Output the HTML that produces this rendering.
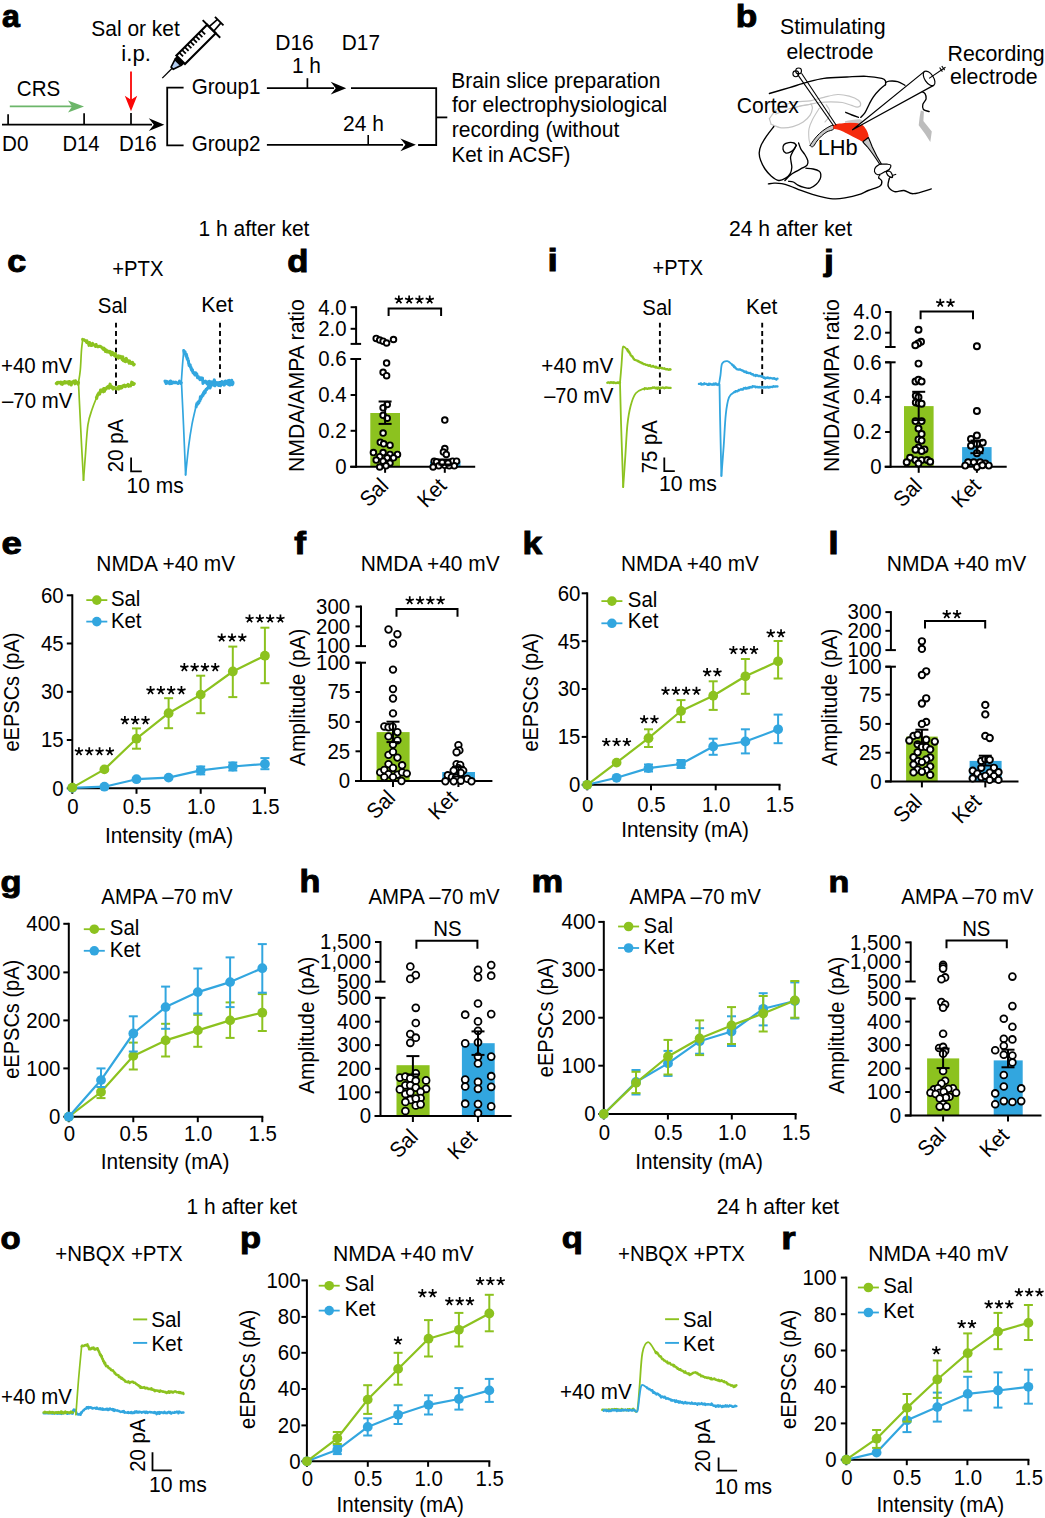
<!DOCTYPE html>
<html><head><meta charset="utf-8"><style>
html,body{margin:0;padding:0;background:#fff;}
svg{display:block;font-family:"Liberation Sans",sans-serif;font-size:21.8px;}
</style></head><body>
<svg width="1045" height="1518" viewBox="0 0 1045 1518">
<rect width="1045" height="1518" fill="#fff"/>
<text x="198.52" y="236.40" textLength="110.95" lengthAdjust="spacingAndGlyphs">1 h after ket</text>
<text x="728.94" y="236.40" textLength="123.21" lengthAdjust="spacingAndGlyphs">24 h after ket</text>
<text x="186.53" y="1213.80" textLength="110.65" lengthAdjust="spacingAndGlyphs">1 h after ket</text>
<text x="716.65" y="1213.80" textLength="122.50" lengthAdjust="spacingAndGlyphs">24 h after ket</text>
<text x="0" y="0" font-size="100" font-weight="bold" stroke="#000" stroke-width="3.130" transform="translate(2.09,27.03) scale(0.3211,0.3178)">a</text>
<text x="0" y="0" font-size="100" font-weight="bold" stroke="#000" stroke-width="3.018" transform="translate(735.66,27.14) scale(0.3525,0.3102)">b</text>
<text x="0" y="0" font-size="100" font-weight="bold" stroke="#000" stroke-width="3.076" transform="translate(7.23,271.54) scale(0.3415,0.3087)">c</text>
<text x="0" y="0" font-size="100" font-weight="bold" stroke="#000" stroke-width="3.033" transform="translate(287.36,271.64) scale(0.3465,0.3129)">d</text>
<text x="0" y="0" font-size="100" font-weight="bold" stroke="#000" stroke-width="2.954" transform="translate(547.55,271.25) scale(0.3709,0.3062)">i</text>
<text x="0" y="0" font-size="100" font-weight="bold" stroke="#000" stroke-width="3.057" transform="translate(824.08,270.74) scale(0.3551,0.2992)">j</text>
<text x="0" y="0" font-size="100" font-weight="bold" stroke="#000" stroke-width="2.913" transform="translate(1.58,553.93) scale(0.3668,0.3196)">e</text>
<text x="0" y="0" font-size="100" font-weight="bold" stroke="#000" stroke-width="3.010" transform="translate(294.33,553.75) scale(0.3528,0.3117)">f</text>
<text x="0" y="0" font-size="100" font-weight="bold" stroke="#000" stroke-width="3.022" transform="translate(522.48,553.75) scale(0.3528,0.3090)">k</text>
<text x="0" y="0" font-size="100" font-weight="bold" stroke="#000" stroke-width="2.916" transform="translate(828.20,553.75) scale(0.3782,0.3076)">l</text>
<text x="0" y="0" font-size="100" font-weight="bold" stroke="#000" stroke-width="3.108" transform="translate(0.53,892.17) scale(0.3436,0.3000)">g</text>
<text x="0" y="0" font-size="100" font-weight="bold" stroke="#000" stroke-width="3.074" transform="translate(299.46,892.25) scale(0.3417,0.3090)">h</text>
<text x="0" y="0" font-size="100" font-weight="bold" stroke="#000" stroke-width="3.022" transform="translate(531.53,892.25) scale(0.3567,0.3051)">m</text>
<text x="0" y="0" font-size="100" font-weight="bold" stroke="#000" stroke-width="3.117" transform="translate(828.44,892.25) scale(0.3402,0.3014)">n</text>
<text x="0" y="0" font-size="100" font-weight="bold" stroke="#000" stroke-width="3.139" transform="translate(0.39,1248.69) scale(0.3294,0.3078)">o</text>
<text x="0" y="0" font-size="100" font-weight="bold" stroke="#000" stroke-width="3.137" transform="translate(239.91,1247.97) scale(0.3446,0.2930)">p</text>
<text x="0" y="0" font-size="100" font-weight="bold" stroke="#000" stroke-width="3.132" transform="translate(561.87,1247.95) scale(0.3446,0.2940)">q</text>
<text x="0" y="0" font-size="100" font-weight="bold" stroke="#000" stroke-width="2.934" transform="translate(781.24,1248.85) scale(0.3710,0.3107)">r</text>
<text x="96.27" y="570.70" textLength="139.01" lengthAdjust="spacingAndGlyphs">NMDA +40 mV</text>
<line x1="72.3" y1="594.3" x2="72.3" y2="789.3" stroke="#000" stroke-width="2.0"/>
<line x1="71.3" y1="788.3" x2="265.9" y2="788.3" stroke="#000" stroke-width="2.0"/>
<line x1="66.8" y1="595.3" x2="72.3" y2="595.3" stroke="#000" stroke-width="2.0"/>
<text x="63.7" y="602.6" text-anchor="end" textLength="22.69" lengthAdjust="spacingAndGlyphs">60</text>
<line x1="66.8" y1="643.5" x2="72.3" y2="643.5" stroke="#000" stroke-width="2.0"/>
<text x="63.7" y="650.8" text-anchor="end" textLength="22.69" lengthAdjust="spacingAndGlyphs">45</text>
<line x1="66.8" y1="691.8" x2="72.3" y2="691.8" stroke="#000" stroke-width="2.0"/>
<text x="63.7" y="699.1" text-anchor="end" textLength="22.69" lengthAdjust="spacingAndGlyphs">30</text>
<line x1="66.8" y1="740.0" x2="72.3" y2="740.0" stroke="#000" stroke-width="2.0"/>
<text x="63.7" y="747.3" text-anchor="end" textLength="22.69" lengthAdjust="spacingAndGlyphs">15</text>
<line x1="66.8" y1="788.3" x2="72.3" y2="788.3" stroke="#000" stroke-width="2.0"/>
<text x="63.7" y="795.6" text-anchor="end" textLength="11.35" lengthAdjust="spacingAndGlyphs">0</text>
<line x1="72.3" y1="788.3" x2="72.3" y2="793.8" stroke="#000" stroke-width="2.0"/>
<text x="72.8" y="814.0" text-anchor="middle" textLength="11.35" lengthAdjust="spacingAndGlyphs">0</text>
<line x1="136.5" y1="788.3" x2="136.5" y2="793.8" stroke="#000" stroke-width="2.0"/>
<text x="137.0" y="814.0" text-anchor="middle" textLength="28.36" lengthAdjust="spacingAndGlyphs">0.5</text>
<line x1="200.7" y1="788.3" x2="200.7" y2="793.8" stroke="#000" stroke-width="2.0"/>
<text x="201.2" y="814.0" text-anchor="middle" textLength="28.36" lengthAdjust="spacingAndGlyphs">1.0</text>
<line x1="264.9" y1="788.3" x2="264.9" y2="793.8" stroke="#000" stroke-width="2.0"/>
<text x="265.4" y="814.0" text-anchor="middle" textLength="28.36" lengthAdjust="spacingAndGlyphs">1.5</text>
<text x="104.98" y="842.50" textLength="128.13" lengthAdjust="spacingAndGlyphs">Intensity (mA)</text>
<text x="18.50" y="750.70" textLength="119.03" lengthAdjust="spacingAndGlyphs" transform="rotate(-90 19.35 750.70)">eEPSCs (pA)</text>
<path d="M72.3,787.9 L104.4,786.7 L136.5,779.2 L168.6,777.6 L200.7,770.4 L232.8,766.5 L264.9,764.0" stroke="#32a6df" stroke-width="2.2" fill="none" stroke-linejoin="round"/>
<line x1="200.7" y1="766.5" x2="200.7" y2="774.4" stroke="#32a6df" stroke-width="2.0"/>
<line x1="196.2" y1="766.5" x2="205.2" y2="766.5" stroke="#32a6df" stroke-width="2.0"/>
<line x1="196.2" y1="774.4" x2="205.2" y2="774.4" stroke="#32a6df" stroke-width="2.0"/>
<line x1="232.8" y1="762.5" x2="232.8" y2="770.5" stroke="#32a6df" stroke-width="2.0"/>
<line x1="228.3" y1="762.5" x2="237.3" y2="762.5" stroke="#32a6df" stroke-width="2.0"/>
<line x1="228.3" y1="770.5" x2="237.3" y2="770.5" stroke="#32a6df" stroke-width="2.0"/>
<line x1="264.9" y1="758.1" x2="264.9" y2="769.2" stroke="#32a6df" stroke-width="2.0"/>
<line x1="260.4" y1="758.1" x2="269.4" y2="758.1" stroke="#32a6df" stroke-width="2.0"/>
<line x1="260.4" y1="769.2" x2="269.4" y2="769.2" stroke="#32a6df" stroke-width="2.0"/>
<circle cx="72.3" cy="787.9" r="4.9" fill="#32a6df"/>
<circle cx="104.4" cy="786.7" r="4.9" fill="#32a6df"/>
<circle cx="136.5" cy="779.2" r="4.9" fill="#32a6df"/>
<circle cx="168.6" cy="777.6" r="4.9" fill="#32a6df"/>
<circle cx="200.7" cy="770.4" r="4.9" fill="#32a6df"/>
<circle cx="232.8" cy="766.5" r="4.9" fill="#32a6df"/>
<circle cx="264.9" cy="764.0" r="4.9" fill="#32a6df"/>
<path d="M72.3,787.6 L104.4,769.4 L136.5,738.7 L168.6,713.2 L200.7,694.6 L232.8,671.5 L264.9,655.7" stroke="#8cc21f" stroke-width="2.2" fill="none" stroke-linejoin="round"/>
<line x1="136.5" y1="728.4" x2="136.5" y2="748.7" stroke="#8cc21f" stroke-width="2.0"/>
<line x1="132.0" y1="728.4" x2="141.0" y2="728.4" stroke="#8cc21f" stroke-width="2.0"/>
<line x1="132.0" y1="748.7" x2="141.0" y2="748.7" stroke="#8cc21f" stroke-width="2.0"/>
<line x1="168.6" y1="698.2" x2="168.6" y2="728.2" stroke="#8cc21f" stroke-width="2.0"/>
<line x1="164.1" y1="698.2" x2="173.1" y2="698.2" stroke="#8cc21f" stroke-width="2.0"/>
<line x1="164.1" y1="728.2" x2="173.1" y2="728.2" stroke="#8cc21f" stroke-width="2.0"/>
<line x1="200.7" y1="675.7" x2="200.7" y2="713.2" stroke="#8cc21f" stroke-width="2.0"/>
<line x1="196.2" y1="675.7" x2="205.2" y2="675.7" stroke="#8cc21f" stroke-width="2.0"/>
<line x1="196.2" y1="713.2" x2="205.2" y2="713.2" stroke="#8cc21f" stroke-width="2.0"/>
<line x1="232.8" y1="646.6" x2="232.8" y2="697.1" stroke="#8cc21f" stroke-width="2.0"/>
<line x1="228.3" y1="646.6" x2="237.3" y2="646.6" stroke="#8cc21f" stroke-width="2.0"/>
<line x1="228.3" y1="697.1" x2="237.3" y2="697.1" stroke="#8cc21f" stroke-width="2.0"/>
<line x1="264.9" y1="627.7" x2="264.9" y2="683.2" stroke="#8cc21f" stroke-width="2.0"/>
<line x1="260.4" y1="627.7" x2="269.4" y2="627.7" stroke="#8cc21f" stroke-width="2.0"/>
<line x1="260.4" y1="683.2" x2="269.4" y2="683.2" stroke="#8cc21f" stroke-width="2.0"/>
<circle cx="72.3" cy="787.6" r="4.9" fill="#8cc21f"/>
<circle cx="104.4" cy="769.4" r="4.9" fill="#8cc21f"/>
<circle cx="136.5" cy="738.7" r="4.9" fill="#8cc21f"/>
<circle cx="168.6" cy="713.2" r="4.9" fill="#8cc21f"/>
<circle cx="200.7" cy="694.6" r="4.9" fill="#8cc21f"/>
<circle cx="232.8" cy="671.5" r="4.9" fill="#8cc21f"/>
<circle cx="264.9" cy="655.7" r="4.9" fill="#8cc21f"/>
<line x1="86.3" y1="600.1" x2="107.3" y2="600.1" stroke="#8cc21f" stroke-width="1.8"/>
<circle cx="96.8" cy="600.1" r="4.8" fill="#8cc21f"/>
<text x="110.9" y="606.4" text-anchor="start" textLength="29.49" lengthAdjust="spacingAndGlyphs">Sal</text>
<line x1="86.3" y1="621.6" x2="107.3" y2="621.6" stroke="#32a6df" stroke-width="1.8"/>
<circle cx="96.8" cy="621.6" r="4.8" fill="#32a6df"/>
<text x="110.9" y="628.0" text-anchor="start" textLength="30.62" lengthAdjust="spacingAndGlyphs">Ket</text>
<path d="M78.95,751.50 L78.95,747.20 M78.95,751.50 L83.04,750.17 M78.95,751.50 L81.48,754.98 M78.95,751.50 L76.42,754.98 M78.95,751.50 L74.86,750.17 " stroke="#000" stroke-width="1.7" fill="none"/>
<path d="M89.25,751.50 L89.25,747.20 M89.25,751.50 L93.34,750.17 M89.25,751.50 L91.78,754.98 M89.25,751.50 L86.72,754.98 M89.25,751.50 L85.16,750.17 " stroke="#000" stroke-width="1.7" fill="none"/>
<path d="M99.55,751.50 L99.55,747.20 M99.55,751.50 L103.64,750.17 M99.55,751.50 L102.08,754.98 M99.55,751.50 L97.02,754.98 M99.55,751.50 L95.46,750.17 " stroke="#000" stroke-width="1.7" fill="none"/>
<path d="M109.85,751.50 L109.85,747.20 M109.85,751.50 L113.94,750.17 M109.85,751.50 L112.38,754.98 M109.85,751.50 L107.32,754.98 M109.85,751.50 L105.76,750.17 " stroke="#000" stroke-width="1.7" fill="none"/>
<path d="M124.90,720.40 L124.90,716.10 M124.90,720.40 L128.99,719.07 M124.90,720.40 L127.43,723.88 M124.90,720.40 L122.37,723.88 M124.90,720.40 L120.81,719.07 " stroke="#000" stroke-width="1.7" fill="none"/>
<path d="M135.20,720.40 L135.20,716.10 M135.20,720.40 L139.29,719.07 M135.20,720.40 L137.73,723.88 M135.20,720.40 L132.67,723.88 M135.20,720.40 L131.11,719.07 " stroke="#000" stroke-width="1.7" fill="none"/>
<path d="M145.50,720.40 L145.50,716.10 M145.50,720.40 L149.59,719.07 M145.50,720.40 L148.03,723.88 M145.50,720.40 L142.97,723.88 M145.50,720.40 L141.41,719.07 " stroke="#000" stroke-width="1.7" fill="none"/>
<path d="M150.55,690.40 L150.55,686.10 M150.55,690.40 L154.64,689.07 M150.55,690.40 L153.08,693.88 M150.55,690.40 L148.02,693.88 M150.55,690.40 L146.46,689.07 " stroke="#000" stroke-width="1.7" fill="none"/>
<path d="M160.85,690.40 L160.85,686.10 M160.85,690.40 L164.94,689.07 M160.85,690.40 L163.38,693.88 M160.85,690.40 L158.32,693.88 M160.85,690.40 L156.76,689.07 " stroke="#000" stroke-width="1.7" fill="none"/>
<path d="M171.15,690.40 L171.15,686.10 M171.15,690.40 L175.24,689.07 M171.15,690.40 L173.68,693.88 M171.15,690.40 L168.62,693.88 M171.15,690.40 L167.06,689.07 " stroke="#000" stroke-width="1.7" fill="none"/>
<path d="M181.45,690.40 L181.45,686.10 M181.45,690.40 L185.54,689.07 M181.45,690.40 L183.98,693.88 M181.45,690.40 L178.92,693.88 M181.45,690.40 L177.36,689.07 " stroke="#000" stroke-width="1.7" fill="none"/>
<path d="M184.35,667.40 L184.35,663.10 M184.35,667.40 L188.44,666.07 M184.35,667.40 L186.88,670.88 M184.35,667.40 L181.82,670.88 M184.35,667.40 L180.26,666.07 " stroke="#000" stroke-width="1.7" fill="none"/>
<path d="M194.65,667.40 L194.65,663.10 M194.65,667.40 L198.74,666.07 M194.65,667.40 L197.18,670.88 M194.65,667.40 L192.12,670.88 M194.65,667.40 L190.56,666.07 " stroke="#000" stroke-width="1.7" fill="none"/>
<path d="M204.95,667.40 L204.95,663.10 M204.95,667.40 L209.04,666.07 M204.95,667.40 L207.48,670.88 M204.95,667.40 L202.42,670.88 M204.95,667.40 L200.86,666.07 " stroke="#000" stroke-width="1.7" fill="none"/>
<path d="M215.25,667.40 L215.25,663.10 M215.25,667.40 L219.34,666.07 M215.25,667.40 L217.78,670.88 M215.25,667.40 L212.72,670.88 M215.25,667.40 L211.16,666.07 " stroke="#000" stroke-width="1.7" fill="none"/>
<path d="M221.70,637.70 L221.70,633.40 M221.70,637.70 L225.79,636.37 M221.70,637.70 L224.23,641.18 M221.70,637.70 L219.17,641.18 M221.70,637.70 L217.61,636.37 " stroke="#000" stroke-width="1.7" fill="none"/>
<path d="M232.00,637.70 L232.00,633.40 M232.00,637.70 L236.09,636.37 M232.00,637.70 L234.53,641.18 M232.00,637.70 L229.47,641.18 M232.00,637.70 L227.91,636.37 " stroke="#000" stroke-width="1.7" fill="none"/>
<path d="M242.30,637.70 L242.30,633.40 M242.30,637.70 L246.39,636.37 M242.30,637.70 L244.83,641.18 M242.30,637.70 L239.77,641.18 M242.30,637.70 L238.21,636.37 " stroke="#000" stroke-width="1.7" fill="none"/>
<path d="M249.55,618.80 L249.55,614.50 M249.55,618.80 L253.64,617.47 M249.55,618.80 L252.08,622.28 M249.55,618.80 L247.02,622.28 M249.55,618.80 L245.46,617.47 " stroke="#000" stroke-width="1.7" fill="none"/>
<path d="M259.85,618.80 L259.85,614.50 M259.85,618.80 L263.94,617.47 M259.85,618.80 L262.38,622.28 M259.85,618.80 L257.32,622.28 M259.85,618.80 L255.76,617.47 " stroke="#000" stroke-width="1.7" fill="none"/>
<path d="M270.15,618.80 L270.15,614.50 M270.15,618.80 L274.24,617.47 M270.15,618.80 L272.68,622.28 M270.15,618.80 L267.62,622.28 M270.15,618.80 L266.06,617.47 " stroke="#000" stroke-width="1.7" fill="none"/>
<path d="M280.45,618.80 L280.45,614.50 M280.45,618.80 L284.54,617.47 M280.45,618.80 L282.98,622.28 M280.45,618.80 L277.92,622.28 M280.45,618.80 L276.36,617.47 " stroke="#000" stroke-width="1.7" fill="none"/>
<text x="620.99" y="571.10" textLength="137.79" lengthAdjust="spacingAndGlyphs">NMDA +40 mV</text>
<line x1="587.2" y1="592.3" x2="587.2" y2="785.8" stroke="#000" stroke-width="2.0"/>
<line x1="586.2" y1="784.8" x2="780.5" y2="784.8" stroke="#000" stroke-width="2.0"/>
<line x1="581.7" y1="593.3" x2="587.2" y2="593.3" stroke="#000" stroke-width="2.0"/>
<text x="580.4" y="600.6" text-anchor="end" textLength="22.69" lengthAdjust="spacingAndGlyphs">60</text>
<line x1="581.7" y1="641.2" x2="587.2" y2="641.2" stroke="#000" stroke-width="2.0"/>
<text x="580.4" y="648.5" text-anchor="end" textLength="22.69" lengthAdjust="spacingAndGlyphs">45</text>
<line x1="581.7" y1="689.0" x2="587.2" y2="689.0" stroke="#000" stroke-width="2.0"/>
<text x="580.4" y="696.3" text-anchor="end" textLength="22.69" lengthAdjust="spacingAndGlyphs">30</text>
<line x1="581.7" y1="736.9" x2="587.2" y2="736.9" stroke="#000" stroke-width="2.0"/>
<text x="580.4" y="744.2" text-anchor="end" textLength="22.69" lengthAdjust="spacingAndGlyphs">15</text>
<line x1="581.7" y1="784.8" x2="587.2" y2="784.8" stroke="#000" stroke-width="2.0"/>
<text x="580.4" y="792.1" text-anchor="end" textLength="11.35" lengthAdjust="spacingAndGlyphs">0</text>
<line x1="587.2" y1="784.8" x2="587.2" y2="790.3" stroke="#000" stroke-width="2.0"/>
<text x="587.7" y="811.7" text-anchor="middle" textLength="11.35" lengthAdjust="spacingAndGlyphs">0</text>
<line x1="651.0" y1="784.8" x2="651.0" y2="790.3" stroke="#000" stroke-width="2.0"/>
<text x="651.5" y="811.7" text-anchor="middle" textLength="28.36" lengthAdjust="spacingAndGlyphs">0.5</text>
<line x1="715.7" y1="784.8" x2="715.7" y2="790.3" stroke="#000" stroke-width="2.0"/>
<text x="716.2" y="811.7" text-anchor="middle" textLength="28.36" lengthAdjust="spacingAndGlyphs">1.0</text>
<line x1="779.5" y1="784.8" x2="779.5" y2="790.3" stroke="#000" stroke-width="2.0"/>
<text x="780.0" y="811.7" text-anchor="middle" textLength="28.36" lengthAdjust="spacingAndGlyphs">1.5</text>
<text x="621.29" y="836.70" textLength="127.62" lengthAdjust="spacingAndGlyphs">Intensity (mA)</text>
<text x="537.15" y="750.70" textLength="118.52" lengthAdjust="spacingAndGlyphs" transform="rotate(-90 538.00 750.70)">eEPSCs (pA)</text>
<path d="M587.2,784.8 L616.6,777.8 L648.5,768.1 L681.0,764.0 L713.2,746.5 L745.4,741.5 L778.1,729.3" stroke="#32a6df" stroke-width="2.2" fill="none" stroke-linejoin="round"/>
<line x1="648.5" y1="764.5" x2="648.5" y2="771.5" stroke="#32a6df" stroke-width="2.0"/>
<line x1="644.0" y1="764.5" x2="653.0" y2="764.5" stroke="#32a6df" stroke-width="2.0"/>
<line x1="644.0" y1="771.5" x2="653.0" y2="771.5" stroke="#32a6df" stroke-width="2.0"/>
<line x1="681.0" y1="760.0" x2="681.0" y2="768.0" stroke="#32a6df" stroke-width="2.0"/>
<line x1="676.5" y1="760.0" x2="685.5" y2="760.0" stroke="#32a6df" stroke-width="2.0"/>
<line x1="676.5" y1="768.0" x2="685.5" y2="768.0" stroke="#32a6df" stroke-width="2.0"/>
<line x1="713.2" y1="738.7" x2="713.2" y2="754.8" stroke="#32a6df" stroke-width="2.0"/>
<line x1="708.7" y1="738.7" x2="717.7" y2="738.7" stroke="#32a6df" stroke-width="2.0"/>
<line x1="708.7" y1="754.8" x2="717.7" y2="754.8" stroke="#32a6df" stroke-width="2.0"/>
<line x1="745.4" y1="729.3" x2="745.4" y2="753.4" stroke="#32a6df" stroke-width="2.0"/>
<line x1="740.9" y1="729.3" x2="749.9" y2="729.3" stroke="#32a6df" stroke-width="2.0"/>
<line x1="740.9" y1="753.4" x2="749.9" y2="753.4" stroke="#32a6df" stroke-width="2.0"/>
<line x1="778.1" y1="714.6" x2="778.1" y2="743.2" stroke="#32a6df" stroke-width="2.0"/>
<line x1="773.6" y1="714.6" x2="782.6" y2="714.6" stroke="#32a6df" stroke-width="2.0"/>
<line x1="773.6" y1="743.2" x2="782.6" y2="743.2" stroke="#32a6df" stroke-width="2.0"/>
<circle cx="587.2" cy="784.8" r="4.9" fill="#32a6df"/>
<circle cx="616.6" cy="777.8" r="4.9" fill="#32a6df"/>
<circle cx="648.5" cy="768.1" r="4.9" fill="#32a6df"/>
<circle cx="681.0" cy="764.0" r="4.9" fill="#32a6df"/>
<circle cx="713.2" cy="746.5" r="4.9" fill="#32a6df"/>
<circle cx="745.4" cy="741.5" r="4.9" fill="#32a6df"/>
<circle cx="778.1" cy="729.3" r="4.9" fill="#32a6df"/>
<path d="M587.2,784.8 L616.6,762.6 L648.5,738.2 L681.0,711.0 L713.2,695.7 L745.4,676.3 L778.1,661.3" stroke="#8cc21f" stroke-width="2.2" fill="none" stroke-linejoin="round"/>
<line x1="648.5" y1="729.3" x2="648.5" y2="747.0" stroke="#8cc21f" stroke-width="2.0"/>
<line x1="644.0" y1="729.3" x2="653.0" y2="729.3" stroke="#8cc21f" stroke-width="2.0"/>
<line x1="644.0" y1="747.0" x2="653.0" y2="747.0" stroke="#8cc21f" stroke-width="2.0"/>
<line x1="681.0" y1="700.1" x2="681.0" y2="722.1" stroke="#8cc21f" stroke-width="2.0"/>
<line x1="676.5" y1="700.1" x2="685.5" y2="700.1" stroke="#8cc21f" stroke-width="2.0"/>
<line x1="676.5" y1="722.1" x2="685.5" y2="722.1" stroke="#8cc21f" stroke-width="2.0"/>
<line x1="713.2" y1="681.3" x2="713.2" y2="709.9" stroke="#8cc21f" stroke-width="2.0"/>
<line x1="708.7" y1="681.3" x2="717.7" y2="681.3" stroke="#8cc21f" stroke-width="2.0"/>
<line x1="708.7" y1="709.9" x2="717.7" y2="709.9" stroke="#8cc21f" stroke-width="2.0"/>
<line x1="745.4" y1="659.0" x2="745.4" y2="693.8" stroke="#8cc21f" stroke-width="2.0"/>
<line x1="740.9" y1="659.0" x2="749.9" y2="659.0" stroke="#8cc21f" stroke-width="2.0"/>
<line x1="740.9" y1="693.8" x2="749.9" y2="693.8" stroke="#8cc21f" stroke-width="2.0"/>
<line x1="778.1" y1="641.0" x2="778.1" y2="678.5" stroke="#8cc21f" stroke-width="2.0"/>
<line x1="773.6" y1="641.0" x2="782.6" y2="641.0" stroke="#8cc21f" stroke-width="2.0"/>
<line x1="773.6" y1="678.5" x2="782.6" y2="678.5" stroke="#8cc21f" stroke-width="2.0"/>
<circle cx="587.2" cy="784.8" r="4.9" fill="#8cc21f"/>
<circle cx="616.6" cy="762.6" r="4.9" fill="#8cc21f"/>
<circle cx="648.5" cy="738.2" r="4.9" fill="#8cc21f"/>
<circle cx="681.0" cy="711.0" r="4.9" fill="#8cc21f"/>
<circle cx="713.2" cy="695.7" r="4.9" fill="#8cc21f"/>
<circle cx="745.4" cy="676.3" r="4.9" fill="#8cc21f"/>
<circle cx="778.1" cy="661.3" r="4.9" fill="#8cc21f"/>
<line x1="601.4" y1="601.1" x2="622.4" y2="601.1" stroke="#8cc21f" stroke-width="1.8"/>
<circle cx="611.9" cy="601.1" r="4.8" fill="#8cc21f"/>
<text x="627.8" y="606.7" text-anchor="start" textLength="29.49" lengthAdjust="spacingAndGlyphs">Sal</text>
<line x1="601.4" y1="623.3" x2="622.4" y2="623.3" stroke="#32a6df" stroke-width="1.8"/>
<circle cx="611.9" cy="623.3" r="4.8" fill="#32a6df"/>
<text x="627.8" y="628.0" text-anchor="start" textLength="30.62" lengthAdjust="spacingAndGlyphs">Ket</text>
<path d="M606.30,742.30 L606.30,738.00 M606.30,742.30 L610.39,740.97 M606.30,742.30 L608.83,745.78 M606.30,742.30 L603.77,745.78 M606.30,742.30 L602.21,740.97 " stroke="#000" stroke-width="1.7" fill="none"/>
<path d="M616.60,742.30 L616.60,738.00 M616.60,742.30 L620.69,740.97 M616.60,742.30 L619.13,745.78 M616.60,742.30 L614.07,745.78 M616.60,742.30 L612.51,740.97 " stroke="#000" stroke-width="1.7" fill="none"/>
<path d="M626.90,742.30 L626.90,738.00 M626.90,742.30 L630.99,740.97 M626.90,742.30 L629.43,745.78 M626.90,742.30 L624.37,745.78 M626.90,742.30 L622.81,740.97 " stroke="#000" stroke-width="1.7" fill="none"/>
<path d="M644.15,719.60 L644.15,715.30 M644.15,719.60 L648.24,718.27 M644.15,719.60 L646.68,723.08 M644.15,719.60 L641.62,723.08 M644.15,719.60 L640.06,718.27 " stroke="#000" stroke-width="1.7" fill="none"/>
<path d="M654.45,719.60 L654.45,715.30 M654.45,719.60 L658.54,718.27 M654.45,719.60 L656.98,723.08 M654.45,719.60 L651.92,723.08 M654.45,719.60 L650.36,718.27 " stroke="#000" stroke-width="1.7" fill="none"/>
<path d="M665.55,691.00 L665.55,686.70 M665.55,691.00 L669.64,689.67 M665.55,691.00 L668.08,694.48 M665.55,691.00 L663.02,694.48 M665.55,691.00 L661.46,689.67 " stroke="#000" stroke-width="1.7" fill="none"/>
<path d="M675.85,691.00 L675.85,686.70 M675.85,691.00 L679.94,689.67 M675.85,691.00 L678.38,694.48 M675.85,691.00 L673.32,694.48 M675.85,691.00 L671.76,689.67 " stroke="#000" stroke-width="1.7" fill="none"/>
<path d="M686.15,691.00 L686.15,686.70 M686.15,691.00 L690.24,689.67 M686.15,691.00 L688.68,694.48 M686.15,691.00 L683.62,694.48 M686.15,691.00 L682.06,689.67 " stroke="#000" stroke-width="1.7" fill="none"/>
<path d="M696.45,691.00 L696.45,686.70 M696.45,691.00 L700.54,689.67 M696.45,691.00 L698.98,694.48 M696.45,691.00 L693.92,694.48 M696.45,691.00 L692.36,689.67 " stroke="#000" stroke-width="1.7" fill="none"/>
<path d="M707.15,672.40 L707.15,668.10 M707.15,672.40 L711.24,671.07 M707.15,672.40 L709.68,675.88 M707.15,672.40 L704.62,675.88 M707.15,672.40 L703.06,671.07 " stroke="#000" stroke-width="1.7" fill="none"/>
<path d="M717.45,672.40 L717.45,668.10 M717.45,672.40 L721.54,671.07 M717.45,672.40 L719.98,675.88 M717.45,672.40 L714.92,675.88 M717.45,672.40 L713.36,671.07 " stroke="#000" stroke-width="1.7" fill="none"/>
<path d="M733.40,650.20 L733.40,645.90 M733.40,650.20 L737.49,648.87 M733.40,650.20 L735.93,653.68 M733.40,650.20 L730.87,653.68 M733.40,650.20 L729.31,648.87 " stroke="#000" stroke-width="1.7" fill="none"/>
<path d="M743.70,650.20 L743.70,645.90 M743.70,650.20 L747.79,648.87 M743.70,650.20 L746.23,653.68 M743.70,650.20 L741.17,653.68 M743.70,650.20 L739.61,648.87 " stroke="#000" stroke-width="1.7" fill="none"/>
<path d="M754.00,650.20 L754.00,645.90 M754.00,650.20 L758.09,648.87 M754.00,650.20 L756.53,653.68 M754.00,650.20 L751.47,653.68 M754.00,650.20 L749.91,648.87 " stroke="#000" stroke-width="1.7" fill="none"/>
<path d="M770.75,633.50 L770.75,629.20 M770.75,633.50 L774.84,632.17 M770.75,633.50 L773.28,636.98 M770.75,633.50 L768.22,636.98 M770.75,633.50 L766.66,632.17 " stroke="#000" stroke-width="1.7" fill="none"/>
<path d="M781.05,633.50 L781.05,629.20 M781.05,633.50 L785.14,632.17 M781.05,633.50 L783.58,636.98 M781.05,633.50 L778.52,636.98 M781.05,633.50 L776.96,632.17 " stroke="#000" stroke-width="1.7" fill="none"/>
<text x="101.25" y="903.90" textLength="131.43" lengthAdjust="spacingAndGlyphs">AMPA –70 mV</text>
<line x1="68.8" y1="922.8" x2="68.8" y2="1117.7" stroke="#000" stroke-width="2.0"/>
<line x1="67.8" y1="1116.7" x2="263.3" y2="1116.7" stroke="#000" stroke-width="2.0"/>
<line x1="63.3" y1="923.8" x2="68.8" y2="923.8" stroke="#000" stroke-width="2.0"/>
<text x="60.4" y="931.1" text-anchor="end" textLength="34.04" lengthAdjust="spacingAndGlyphs">400</text>
<line x1="63.3" y1="972.4" x2="68.8" y2="972.4" stroke="#000" stroke-width="2.0"/>
<text x="60.4" y="979.7" text-anchor="end" textLength="34.04" lengthAdjust="spacingAndGlyphs">300</text>
<line x1="63.3" y1="1020.4" x2="68.8" y2="1020.4" stroke="#000" stroke-width="2.0"/>
<text x="60.4" y="1027.7" text-anchor="end" textLength="34.04" lengthAdjust="spacingAndGlyphs">200</text>
<line x1="63.3" y1="1068.4" x2="68.8" y2="1068.4" stroke="#000" stroke-width="2.0"/>
<text x="60.4" y="1075.7" text-anchor="end" textLength="34.04" lengthAdjust="spacingAndGlyphs">100</text>
<line x1="63.3" y1="1116.7" x2="68.8" y2="1116.7" stroke="#000" stroke-width="2.0"/>
<text x="60.4" y="1124.0" text-anchor="end" textLength="11.35" lengthAdjust="spacingAndGlyphs">0</text>
<line x1="68.8" y1="1116.7" x2="68.8" y2="1122.2" stroke="#000" stroke-width="2.0"/>
<text x="69.3" y="1141.2" text-anchor="middle" textLength="11.35" lengthAdjust="spacingAndGlyphs">0</text>
<line x1="133.3" y1="1116.7" x2="133.3" y2="1122.2" stroke="#000" stroke-width="2.0"/>
<text x="133.8" y="1141.2" text-anchor="middle" textLength="28.36" lengthAdjust="spacingAndGlyphs">0.5</text>
<line x1="197.8" y1="1116.7" x2="197.8" y2="1122.2" stroke="#000" stroke-width="2.0"/>
<text x="198.3" y="1141.2" text-anchor="middle" textLength="28.36" lengthAdjust="spacingAndGlyphs">1.0</text>
<line x1="262.3" y1="1116.7" x2="262.3" y2="1122.2" stroke="#000" stroke-width="2.0"/>
<text x="262.8" y="1141.2" text-anchor="middle" textLength="28.36" lengthAdjust="spacingAndGlyphs">1.5</text>
<text x="100.77" y="1168.90" textLength="128.65" lengthAdjust="spacingAndGlyphs">Intensity (mA)</text>
<text x="18.35" y="1077.90" textLength="118.93" lengthAdjust="spacingAndGlyphs" transform="rotate(-90 19.20 1077.90)">eEPSCs (pA)</text>
<path d="M68.8,1116.7 L101.0,1092.0 L133.3,1055.9 L165.6,1040.4 L197.8,1030.4 L230.1,1020.4 L262.3,1012.7" stroke="#8cc21f" stroke-width="2.2" fill="none" stroke-linejoin="round"/>
<line x1="101.0" y1="1087.0" x2="101.0" y2="1098.1" stroke="#8cc21f" stroke-width="2.0"/>
<line x1="96.5" y1="1087.0" x2="105.5" y2="1087.0" stroke="#8cc21f" stroke-width="2.0"/>
<line x1="96.5" y1="1098.1" x2="105.5" y2="1098.1" stroke="#8cc21f" stroke-width="2.0"/>
<line x1="133.3" y1="1042.6" x2="133.3" y2="1069.5" stroke="#8cc21f" stroke-width="2.0"/>
<line x1="128.8" y1="1042.6" x2="137.8" y2="1042.6" stroke="#8cc21f" stroke-width="2.0"/>
<line x1="128.8" y1="1069.5" x2="137.8" y2="1069.5" stroke="#8cc21f" stroke-width="2.0"/>
<line x1="165.6" y1="1023.8" x2="165.6" y2="1056.5" stroke="#8cc21f" stroke-width="2.0"/>
<line x1="161.1" y1="1023.8" x2="170.1" y2="1023.8" stroke="#8cc21f" stroke-width="2.0"/>
<line x1="161.1" y1="1056.5" x2="170.1" y2="1056.5" stroke="#8cc21f" stroke-width="2.0"/>
<line x1="197.8" y1="1014.9" x2="197.8" y2="1046.8" stroke="#8cc21f" stroke-width="2.0"/>
<line x1="193.3" y1="1014.9" x2="202.3" y2="1014.9" stroke="#8cc21f" stroke-width="2.0"/>
<line x1="193.3" y1="1046.8" x2="202.3" y2="1046.8" stroke="#8cc21f" stroke-width="2.0"/>
<line x1="230.1" y1="1002.4" x2="230.1" y2="1037.9" stroke="#8cc21f" stroke-width="2.0"/>
<line x1="225.6" y1="1002.4" x2="234.6" y2="1002.4" stroke="#8cc21f" stroke-width="2.0"/>
<line x1="225.6" y1="1037.9" x2="234.6" y2="1037.9" stroke="#8cc21f" stroke-width="2.0"/>
<line x1="262.3" y1="994.1" x2="262.3" y2="1031.0" stroke="#8cc21f" stroke-width="2.0"/>
<line x1="257.8" y1="994.1" x2="266.8" y2="994.1" stroke="#8cc21f" stroke-width="2.0"/>
<line x1="257.8" y1="1031.0" x2="266.8" y2="1031.0" stroke="#8cc21f" stroke-width="2.0"/>
<circle cx="68.8" cy="1116.7" r="4.9" fill="#8cc21f"/>
<circle cx="101.0" cy="1092.0" r="4.9" fill="#8cc21f"/>
<circle cx="133.3" cy="1055.9" r="4.9" fill="#8cc21f"/>
<circle cx="165.6" cy="1040.4" r="4.9" fill="#8cc21f"/>
<circle cx="197.8" cy="1030.4" r="4.9" fill="#8cc21f"/>
<circle cx="230.1" cy="1020.4" r="4.9" fill="#8cc21f"/>
<circle cx="262.3" cy="1012.7" r="4.9" fill="#8cc21f"/>
<path d="M68.8,1116.7 L101.0,1080.1 L133.3,1033.5 L165.6,1007.1 L197.8,992.1 L230.1,982.1 L262.3,968.2" stroke="#32a6df" stroke-width="2.2" fill="none" stroke-linejoin="round"/>
<line x1="101.0" y1="1068.4" x2="101.0" y2="1087.0" stroke="#32a6df" stroke-width="2.0"/>
<line x1="96.5" y1="1068.4" x2="105.5" y2="1068.4" stroke="#32a6df" stroke-width="2.0"/>
<line x1="96.5" y1="1087.0" x2="105.5" y2="1087.0" stroke="#32a6df" stroke-width="2.0"/>
<line x1="133.3" y1="1016.3" x2="133.3" y2="1051.5" stroke="#32a6df" stroke-width="2.0"/>
<line x1="128.8" y1="1016.3" x2="137.8" y2="1016.3" stroke="#32a6df" stroke-width="2.0"/>
<line x1="128.8" y1="1051.5" x2="137.8" y2="1051.5" stroke="#32a6df" stroke-width="2.0"/>
<line x1="165.6" y1="986.6" x2="165.6" y2="1028.8" stroke="#32a6df" stroke-width="2.0"/>
<line x1="161.1" y1="986.6" x2="170.1" y2="986.6" stroke="#32a6df" stroke-width="2.0"/>
<line x1="161.1" y1="1028.8" x2="170.1" y2="1028.8" stroke="#32a6df" stroke-width="2.0"/>
<line x1="197.8" y1="968.5" x2="197.8" y2="1013.5" stroke="#32a6df" stroke-width="2.0"/>
<line x1="193.3" y1="968.5" x2="202.3" y2="968.5" stroke="#32a6df" stroke-width="2.0"/>
<line x1="193.3" y1="1013.5" x2="202.3" y2="1013.5" stroke="#32a6df" stroke-width="2.0"/>
<line x1="230.1" y1="957.4" x2="230.1" y2="1007.1" stroke="#32a6df" stroke-width="2.0"/>
<line x1="225.6" y1="957.4" x2="234.6" y2="957.4" stroke="#32a6df" stroke-width="2.0"/>
<line x1="225.6" y1="1007.1" x2="234.6" y2="1007.1" stroke="#32a6df" stroke-width="2.0"/>
<line x1="262.3" y1="944.1" x2="262.3" y2="992.7" stroke="#32a6df" stroke-width="2.0"/>
<line x1="257.8" y1="944.1" x2="266.8" y2="944.1" stroke="#32a6df" stroke-width="2.0"/>
<line x1="257.8" y1="992.7" x2="266.8" y2="992.7" stroke="#32a6df" stroke-width="2.0"/>
<circle cx="68.8" cy="1116.7" r="4.9" fill="#32a6df"/>
<circle cx="101.0" cy="1080.1" r="4.9" fill="#32a6df"/>
<circle cx="133.3" cy="1033.5" r="4.9" fill="#32a6df"/>
<circle cx="165.6" cy="1007.1" r="4.9" fill="#32a6df"/>
<circle cx="197.8" cy="992.1" r="4.9" fill="#32a6df"/>
<circle cx="230.1" cy="982.1" r="4.9" fill="#32a6df"/>
<circle cx="262.3" cy="968.2" r="4.9" fill="#32a6df"/>
<line x1="83.8" y1="929.2" x2="104.8" y2="929.2" stroke="#8cc21f" stroke-width="1.8"/>
<circle cx="94.3" cy="929.2" r="4.8" fill="#8cc21f"/>
<text x="109.8" y="934.9" text-anchor="start" textLength="29.49" lengthAdjust="spacingAndGlyphs">Sal</text>
<line x1="83.8" y1="950.8" x2="104.8" y2="950.8" stroke="#32a6df" stroke-width="1.8"/>
<circle cx="94.3" cy="950.8" r="4.8" fill="#32a6df"/>
<text x="109.8" y="956.7" text-anchor="start" textLength="30.62" lengthAdjust="spacingAndGlyphs">Ket</text>
<text x="629.55" y="903.90" textLength="131.43" lengthAdjust="spacingAndGlyphs">AMPA –70 mV</text>
<line x1="603.8" y1="920.9" x2="603.8" y2="1115.0" stroke="#000" stroke-width="2.0"/>
<line x1="602.8" y1="1114.0" x2="796.6" y2="1114.0" stroke="#000" stroke-width="2.0"/>
<line x1="598.3" y1="921.9" x2="603.8" y2="921.9" stroke="#000" stroke-width="2.0"/>
<text x="595.6" y="929.2" text-anchor="end" textLength="34.04" lengthAdjust="spacingAndGlyphs">400</text>
<line x1="598.3" y1="969.9" x2="603.8" y2="969.9" stroke="#000" stroke-width="2.0"/>
<text x="595.6" y="977.2" text-anchor="end" textLength="34.04" lengthAdjust="spacingAndGlyphs">300</text>
<line x1="598.3" y1="1017.7" x2="603.8" y2="1017.7" stroke="#000" stroke-width="2.0"/>
<text x="595.6" y="1025.0" text-anchor="end" textLength="34.04" lengthAdjust="spacingAndGlyphs">200</text>
<line x1="598.3" y1="1065.7" x2="603.8" y2="1065.7" stroke="#000" stroke-width="2.0"/>
<text x="595.6" y="1073.0" text-anchor="end" textLength="34.04" lengthAdjust="spacingAndGlyphs">100</text>
<line x1="598.3" y1="1114.0" x2="603.8" y2="1114.0" stroke="#000" stroke-width="2.0"/>
<text x="595.6" y="1121.3" text-anchor="end" textLength="11.35" lengthAdjust="spacingAndGlyphs">0</text>
<line x1="603.8" y1="1114.0" x2="603.8" y2="1119.5" stroke="#000" stroke-width="2.0"/>
<text x="604.3" y="1139.8" text-anchor="middle" textLength="11.35" lengthAdjust="spacingAndGlyphs">0</text>
<line x1="667.9" y1="1114.0" x2="667.9" y2="1119.5" stroke="#000" stroke-width="2.0"/>
<text x="668.4" y="1139.8" text-anchor="middle" textLength="28.36" lengthAdjust="spacingAndGlyphs">0.5</text>
<line x1="731.8" y1="1114.0" x2="731.8" y2="1119.5" stroke="#000" stroke-width="2.0"/>
<text x="732.3" y="1139.8" text-anchor="middle" textLength="28.36" lengthAdjust="spacingAndGlyphs">1.0</text>
<line x1="795.6" y1="1114.0" x2="795.6" y2="1119.5" stroke="#000" stroke-width="2.0"/>
<text x="796.1" y="1139.8" text-anchor="middle" textLength="28.36" lengthAdjust="spacingAndGlyphs">1.5</text>
<text x="635.19" y="1168.90" textLength="127.62" lengthAdjust="spacingAndGlyphs">Intensity (mA)</text>
<text x="552.65" y="1076.30" textLength="119.23" lengthAdjust="spacingAndGlyphs" transform="rotate(-90 553.50 1076.30)">eEPSCs (pA)</text>
<path d="M603.8,1114.0 L636.0,1082.0 L668.0,1063.4 L699.6,1041.2 L731.5,1031.5 L763.2,1008.8 L794.8,1001.0" stroke="#32a6df" stroke-width="2.2" fill="none" stroke-linejoin="round"/>
<line x1="636.0" y1="1070.0" x2="636.0" y2="1094.5" stroke="#32a6df" stroke-width="2.0"/>
<line x1="631.5" y1="1070.0" x2="640.5" y2="1070.0" stroke="#32a6df" stroke-width="2.0"/>
<line x1="631.5" y1="1094.5" x2="640.5" y2="1094.5" stroke="#32a6df" stroke-width="2.0"/>
<line x1="668.0" y1="1050.9" x2="668.0" y2="1075.9" stroke="#32a6df" stroke-width="2.0"/>
<line x1="663.5" y1="1050.9" x2="672.5" y2="1050.9" stroke="#32a6df" stroke-width="2.0"/>
<line x1="663.5" y1="1075.9" x2="672.5" y2="1075.9" stroke="#32a6df" stroke-width="2.0"/>
<line x1="699.6" y1="1028.2" x2="699.6" y2="1053.7" stroke="#32a6df" stroke-width="2.0"/>
<line x1="695.1" y1="1028.2" x2="704.1" y2="1028.2" stroke="#32a6df" stroke-width="2.0"/>
<line x1="695.1" y1="1053.7" x2="704.1" y2="1053.7" stroke="#32a6df" stroke-width="2.0"/>
<line x1="731.5" y1="1016.3" x2="731.5" y2="1046.0" stroke="#32a6df" stroke-width="2.0"/>
<line x1="727.0" y1="1016.3" x2="736.0" y2="1016.3" stroke="#32a6df" stroke-width="2.0"/>
<line x1="727.0" y1="1046.0" x2="736.0" y2="1046.0" stroke="#32a6df" stroke-width="2.0"/>
<line x1="763.2" y1="993.2" x2="763.2" y2="1025.4" stroke="#32a6df" stroke-width="2.0"/>
<line x1="758.7" y1="993.2" x2="767.7" y2="993.2" stroke="#32a6df" stroke-width="2.0"/>
<line x1="758.7" y1="1025.4" x2="767.7" y2="1025.4" stroke="#32a6df" stroke-width="2.0"/>
<line x1="794.8" y1="982.4" x2="794.8" y2="1018.5" stroke="#32a6df" stroke-width="2.0"/>
<line x1="790.3" y1="982.4" x2="799.3" y2="982.4" stroke="#32a6df" stroke-width="2.0"/>
<line x1="790.3" y1="1018.5" x2="799.3" y2="1018.5" stroke="#32a6df" stroke-width="2.0"/>
<circle cx="603.8" cy="1114.0" r="4.9" fill="#32a6df"/>
<circle cx="636.0" cy="1082.0" r="4.9" fill="#32a6df"/>
<circle cx="668.0" cy="1063.4" r="4.9" fill="#32a6df"/>
<circle cx="699.6" cy="1041.2" r="4.9" fill="#32a6df"/>
<circle cx="731.5" cy="1031.5" r="4.9" fill="#32a6df"/>
<circle cx="763.2" cy="1008.8" r="4.9" fill="#32a6df"/>
<circle cx="794.8" cy="1001.0" r="4.9" fill="#32a6df"/>
<path d="M603.8,1114.0 L636.0,1082.9 L668.0,1056.5 L699.6,1038.5 L731.5,1025.4 L763.2,1013.5 L794.8,1000.4" stroke="#8cc21f" stroke-width="2.2" fill="none" stroke-linejoin="round"/>
<line x1="636.0" y1="1071.8" x2="636.0" y2="1093.1" stroke="#8cc21f" stroke-width="2.0"/>
<line x1="631.5" y1="1071.8" x2="640.5" y2="1071.8" stroke="#8cc21f" stroke-width="2.0"/>
<line x1="631.5" y1="1093.1" x2="640.5" y2="1093.1" stroke="#8cc21f" stroke-width="2.0"/>
<line x1="668.0" y1="1039.9" x2="668.0" y2="1074.5" stroke="#8cc21f" stroke-width="2.0"/>
<line x1="663.5" y1="1039.9" x2="672.5" y2="1039.9" stroke="#8cc21f" stroke-width="2.0"/>
<line x1="663.5" y1="1074.5" x2="672.5" y2="1074.5" stroke="#8cc21f" stroke-width="2.0"/>
<line x1="699.6" y1="1020.4" x2="699.6" y2="1055.1" stroke="#8cc21f" stroke-width="2.0"/>
<line x1="695.1" y1="1020.4" x2="704.1" y2="1020.4" stroke="#8cc21f" stroke-width="2.0"/>
<line x1="695.1" y1="1055.1" x2="704.1" y2="1055.1" stroke="#8cc21f" stroke-width="2.0"/>
<line x1="731.5" y1="1007.1" x2="731.5" y2="1044.0" stroke="#8cc21f" stroke-width="2.0"/>
<line x1="727.0" y1="1007.1" x2="736.0" y2="1007.1" stroke="#8cc21f" stroke-width="2.0"/>
<line x1="727.0" y1="1044.0" x2="736.0" y2="1044.0" stroke="#8cc21f" stroke-width="2.0"/>
<line x1="763.2" y1="996.0" x2="763.2" y2="1031.5" stroke="#8cc21f" stroke-width="2.0"/>
<line x1="758.7" y1="996.0" x2="767.7" y2="996.0" stroke="#8cc21f" stroke-width="2.0"/>
<line x1="758.7" y1="1031.5" x2="767.7" y2="1031.5" stroke="#8cc21f" stroke-width="2.0"/>
<line x1="794.8" y1="981.0" x2="794.8" y2="1017.7" stroke="#8cc21f" stroke-width="2.0"/>
<line x1="790.3" y1="981.0" x2="799.3" y2="981.0" stroke="#8cc21f" stroke-width="2.0"/>
<line x1="790.3" y1="1017.7" x2="799.3" y2="1017.7" stroke="#8cc21f" stroke-width="2.0"/>
<circle cx="603.8" cy="1114.0" r="4.9" fill="#8cc21f"/>
<circle cx="636.0" cy="1082.9" r="4.9" fill="#8cc21f"/>
<circle cx="668.0" cy="1056.5" r="4.9" fill="#8cc21f"/>
<circle cx="699.6" cy="1038.5" r="4.9" fill="#8cc21f"/>
<circle cx="731.5" cy="1025.4" r="4.9" fill="#8cc21f"/>
<circle cx="763.2" cy="1013.5" r="4.9" fill="#8cc21f"/>
<circle cx="794.8" cy="1000.4" r="4.9" fill="#8cc21f"/>
<line x1="618.1" y1="926.5" x2="639.1" y2="926.5" stroke="#8cc21f" stroke-width="1.8"/>
<circle cx="628.6" cy="926.5" r="4.8" fill="#8cc21f"/>
<text x="643.6" y="932.7" text-anchor="start" textLength="29.49" lengthAdjust="spacingAndGlyphs">Sal</text>
<line x1="618.1" y1="948.0" x2="639.1" y2="948.0" stroke="#32a6df" stroke-width="1.8"/>
<circle cx="628.6" cy="948.0" r="4.8" fill="#32a6df"/>
<text x="643.6" y="954.1" text-anchor="start" textLength="30.62" lengthAdjust="spacingAndGlyphs">Ket</text>
<text x="333.05" y="1261.20" textLength="140.52" lengthAdjust="spacingAndGlyphs">NMDA +40 mV</text>
<line x1="306.9" y1="1279.4" x2="306.9" y2="1462.3" stroke="#000" stroke-width="2.0"/>
<line x1="305.9" y1="1461.3" x2="490.3" y2="1461.3" stroke="#000" stroke-width="2.0"/>
<line x1="301.4" y1="1280.4" x2="306.9" y2="1280.4" stroke="#000" stroke-width="2.0"/>
<text x="300.5" y="1287.7" text-anchor="end" textLength="34.04" lengthAdjust="spacingAndGlyphs">100</text>
<line x1="301.4" y1="1316.9" x2="306.9" y2="1316.9" stroke="#000" stroke-width="2.0"/>
<text x="300.5" y="1324.2" text-anchor="end" textLength="22.69" lengthAdjust="spacingAndGlyphs">80</text>
<line x1="301.4" y1="1352.8" x2="306.9" y2="1352.8" stroke="#000" stroke-width="2.0"/>
<text x="300.5" y="1360.1" text-anchor="end" textLength="22.69" lengthAdjust="spacingAndGlyphs">60</text>
<line x1="301.4" y1="1389.0" x2="306.9" y2="1389.0" stroke="#000" stroke-width="2.0"/>
<text x="300.5" y="1396.3" text-anchor="end" textLength="22.69" lengthAdjust="spacingAndGlyphs">40</text>
<line x1="301.4" y1="1425.4" x2="306.9" y2="1425.4" stroke="#000" stroke-width="2.0"/>
<text x="300.5" y="1432.7" text-anchor="end" textLength="22.69" lengthAdjust="spacingAndGlyphs">20</text>
<line x1="301.4" y1="1461.3" x2="306.9" y2="1461.3" stroke="#000" stroke-width="2.0"/>
<text x="300.5" y="1468.6" text-anchor="end" textLength="11.35" lengthAdjust="spacingAndGlyphs">0</text>
<line x1="306.9" y1="1461.3" x2="306.9" y2="1466.8" stroke="#000" stroke-width="2.0"/>
<text x="307.4" y="1485.7" text-anchor="middle" textLength="11.35" lengthAdjust="spacingAndGlyphs">0</text>
<line x1="367.8" y1="1461.3" x2="367.8" y2="1466.8" stroke="#000" stroke-width="2.0"/>
<text x="368.3" y="1485.7" text-anchor="middle" textLength="28.36" lengthAdjust="spacingAndGlyphs">0.5</text>
<line x1="428.1" y1="1461.3" x2="428.1" y2="1466.8" stroke="#000" stroke-width="2.0"/>
<text x="428.6" y="1485.7" text-anchor="middle" textLength="28.36" lengthAdjust="spacingAndGlyphs">1.0</text>
<line x1="489.3" y1="1461.3" x2="489.3" y2="1466.8" stroke="#000" stroke-width="2.0"/>
<text x="489.8" y="1485.7" text-anchor="middle" textLength="28.36" lengthAdjust="spacingAndGlyphs">1.5</text>
<text x="336.59" y="1512.10" textLength="127.31" lengthAdjust="spacingAndGlyphs">Intensity (mA)</text>
<text x="254.65" y="1428.10" textLength="119.03" lengthAdjust="spacingAndGlyphs" transform="rotate(-90 255.50 1428.10)">eEPSCs (pA)</text>
<path d="M306.9,1461.3 L337.3,1449.8 L367.7,1426.9 L398.1,1414.8 L428.5,1404.8 L458.9,1399.0 L489.3,1390.4" stroke="#32a6df" stroke-width="2.2" fill="none" stroke-linejoin="round"/>
<line x1="337.3" y1="1445.5" x2="337.3" y2="1454.1" stroke="#32a6df" stroke-width="2.0"/>
<line x1="332.8" y1="1445.5" x2="341.8" y2="1445.5" stroke="#32a6df" stroke-width="2.0"/>
<line x1="332.8" y1="1454.1" x2="341.8" y2="1454.1" stroke="#32a6df" stroke-width="2.0"/>
<line x1="367.7" y1="1418.3" x2="367.7" y2="1435.5" stroke="#32a6df" stroke-width="2.0"/>
<line x1="363.2" y1="1418.3" x2="372.2" y2="1418.3" stroke="#32a6df" stroke-width="2.0"/>
<line x1="363.2" y1="1435.5" x2="372.2" y2="1435.5" stroke="#32a6df" stroke-width="2.0"/>
<line x1="398.1" y1="1405.3" x2="398.1" y2="1424.0" stroke="#32a6df" stroke-width="2.0"/>
<line x1="393.6" y1="1405.3" x2="402.6" y2="1405.3" stroke="#32a6df" stroke-width="2.0"/>
<line x1="393.6" y1="1424.0" x2="402.6" y2="1424.0" stroke="#32a6df" stroke-width="2.0"/>
<line x1="428.5" y1="1395.3" x2="428.5" y2="1414.5" stroke="#32a6df" stroke-width="2.0"/>
<line x1="424.0" y1="1395.3" x2="433.0" y2="1395.3" stroke="#32a6df" stroke-width="2.0"/>
<line x1="424.0" y1="1414.5" x2="433.0" y2="1414.5" stroke="#32a6df" stroke-width="2.0"/>
<line x1="458.9" y1="1388.1" x2="458.9" y2="1409.6" stroke="#32a6df" stroke-width="2.0"/>
<line x1="454.4" y1="1388.1" x2="463.4" y2="1388.1" stroke="#32a6df" stroke-width="2.0"/>
<line x1="454.4" y1="1409.6" x2="463.4" y2="1409.6" stroke="#32a6df" stroke-width="2.0"/>
<line x1="489.3" y1="1378.9" x2="489.3" y2="1401.9" stroke="#32a6df" stroke-width="2.0"/>
<line x1="484.8" y1="1378.9" x2="493.8" y2="1378.9" stroke="#32a6df" stroke-width="2.0"/>
<line x1="484.8" y1="1401.9" x2="493.8" y2="1401.9" stroke="#32a6df" stroke-width="2.0"/>
<circle cx="306.9" cy="1461.3" r="4.9" fill="#32a6df"/>
<circle cx="337.3" cy="1449.8" r="4.9" fill="#32a6df"/>
<circle cx="367.7" cy="1426.9" r="4.9" fill="#32a6df"/>
<circle cx="398.1" cy="1414.8" r="4.9" fill="#32a6df"/>
<circle cx="428.5" cy="1404.8" r="4.9" fill="#32a6df"/>
<circle cx="458.9" cy="1399.0" r="4.9" fill="#32a6df"/>
<circle cx="489.3" cy="1390.4" r="4.9" fill="#32a6df"/>
<path d="M306.9,1461.3 L337.3,1438.3 L367.7,1399.6 L398.1,1368.9 L428.5,1338.7 L458.9,1329.8 L489.3,1313.5" stroke="#8cc21f" stroke-width="2.2" fill="none" stroke-linejoin="round"/>
<line x1="337.3" y1="1432.0" x2="337.3" y2="1444.0" stroke="#8cc21f" stroke-width="2.0"/>
<line x1="332.8" y1="1432.0" x2="341.8" y2="1432.0" stroke="#8cc21f" stroke-width="2.0"/>
<line x1="332.8" y1="1444.0" x2="341.8" y2="1444.0" stroke="#8cc21f" stroke-width="2.0"/>
<line x1="367.7" y1="1385.2" x2="367.7" y2="1413.9" stroke="#8cc21f" stroke-width="2.0"/>
<line x1="363.2" y1="1385.2" x2="372.2" y2="1385.2" stroke="#8cc21f" stroke-width="2.0"/>
<line x1="363.2" y1="1413.9" x2="372.2" y2="1413.9" stroke="#8cc21f" stroke-width="2.0"/>
<line x1="398.1" y1="1352.8" x2="398.1" y2="1384.7" stroke="#8cc21f" stroke-width="2.0"/>
<line x1="393.6" y1="1352.8" x2="402.6" y2="1352.8" stroke="#8cc21f" stroke-width="2.0"/>
<line x1="393.6" y1="1384.7" x2="402.6" y2="1384.7" stroke="#8cc21f" stroke-width="2.0"/>
<line x1="428.5" y1="1320.1" x2="428.5" y2="1356.5" stroke="#8cc21f" stroke-width="2.0"/>
<line x1="424.0" y1="1320.1" x2="433.0" y2="1320.1" stroke="#8cc21f" stroke-width="2.0"/>
<line x1="424.0" y1="1356.5" x2="433.0" y2="1356.5" stroke="#8cc21f" stroke-width="2.0"/>
<line x1="458.9" y1="1312.9" x2="458.9" y2="1346.5" stroke="#8cc21f" stroke-width="2.0"/>
<line x1="454.4" y1="1312.9" x2="463.4" y2="1312.9" stroke="#8cc21f" stroke-width="2.0"/>
<line x1="454.4" y1="1346.5" x2="463.4" y2="1346.5" stroke="#8cc21f" stroke-width="2.0"/>
<line x1="489.3" y1="1294.8" x2="489.3" y2="1331.3" stroke="#8cc21f" stroke-width="2.0"/>
<line x1="484.8" y1="1294.8" x2="493.8" y2="1294.8" stroke="#8cc21f" stroke-width="2.0"/>
<line x1="484.8" y1="1331.3" x2="493.8" y2="1331.3" stroke="#8cc21f" stroke-width="2.0"/>
<circle cx="306.9" cy="1461.3" r="4.9" fill="#8cc21f"/>
<circle cx="337.3" cy="1438.3" r="4.9" fill="#8cc21f"/>
<circle cx="367.7" cy="1399.6" r="4.9" fill="#8cc21f"/>
<circle cx="398.1" cy="1368.9" r="4.9" fill="#8cc21f"/>
<circle cx="428.5" cy="1338.7" r="4.9" fill="#8cc21f"/>
<circle cx="458.9" cy="1329.8" r="4.9" fill="#8cc21f"/>
<circle cx="489.3" cy="1313.5" r="4.9" fill="#8cc21f"/>
<line x1="318.7" y1="1285.7" x2="339.7" y2="1285.7" stroke="#8cc21f" stroke-width="1.8"/>
<circle cx="329.2" cy="1285.7" r="4.8" fill="#8cc21f"/>
<text x="344.8" y="1290.7" text-anchor="start" textLength="29.49" lengthAdjust="spacingAndGlyphs">Sal</text>
<line x1="318.7" y1="1310.6" x2="339.7" y2="1310.6" stroke="#32a6df" stroke-width="1.8"/>
<circle cx="329.2" cy="1310.6" r="4.8" fill="#32a6df"/>
<text x="344.8" y="1315.8" text-anchor="start" textLength="30.62" lengthAdjust="spacingAndGlyphs">Ket</text>
<path d="M398.00,1340.70 L398.00,1336.40 M398.00,1340.70 L402.09,1339.37 M398.00,1340.70 L400.53,1344.18 M398.00,1340.70 L395.47,1344.18 M398.00,1340.70 L393.91,1339.37 " stroke="#000" stroke-width="1.7" fill="none"/>
<path d="M422.35,1293.40 L422.35,1289.10 M422.35,1293.40 L426.44,1292.07 M422.35,1293.40 L424.88,1296.88 M422.35,1293.40 L419.82,1296.88 M422.35,1293.40 L418.26,1292.07 " stroke="#000" stroke-width="1.7" fill="none"/>
<path d="M432.65,1293.40 L432.65,1289.10 M432.65,1293.40 L436.74,1292.07 M432.65,1293.40 L435.18,1296.88 M432.65,1293.40 L430.12,1296.88 M432.65,1293.40 L428.56,1292.07 " stroke="#000" stroke-width="1.7" fill="none"/>
<path d="M449.40,1301.40 L449.40,1297.10 M449.40,1301.40 L453.49,1300.07 M449.40,1301.40 L451.93,1304.88 M449.40,1301.40 L446.87,1304.88 M449.40,1301.40 L445.31,1300.07 " stroke="#000" stroke-width="1.7" fill="none"/>
<path d="M459.70,1301.40 L459.70,1297.10 M459.70,1301.40 L463.79,1300.07 M459.70,1301.40 L462.23,1304.88 M459.70,1301.40 L457.17,1304.88 M459.70,1301.40 L455.61,1300.07 " stroke="#000" stroke-width="1.7" fill="none"/>
<path d="M470.00,1301.40 L470.00,1297.10 M470.00,1301.40 L474.09,1300.07 M470.00,1301.40 L472.53,1304.88 M470.00,1301.40 L467.47,1304.88 M470.00,1301.40 L465.91,1300.07 " stroke="#000" stroke-width="1.7" fill="none"/>
<path d="M480.10,1281.30 L480.10,1277.00 M480.10,1281.30 L484.19,1279.97 M480.10,1281.30 L482.63,1284.78 M480.10,1281.30 L477.57,1284.78 M480.10,1281.30 L476.01,1279.97 " stroke="#000" stroke-width="1.7" fill="none"/>
<path d="M490.40,1281.30 L490.40,1277.00 M490.40,1281.30 L494.49,1279.97 M490.40,1281.30 L492.93,1284.78 M490.40,1281.30 L487.87,1284.78 M490.40,1281.30 L486.31,1279.97 " stroke="#000" stroke-width="1.7" fill="none"/>
<path d="M500.70,1281.30 L500.70,1277.00 M500.70,1281.30 L504.79,1279.97 M500.70,1281.30 L503.23,1284.78 M500.70,1281.30 L498.17,1284.78 M500.70,1281.30 L496.61,1279.97 " stroke="#000" stroke-width="1.7" fill="none"/>
<text x="868.26" y="1261.00" textLength="140.02" lengthAdjust="spacingAndGlyphs">NMDA +40 mV</text>
<line x1="846.3" y1="1276.6" x2="846.3" y2="1460.7" stroke="#000" stroke-width="2.0"/>
<line x1="845.3" y1="1459.7" x2="1029.4" y2="1459.7" stroke="#000" stroke-width="2.0"/>
<line x1="840.8" y1="1277.6" x2="846.3" y2="1277.6" stroke="#000" stroke-width="2.0"/>
<text x="836.5" y="1284.9" text-anchor="end" textLength="34.04" lengthAdjust="spacingAndGlyphs">100</text>
<line x1="840.8" y1="1314.2" x2="846.3" y2="1314.2" stroke="#000" stroke-width="2.0"/>
<text x="836.5" y="1321.5" text-anchor="end" textLength="22.69" lengthAdjust="spacingAndGlyphs">80</text>
<line x1="840.8" y1="1350.5" x2="846.3" y2="1350.5" stroke="#000" stroke-width="2.0"/>
<text x="836.5" y="1357.8" text-anchor="end" textLength="22.69" lengthAdjust="spacingAndGlyphs">60</text>
<line x1="840.8" y1="1386.8" x2="846.3" y2="1386.8" stroke="#000" stroke-width="2.0"/>
<text x="836.5" y="1394.1" text-anchor="end" textLength="22.69" lengthAdjust="spacingAndGlyphs">40</text>
<line x1="840.8" y1="1423.4" x2="846.3" y2="1423.4" stroke="#000" stroke-width="2.0"/>
<text x="836.5" y="1430.7" text-anchor="end" textLength="22.69" lengthAdjust="spacingAndGlyphs">20</text>
<line x1="840.8" y1="1459.7" x2="846.3" y2="1459.7" stroke="#000" stroke-width="2.0"/>
<text x="836.5" y="1467.0" text-anchor="end" textLength="11.35" lengthAdjust="spacingAndGlyphs">0</text>
<line x1="846.3" y1="1459.7" x2="846.3" y2="1465.2" stroke="#000" stroke-width="2.0"/>
<text x="846.8" y="1484.7" text-anchor="middle" textLength="11.35" lengthAdjust="spacingAndGlyphs">0</text>
<line x1="906.8" y1="1459.7" x2="906.8" y2="1465.2" stroke="#000" stroke-width="2.0"/>
<text x="907.3" y="1484.7" text-anchor="middle" textLength="28.36" lengthAdjust="spacingAndGlyphs">0.5</text>
<line x1="967.4" y1="1459.7" x2="967.4" y2="1465.2" stroke="#000" stroke-width="2.0"/>
<text x="967.9" y="1484.7" text-anchor="middle" textLength="28.36" lengthAdjust="spacingAndGlyphs">1.0</text>
<line x1="1028.4" y1="1459.7" x2="1028.4" y2="1465.2" stroke="#000" stroke-width="2.0"/>
<text x="1028.9" y="1484.7" text-anchor="middle" textLength="28.36" lengthAdjust="spacingAndGlyphs">1.5</text>
<text x="876.48" y="1512.40" textLength="127.72" lengthAdjust="spacingAndGlyphs">Intensity (mA)</text>
<text x="794.85" y="1428.10" textLength="119.13" lengthAdjust="spacingAndGlyphs" transform="rotate(-90 795.70 1428.10)">eEPSCs (pA)</text>
<path d="M846.3,1459.7 L876.6,1452.6 L907.0,1420.3 L937.3,1407.1 L967.7,1393.9 L998.0,1390.5 L1028.4,1386.8" stroke="#32a6df" stroke-width="2.2" fill="none" stroke-linejoin="round"/>
<line x1="907.0" y1="1408.4" x2="907.0" y2="1432.1" stroke="#32a6df" stroke-width="2.0"/>
<line x1="902.5" y1="1408.4" x2="911.5" y2="1408.4" stroke="#32a6df" stroke-width="2.0"/>
<line x1="902.5" y1="1432.1" x2="911.5" y2="1432.1" stroke="#32a6df" stroke-width="2.0"/>
<line x1="937.3" y1="1392.6" x2="937.3" y2="1421.6" stroke="#32a6df" stroke-width="2.0"/>
<line x1="932.8" y1="1392.6" x2="941.8" y2="1392.6" stroke="#32a6df" stroke-width="2.0"/>
<line x1="932.8" y1="1421.6" x2="941.8" y2="1421.6" stroke="#32a6df" stroke-width="2.0"/>
<line x1="967.7" y1="1376.8" x2="967.7" y2="1410.5" stroke="#32a6df" stroke-width="2.0"/>
<line x1="963.2" y1="1376.8" x2="972.2" y2="1376.8" stroke="#32a6df" stroke-width="2.0"/>
<line x1="963.2" y1="1410.5" x2="972.2" y2="1410.5" stroke="#32a6df" stroke-width="2.0"/>
<line x1="998.0" y1="1372.4" x2="998.0" y2="1407.6" stroke="#32a6df" stroke-width="2.0"/>
<line x1="993.5" y1="1372.4" x2="1002.5" y2="1372.4" stroke="#32a6df" stroke-width="2.0"/>
<line x1="993.5" y1="1407.6" x2="1002.5" y2="1407.6" stroke="#32a6df" stroke-width="2.0"/>
<line x1="1028.4" y1="1369.7" x2="1028.4" y2="1403.7" stroke="#32a6df" stroke-width="2.0"/>
<line x1="1023.9" y1="1369.7" x2="1032.9" y2="1369.7" stroke="#32a6df" stroke-width="2.0"/>
<line x1="1023.9" y1="1403.7" x2="1032.9" y2="1403.7" stroke="#32a6df" stroke-width="2.0"/>
<circle cx="846.3" cy="1459.7" r="4.9" fill="#32a6df"/>
<circle cx="876.6" cy="1452.6" r="4.9" fill="#32a6df"/>
<circle cx="907.0" cy="1420.3" r="4.9" fill="#32a6df"/>
<circle cx="937.3" cy="1407.1" r="4.9" fill="#32a6df"/>
<circle cx="967.7" cy="1393.9" r="4.9" fill="#32a6df"/>
<circle cx="998.0" cy="1390.5" r="4.9" fill="#32a6df"/>
<circle cx="1028.4" cy="1386.8" r="4.9" fill="#32a6df"/>
<path d="M846.3,1459.7 L876.6,1438.7 L907.0,1407.9 L937.3,1379.5 L967.7,1353.2 L998.0,1331.6 L1028.4,1322.9" stroke="#8cc21f" stroke-width="2.2" fill="none" stroke-linejoin="round"/>
<line x1="876.6" y1="1430.0" x2="876.6" y2="1447.9" stroke="#8cc21f" stroke-width="2.0"/>
<line x1="872.1" y1="1430.0" x2="881.1" y2="1430.0" stroke="#8cc21f" stroke-width="2.0"/>
<line x1="872.1" y1="1447.9" x2="881.1" y2="1447.9" stroke="#8cc21f" stroke-width="2.0"/>
<line x1="907.0" y1="1394.0" x2="907.0" y2="1421.6" stroke="#8cc21f" stroke-width="2.0"/>
<line x1="902.5" y1="1394.0" x2="911.5" y2="1394.0" stroke="#8cc21f" stroke-width="2.0"/>
<line x1="902.5" y1="1421.6" x2="911.5" y2="1421.6" stroke="#8cc21f" stroke-width="2.0"/>
<line x1="937.3" y1="1360.5" x2="937.3" y2="1397.9" stroke="#8cc21f" stroke-width="2.0"/>
<line x1="932.8" y1="1360.5" x2="941.8" y2="1360.5" stroke="#8cc21f" stroke-width="2.0"/>
<line x1="932.8" y1="1397.9" x2="941.8" y2="1397.9" stroke="#8cc21f" stroke-width="2.0"/>
<line x1="967.7" y1="1333.4" x2="967.7" y2="1371.6" stroke="#8cc21f" stroke-width="2.0"/>
<line x1="963.2" y1="1333.4" x2="972.2" y2="1333.4" stroke="#8cc21f" stroke-width="2.0"/>
<line x1="963.2" y1="1371.6" x2="972.2" y2="1371.6" stroke="#8cc21f" stroke-width="2.0"/>
<line x1="998.0" y1="1312.9" x2="998.0" y2="1349.2" stroke="#8cc21f" stroke-width="2.0"/>
<line x1="993.5" y1="1312.9" x2="1002.5" y2="1312.9" stroke="#8cc21f" stroke-width="2.0"/>
<line x1="993.5" y1="1349.2" x2="1002.5" y2="1349.2" stroke="#8cc21f" stroke-width="2.0"/>
<line x1="1028.4" y1="1305.0" x2="1028.4" y2="1340.0" stroke="#8cc21f" stroke-width="2.0"/>
<line x1="1023.9" y1="1305.0" x2="1032.9" y2="1305.0" stroke="#8cc21f" stroke-width="2.0"/>
<line x1="1023.9" y1="1340.0" x2="1032.9" y2="1340.0" stroke="#8cc21f" stroke-width="2.0"/>
<circle cx="846.3" cy="1459.7" r="4.9" fill="#8cc21f"/>
<circle cx="876.6" cy="1438.7" r="4.9" fill="#8cc21f"/>
<circle cx="907.0" cy="1407.9" r="4.9" fill="#8cc21f"/>
<circle cx="937.3" cy="1379.5" r="4.9" fill="#8cc21f"/>
<circle cx="967.7" cy="1353.2" r="4.9" fill="#8cc21f"/>
<circle cx="998.0" cy="1331.6" r="4.9" fill="#8cc21f"/>
<circle cx="1028.4" cy="1322.9" r="4.9" fill="#8cc21f"/>
<line x1="857.9" y1="1287.5" x2="878.9" y2="1287.5" stroke="#8cc21f" stroke-width="1.8"/>
<circle cx="868.4" cy="1287.5" r="4.8" fill="#8cc21f"/>
<text x="883.2" y="1292.8" text-anchor="start" textLength="29.49" lengthAdjust="spacingAndGlyphs">Sal</text>
<line x1="857.9" y1="1312.5" x2="878.9" y2="1312.5" stroke="#32a6df" stroke-width="1.8"/>
<circle cx="868.4" cy="1312.5" r="4.8" fill="#32a6df"/>
<text x="883.2" y="1317.9" text-anchor="start" textLength="30.62" lengthAdjust="spacingAndGlyphs">Ket</text>
<path d="M936.30,1350.50 L936.30,1346.20 M936.30,1350.50 L940.39,1349.17 M936.30,1350.50 L938.83,1353.98 M936.30,1350.50 L933.77,1353.98 M936.30,1350.50 L932.21,1349.17 " stroke="#000" stroke-width="1.7" fill="none"/>
<path d="M961.65,1324.20 L961.65,1319.90 M961.65,1324.20 L965.74,1322.87 M961.65,1324.20 L964.18,1327.68 M961.65,1324.20 L959.12,1327.68 M961.65,1324.20 L957.56,1322.87 " stroke="#000" stroke-width="1.7" fill="none"/>
<path d="M971.95,1324.20 L971.95,1319.90 M971.95,1324.20 L976.04,1322.87 M971.95,1324.20 L974.48,1327.68 M971.95,1324.20 L969.42,1327.68 M971.95,1324.20 L967.86,1322.87 " stroke="#000" stroke-width="1.7" fill="none"/>
<path d="M988.70,1304.50 L988.70,1300.20 M988.70,1304.50 L992.79,1303.17 M988.70,1304.50 L991.23,1307.98 M988.70,1304.50 L986.17,1307.98 M988.70,1304.50 L984.61,1303.17 " stroke="#000" stroke-width="1.7" fill="none"/>
<path d="M999.00,1304.50 L999.00,1300.20 M999.00,1304.50 L1003.09,1303.17 M999.00,1304.50 L1001.53,1307.98 M999.00,1304.50 L996.47,1307.98 M999.00,1304.50 L994.91,1303.17 " stroke="#000" stroke-width="1.7" fill="none"/>
<path d="M1009.30,1304.50 L1009.30,1300.20 M1009.30,1304.50 L1013.39,1303.17 M1009.30,1304.50 L1011.83,1307.98 M1009.30,1304.50 L1006.77,1307.98 M1009.30,1304.50 L1005.21,1303.17 " stroke="#000" stroke-width="1.7" fill="none"/>
<path d="M1018.90,1292.60 L1018.90,1288.30 M1018.90,1292.60 L1022.99,1291.27 M1018.90,1292.60 L1021.43,1296.08 M1018.90,1292.60 L1016.37,1296.08 M1018.90,1292.60 L1014.81,1291.27 " stroke="#000" stroke-width="1.7" fill="none"/>
<path d="M1029.20,1292.60 L1029.20,1288.30 M1029.20,1292.60 L1033.29,1291.27 M1029.20,1292.60 L1031.73,1296.08 M1029.20,1292.60 L1026.67,1296.08 M1029.20,1292.60 L1025.11,1291.27 " stroke="#000" stroke-width="1.7" fill="none"/>
<path d="M1039.50,1292.60 L1039.50,1288.30 M1039.50,1292.60 L1043.59,1291.27 M1039.50,1292.60 L1042.03,1296.08 M1039.50,1292.60 L1036.97,1296.08 M1039.50,1292.60 L1035.41,1291.27 " stroke="#000" stroke-width="1.7" fill="none"/>
<line x1="356.1" y1="306.2" x2="356.1" y2="343.9" stroke="#000" stroke-width="2.0"/>
<line x1="350.6" y1="307.2" x2="356.1" y2="307.2" stroke="#000" stroke-width="2.0"/>
<text x="346.5" y="314.5" text-anchor="end" textLength="28.36" lengthAdjust="spacingAndGlyphs">4.0</text>
<line x1="350.6" y1="328.8" x2="356.1" y2="328.8" stroke="#000" stroke-width="2.0"/>
<text x="346.5" y="336.1" text-anchor="end" textLength="28.36" lengthAdjust="spacingAndGlyphs">2.0</text>
<line x1="350.6" y1="343.9" x2="361.1" y2="343.9" stroke="#000" stroke-width="2.0"/>
<line x1="356.1" y1="359.0" x2="356.1" y2="467.8" stroke="#000" stroke-width="2.0"/>
<line x1="350.6" y1="359.0" x2="361.1" y2="359.0" stroke="#000" stroke-width="2.0"/>
<line x1="350.6" y1="359.0" x2="356.1" y2="359.0" stroke="#000" stroke-width="2.0"/>
<text x="346.5" y="366.3" text-anchor="end" textLength="28.36" lengthAdjust="spacingAndGlyphs">0.6</text>
<line x1="350.6" y1="395.0" x2="356.1" y2="395.0" stroke="#000" stroke-width="2.0"/>
<text x="346.5" y="402.3" text-anchor="end" textLength="28.36" lengthAdjust="spacingAndGlyphs">0.4</text>
<line x1="350.6" y1="430.8" x2="356.1" y2="430.8" stroke="#000" stroke-width="2.0"/>
<text x="346.5" y="438.1" text-anchor="end" textLength="28.36" lengthAdjust="spacingAndGlyphs">0.2</text>
<line x1="350.6" y1="466.8" x2="356.1" y2="466.8" stroke="#000" stroke-width="2.0"/>
<text x="346.5" y="474.1" text-anchor="end" textLength="11.35" lengthAdjust="spacingAndGlyphs">0</text>
<text x="302.05" y="470.20" textLength="172.80" lengthAdjust="spacingAndGlyphs" transform="rotate(-90 303.80 470.20)">NMDA/AMPA ratio</text>
<rect x="370.3" y="413.0" width="29.7" height="53.8" fill="#8cc21f"/>
<rect x="430.0" y="461.5" width="30.5" height="5.3" fill="#32a6df"/>
<line x1="350.1" y1="466.8" x2="475.2" y2="466.8" stroke="#000" stroke-width="2.0"/>
<line x1="385.1" y1="466.8" x2="385.1" y2="472.8" stroke="#000" stroke-width="2.0"/>
<line x1="444.8" y1="466.8" x2="444.8" y2="472.8" stroke="#000" stroke-width="2.0"/>
<circle cx="376.2" cy="338.4" r="2.8" fill="#fff" stroke="#000" stroke-width="1.9"/>
<circle cx="379.7" cy="340.1" r="2.8" fill="#fff" stroke="#000" stroke-width="1.9"/>
<circle cx="383.1" cy="341.2" r="2.8" fill="#fff" stroke="#000" stroke-width="1.9"/>
<circle cx="386.6" cy="343.0" r="2.8" fill="#fff" stroke="#000" stroke-width="1.9"/>
<circle cx="393.5" cy="339.5" r="2.8" fill="#fff" stroke="#000" stroke-width="1.9"/>
<circle cx="386.6" cy="363.1" r="2.8" fill="#fff" stroke="#000" stroke-width="1.9"/>
<circle cx="383.1" cy="372.3" r="2.8" fill="#fff" stroke="#000" stroke-width="1.9"/>
<circle cx="386.6" cy="375.7" r="2.8" fill="#fff" stroke="#000" stroke-width="1.9"/>
<circle cx="387.2" cy="404.4" r="2.8" fill="#fff" stroke="#000" stroke-width="1.9"/>
<circle cx="383.1" cy="407.8" r="2.8" fill="#fff" stroke="#000" stroke-width="1.9"/>
<circle cx="383.1" cy="415.3" r="2.8" fill="#fff" stroke="#000" stroke-width="1.9"/>
<circle cx="387.2" cy="418.2" r="2.8" fill="#fff" stroke="#000" stroke-width="1.9"/>
<circle cx="383.1" cy="433.1" r="2.8" fill="#fff" stroke="#000" stroke-width="1.9"/>
<circle cx="380.3" cy="442.3" r="2.8" fill="#fff" stroke="#000" stroke-width="1.9"/>
<circle cx="383.7" cy="443.8" r="2.8" fill="#fff" stroke="#000" stroke-width="1.9"/>
<circle cx="390.0" cy="445.2" r="2.8" fill="#fff" stroke="#000" stroke-width="1.9"/>
<circle cx="373.4" cy="452.6" r="2.8" fill="#fff" stroke="#000" stroke-width="1.9"/>
<circle cx="383.1" cy="452.6" r="2.8" fill="#fff" stroke="#000" stroke-width="1.9"/>
<circle cx="390.0" cy="454.4" r="2.8" fill="#fff" stroke="#000" stroke-width="1.9"/>
<circle cx="397.5" cy="454.4" r="2.8" fill="#fff" stroke="#000" stroke-width="1.9"/>
<circle cx="379.7" cy="456.7" r="2.8" fill="#fff" stroke="#000" stroke-width="1.9"/>
<circle cx="387.2" cy="457.8" r="2.8" fill="#fff" stroke="#000" stroke-width="1.9"/>
<circle cx="393.5" cy="457.8" r="2.8" fill="#fff" stroke="#000" stroke-width="1.9"/>
<circle cx="376.2" cy="460.1" r="2.8" fill="#fff" stroke="#000" stroke-width="1.9"/>
<circle cx="383.1" cy="461.2" r="2.8" fill="#fff" stroke="#000" stroke-width="1.9"/>
<circle cx="390.0" cy="463.0" r="2.8" fill="#fff" stroke="#000" stroke-width="1.9"/>
<circle cx="379.7" cy="467.0" r="2.8" fill="#fff" stroke="#000" stroke-width="1.9"/>
<circle cx="386.0" cy="465.8" r="2.8" fill="#fff" stroke="#000" stroke-width="1.9"/>
<circle cx="444.8" cy="420.1" r="2.8" fill="#fff" stroke="#000" stroke-width="1.9"/>
<circle cx="444.8" cy="448.6" r="2.8" fill="#fff" stroke="#000" stroke-width="1.9"/>
<circle cx="443.4" cy="452.1" r="2.8" fill="#fff" stroke="#000" stroke-width="1.9"/>
<circle cx="446.3" cy="454.4" r="2.8" fill="#fff" stroke="#000" stroke-width="1.9"/>
<circle cx="434.2" cy="461.2" r="2.8" fill="#fff" stroke="#000" stroke-width="1.9"/>
<circle cx="436.5" cy="461.8" r="2.8" fill="#fff" stroke="#000" stroke-width="1.9"/>
<circle cx="452.6" cy="461.2" r="2.8" fill="#fff" stroke="#000" stroke-width="1.9"/>
<circle cx="456.6" cy="461.2" r="2.8" fill="#fff" stroke="#000" stroke-width="1.9"/>
<circle cx="433.1" cy="467.0" r="2.8" fill="#fff" stroke="#000" stroke-width="1.9"/>
<circle cx="438.8" cy="465.8" r="2.8" fill="#fff" stroke="#000" stroke-width="1.9"/>
<circle cx="444.8" cy="465.3" r="2.8" fill="#fff" stroke="#000" stroke-width="1.9"/>
<circle cx="449.2" cy="465.8" r="2.8" fill="#fff" stroke="#000" stroke-width="1.9"/>
<circle cx="454.3" cy="465.8" r="2.8" fill="#fff" stroke="#000" stroke-width="1.9"/>
<circle cx="442.3" cy="462.4" r="2.8" fill="#fff" stroke="#000" stroke-width="1.9"/>
<circle cx="448.0" cy="463.0" r="2.8" fill="#fff" stroke="#000" stroke-width="1.9"/>
<line x1="385.1" y1="401.5" x2="385.1" y2="423.9" stroke="#000" stroke-width="2.0"/>
<line x1="378.6" y1="401.5" x2="391.6" y2="401.5" stroke="#000" stroke-width="2.0"/>
<line x1="378.6" y1="423.9" x2="391.6" y2="423.9" stroke="#000" stroke-width="2.0"/>
<line x1="444.8" y1="459.5" x2="444.8" y2="464.5" stroke="#000" stroke-width="2.0"/>
<line x1="438.3" y1="459.5" x2="451.3" y2="459.5" stroke="#000" stroke-width="2.0"/>
<line x1="438.3" y1="464.5" x2="451.3" y2="464.5" stroke="#000" stroke-width="2.0"/>
<path d="M388.6,315.9 L388.6,308.4 L441.1,308.4 L441.1,315.9" stroke="#000" stroke-width="2.0" fill="none"/>
<text x="414.3" y="307.2" text-anchor="middle" textLength="0.00" lengthAdjust="spacingAndGlyphs"></text>
<text x="389.6" y="487.2" text-anchor="end" transform="rotate(-45 389.6 487.2)" textLength="29.49" lengthAdjust="spacingAndGlyphs">Sal</text>
<text x="447.8" y="487.2" text-anchor="end" transform="rotate(-45 447.8 487.2)" textLength="30.62" lengthAdjust="spacingAndGlyphs">Ket</text>
<path d="M398.85,299.70 L398.85,295.40 M398.85,299.70 L402.94,298.37 M398.85,299.70 L401.38,303.18 M398.85,299.70 L396.32,303.18 M398.85,299.70 L394.76,298.37 " stroke="#000" stroke-width="1.7" fill="none"/>
<path d="M409.15,299.70 L409.15,295.40 M409.15,299.70 L413.24,298.37 M409.15,299.70 L411.68,303.18 M409.15,299.70 L406.62,303.18 M409.15,299.70 L405.06,298.37 " stroke="#000" stroke-width="1.7" fill="none"/>
<path d="M419.45,299.70 L419.45,295.40 M419.45,299.70 L423.54,298.37 M419.45,299.70 L421.98,303.18 M419.45,299.70 L416.92,303.18 M419.45,299.70 L415.36,298.37 " stroke="#000" stroke-width="1.7" fill="none"/>
<path d="M429.75,299.70 L429.75,295.40 M429.75,299.70 L433.84,298.37 M429.75,299.70 L432.28,303.18 M429.75,299.70 L427.22,303.18 M429.75,299.70 L425.66,298.37 " stroke="#000" stroke-width="1.7" fill="none"/>
<line x1="890.6" y1="311.0" x2="890.6" y2="347.0" stroke="#000" stroke-width="2.0"/>
<line x1="885.1" y1="312.0" x2="890.6" y2="312.0" stroke="#000" stroke-width="2.0"/>
<text x="881.5" y="319.3" text-anchor="end" textLength="28.36" lengthAdjust="spacingAndGlyphs">4.0</text>
<line x1="885.1" y1="332.7" x2="890.6" y2="332.7" stroke="#000" stroke-width="2.0"/>
<text x="881.5" y="340.0" text-anchor="end" textLength="28.36" lengthAdjust="spacingAndGlyphs">2.0</text>
<line x1="885.1" y1="347.0" x2="895.6" y2="347.0" stroke="#000" stroke-width="2.0"/>
<line x1="890.6" y1="362.3" x2="890.6" y2="467.8" stroke="#000" stroke-width="2.0"/>
<line x1="885.1" y1="362.3" x2="895.6" y2="362.3" stroke="#000" stroke-width="2.0"/>
<line x1="885.1" y1="362.3" x2="890.6" y2="362.3" stroke="#000" stroke-width="2.0"/>
<text x="881.5" y="369.6" text-anchor="end" textLength="28.36" lengthAdjust="spacingAndGlyphs">0.6</text>
<line x1="885.1" y1="396.9" x2="890.6" y2="396.9" stroke="#000" stroke-width="2.0"/>
<text x="881.5" y="404.2" text-anchor="end" textLength="28.36" lengthAdjust="spacingAndGlyphs">0.4</text>
<line x1="885.1" y1="432.0" x2="890.6" y2="432.0" stroke="#000" stroke-width="2.0"/>
<text x="881.5" y="439.3" text-anchor="end" textLength="28.36" lengthAdjust="spacingAndGlyphs">0.2</text>
<line x1="885.1" y1="466.8" x2="890.6" y2="466.8" stroke="#000" stroke-width="2.0"/>
<text x="881.5" y="474.1" text-anchor="end" textLength="11.35" lengthAdjust="spacingAndGlyphs">0</text>
<text x="837.05" y="470.20" textLength="172.80" lengthAdjust="spacingAndGlyphs" transform="rotate(-90 838.80 470.20)">NMDA/AMPA ratio</text>
<rect x="904.0" y="406.1" width="29.6" height="60.7" fill="#8cc21f"/>
<rect x="962.1" y="447.1" width="29.5" height="19.7" fill="#32a6df"/>
<line x1="884.6" y1="466.8" x2="1006.7" y2="466.8" stroke="#000" stroke-width="2.0"/>
<line x1="918.7" y1="466.8" x2="918.7" y2="472.8" stroke="#000" stroke-width="2.0"/>
<line x1="976.9" y1="466.8" x2="976.9" y2="472.8" stroke="#000" stroke-width="2.0"/>
<circle cx="918.5" cy="329.8" r="3.0" fill="#fff" stroke="#000" stroke-width="1.95"/>
<circle cx="921.0" cy="341.8" r="3.0" fill="#fff" stroke="#000" stroke-width="1.95"/>
<circle cx="918.1" cy="343.5" r="3.0" fill="#fff" stroke="#000" stroke-width="1.95"/>
<circle cx="915.3" cy="345.3" r="3.0" fill="#fff" stroke="#000" stroke-width="1.95"/>
<circle cx="918.5" cy="363.6" r="3.0" fill="#fff" stroke="#000" stroke-width="1.95"/>
<circle cx="915.5" cy="381.4" r="3.0" fill="#fff" stroke="#000" stroke-width="1.95"/>
<circle cx="918.5" cy="379.7" r="3.0" fill="#fff" stroke="#000" stroke-width="1.95"/>
<circle cx="921.6" cy="381.4" r="3.0" fill="#fff" stroke="#000" stroke-width="1.95"/>
<circle cx="915.8" cy="395.8" r="3.0" fill="#fff" stroke="#000" stroke-width="1.95"/>
<circle cx="918.5" cy="397.2" r="3.0" fill="#fff" stroke="#000" stroke-width="1.95"/>
<circle cx="915.8" cy="402.5" r="3.0" fill="#fff" stroke="#000" stroke-width="1.95"/>
<circle cx="918.7" cy="403.3" r="3.0" fill="#fff" stroke="#000" stroke-width="1.95"/>
<circle cx="921.6" cy="403.8" r="3.0" fill="#fff" stroke="#000" stroke-width="1.95"/>
<circle cx="915.5" cy="421.1" r="3.0" fill="#fff" stroke="#000" stroke-width="1.95"/>
<circle cx="921.6" cy="421.1" r="3.0" fill="#fff" stroke="#000" stroke-width="1.95"/>
<circle cx="918.5" cy="428.5" r="3.0" fill="#fff" stroke="#000" stroke-width="1.95"/>
<circle cx="921.6" cy="433.9" r="3.0" fill="#fff" stroke="#000" stroke-width="1.95"/>
<circle cx="918.5" cy="439.4" r="3.0" fill="#fff" stroke="#000" stroke-width="1.95"/>
<circle cx="921.6" cy="440.6" r="3.0" fill="#fff" stroke="#000" stroke-width="1.95"/>
<circle cx="918.5" cy="447.5" r="3.0" fill="#fff" stroke="#000" stroke-width="1.95"/>
<circle cx="915.5" cy="449.8" r="3.0" fill="#fff" stroke="#000" stroke-width="1.95"/>
<circle cx="924.5" cy="449.5" r="3.0" fill="#fff" stroke="#000" stroke-width="1.95"/>
<circle cx="921.6" cy="450.9" r="3.0" fill="#fff" stroke="#000" stroke-width="1.95"/>
<circle cx="910.1" cy="457.8" r="3.0" fill="#fff" stroke="#000" stroke-width="1.95"/>
<circle cx="915.5" cy="460.1" r="3.0" fill="#fff" stroke="#000" stroke-width="1.95"/>
<circle cx="921.6" cy="460.1" r="3.0" fill="#fff" stroke="#000" stroke-width="1.95"/>
<circle cx="927.3" cy="459.9" r="3.0" fill="#fff" stroke="#000" stroke-width="1.95"/>
<circle cx="906.7" cy="462.2" r="3.0" fill="#fff" stroke="#000" stroke-width="1.95"/>
<circle cx="930.2" cy="461.8" r="3.0" fill="#fff" stroke="#000" stroke-width="1.95"/>
<circle cx="918.5" cy="463.5" r="3.0" fill="#fff" stroke="#000" stroke-width="1.95"/>
<circle cx="976.9" cy="346.2" r="3.0" fill="#fff" stroke="#000" stroke-width="1.95"/>
<circle cx="976.9" cy="411.0" r="3.0" fill="#fff" stroke="#000" stroke-width="1.95"/>
<circle cx="976.9" cy="435.4" r="3.0" fill="#fff" stroke="#000" stroke-width="1.95"/>
<circle cx="971.0" cy="438.9" r="3.0" fill="#fff" stroke="#000" stroke-width="1.95"/>
<circle cx="982.8" cy="442.6" r="3.0" fill="#fff" stroke="#000" stroke-width="1.95"/>
<circle cx="971.0" cy="445.7" r="3.0" fill="#fff" stroke="#000" stroke-width="1.95"/>
<circle cx="976.9" cy="444.0" r="3.0" fill="#fff" stroke="#000" stroke-width="1.95"/>
<circle cx="980.1" cy="449.5" r="3.0" fill="#fff" stroke="#000" stroke-width="1.95"/>
<circle cx="976.9" cy="453.2" r="3.0" fill="#fff" stroke="#000" stroke-width="1.95"/>
<circle cx="968.1" cy="462.2" r="3.0" fill="#fff" stroke="#000" stroke-width="1.95"/>
<circle cx="973.8" cy="462.2" r="3.0" fill="#fff" stroke="#000" stroke-width="1.95"/>
<circle cx="980.1" cy="462.2" r="3.0" fill="#fff" stroke="#000" stroke-width="1.95"/>
<circle cx="965.2" cy="465.6" r="3.0" fill="#fff" stroke="#000" stroke-width="1.95"/>
<circle cx="976.9" cy="467.0" r="3.0" fill="#fff" stroke="#000" stroke-width="1.95"/>
<circle cx="985.3" cy="463.5" r="3.0" fill="#fff" stroke="#000" stroke-width="1.95"/>
<circle cx="988.8" cy="465.6" r="3.0" fill="#fff" stroke="#000" stroke-width="1.95"/>
<circle cx="982.4" cy="465.3" r="3.0" fill="#fff" stroke="#000" stroke-width="1.95"/>
<line x1="918.7" y1="391.8" x2="918.7" y2="420.1" stroke="#000" stroke-width="2.0"/>
<line x1="912.2" y1="391.8" x2="925.2" y2="391.8" stroke="#000" stroke-width="2.0"/>
<line x1="912.2" y1="420.1" x2="925.2" y2="420.1" stroke="#000" stroke-width="2.0"/>
<line x1="976.9" y1="440.6" x2="976.9" y2="453.2" stroke="#000" stroke-width="2.0"/>
<line x1="970.4" y1="440.6" x2="983.4" y2="440.6" stroke="#000" stroke-width="2.0"/>
<line x1="970.4" y1="453.2" x2="983.4" y2="453.2" stroke="#000" stroke-width="2.0"/>
<path d="M920.6,319.3 L920.6,311.5 L973.0,311.5 L973.0,319.3" stroke="#000" stroke-width="2.0" fill="none"/>
<text x="945.4" y="303.0" text-anchor="middle" textLength="0.00" lengthAdjust="spacingAndGlyphs"></text>
<text x="923.2" y="487.3" text-anchor="end" transform="rotate(-45 923.2 487.3)" textLength="29.49" lengthAdjust="spacingAndGlyphs">Sal</text>
<text x="982.1" y="487.3" text-anchor="end" transform="rotate(-45 982.1 487.3)" textLength="30.62" lengthAdjust="spacingAndGlyphs">Ket</text>
<path d="M940.25,303.00 L940.25,298.70 M940.25,303.00 L944.34,301.67 M940.25,303.00 L942.78,306.48 M940.25,303.00 L937.72,306.48 M940.25,303.00 L936.16,301.67 " stroke="#000" stroke-width="1.7" fill="none"/>
<path d="M950.55,303.00 L950.55,298.70 M950.55,303.00 L954.64,301.67 M950.55,303.00 L953.08,306.48 M950.55,303.00 L948.02,306.48 M950.55,303.00 L946.46,301.67 " stroke="#000" stroke-width="1.7" fill="none"/>
<line x1="361.0" y1="605.6" x2="361.0" y2="646.1" stroke="#000" stroke-width="2.0"/>
<line x1="355.5" y1="606.6" x2="361.0" y2="606.6" stroke="#000" stroke-width="2.0"/>
<text x="350.1" y="613.9" text-anchor="end" textLength="34.04" lengthAdjust="spacingAndGlyphs">300</text>
<line x1="355.5" y1="626.4" x2="361.0" y2="626.4" stroke="#000" stroke-width="2.0"/>
<text x="350.1" y="633.7" text-anchor="end" textLength="34.04" lengthAdjust="spacingAndGlyphs">200</text>
<line x1="355.5" y1="646.1" x2="366.0" y2="646.1" stroke="#000" stroke-width="2.0"/>
<line x1="361.0" y1="662.7" x2="361.0" y2="782.0" stroke="#000" stroke-width="2.0"/>
<line x1="355.5" y1="662.7" x2="366.0" y2="662.7" stroke="#000" stroke-width="2.0"/>
<line x1="355.5" y1="662.7" x2="361.0" y2="662.7" stroke="#000" stroke-width="2.0"/>
<text x="350.1" y="670.0" text-anchor="end" textLength="34.04" lengthAdjust="spacingAndGlyphs">100</text>
<line x1="355.5" y1="692.0" x2="361.0" y2="692.0" stroke="#000" stroke-width="2.0"/>
<text x="350.1" y="699.3" text-anchor="end" textLength="22.69" lengthAdjust="spacingAndGlyphs">75</text>
<line x1="355.5" y1="721.9" x2="361.0" y2="721.9" stroke="#000" stroke-width="2.0"/>
<text x="350.1" y="729.2" text-anchor="end" textLength="22.69" lengthAdjust="spacingAndGlyphs">50</text>
<line x1="355.5" y1="751.3" x2="361.0" y2="751.3" stroke="#000" stroke-width="2.0"/>
<text x="350.1" y="758.6" text-anchor="end" textLength="22.69" lengthAdjust="spacingAndGlyphs">25</text>
<line x1="355.5" y1="781.0" x2="361.0" y2="781.0" stroke="#000" stroke-width="2.0"/>
<text x="350.1" y="788.3" text-anchor="end" textLength="11.35" lengthAdjust="spacingAndGlyphs">0</text>
<text x="305.45" y="765.90" textLength="137.28" lengthAdjust="spacingAndGlyphs" transform="rotate(-90 305.50 765.90)">Amplitude (pA)</text>
<rect x="376.6" y="732.1" width="33.0" height="48.9" fill="#8cc21f"/>
<rect x="442.2" y="772.0" width="32.8" height="9.0" fill="#32a6df"/>
<line x1="355.0" y1="781.0" x2="492.4" y2="781.0" stroke="#000" stroke-width="2.0"/>
<line x1="393.0" y1="781.0" x2="393.0" y2="787.0" stroke="#000" stroke-width="2.0"/>
<line x1="458.4" y1="781.0" x2="458.4" y2="787.0" stroke="#000" stroke-width="2.0"/>
<circle cx="388.5" cy="629.5" r="3.3" fill="#fff" stroke="#000" stroke-width="1.8"/>
<circle cx="397.4" cy="634.2" r="3.3" fill="#fff" stroke="#000" stroke-width="1.8"/>
<circle cx="393.0" cy="643.5" r="3.3" fill="#fff" stroke="#000" stroke-width="1.8"/>
<circle cx="393.0" cy="669.6" r="3.3" fill="#fff" stroke="#000" stroke-width="1.8"/>
<circle cx="393.0" cy="689.0" r="3.3" fill="#fff" stroke="#000" stroke-width="1.8"/>
<circle cx="393.0" cy="698.5" r="3.3" fill="#fff" stroke="#000" stroke-width="1.8"/>
<circle cx="393.0" cy="713.4" r="3.3" fill="#fff" stroke="#000" stroke-width="1.8"/>
<circle cx="384.3" cy="726.5" r="3.3" fill="#fff" stroke="#000" stroke-width="1.8"/>
<circle cx="388.5" cy="727.3" r="3.3" fill="#fff" stroke="#000" stroke-width="1.8"/>
<circle cx="392.6" cy="726.7" r="3.3" fill="#fff" stroke="#000" stroke-width="1.8"/>
<circle cx="397.4" cy="732.1" r="3.3" fill="#fff" stroke="#000" stroke-width="1.8"/>
<circle cx="388.5" cy="736.4" r="3.3" fill="#fff" stroke="#000" stroke-width="1.8"/>
<circle cx="397.4" cy="740.4" r="3.3" fill="#fff" stroke="#000" stroke-width="1.8"/>
<circle cx="393.0" cy="744.5" r="3.3" fill="#fff" stroke="#000" stroke-width="1.8"/>
<circle cx="388.5" cy="754.9" r="3.3" fill="#fff" stroke="#000" stroke-width="1.8"/>
<circle cx="393.0" cy="751.9" r="3.3" fill="#fff" stroke="#000" stroke-width="1.8"/>
<circle cx="397.4" cy="757.6" r="3.3" fill="#fff" stroke="#000" stroke-width="1.8"/>
<circle cx="388.5" cy="764.1" r="3.3" fill="#fff" stroke="#000" stroke-width="1.8"/>
<circle cx="402.1" cy="765.3" r="3.3" fill="#fff" stroke="#000" stroke-width="1.8"/>
<circle cx="393.0" cy="768.0" r="3.3" fill="#fff" stroke="#000" stroke-width="1.8"/>
<circle cx="380.2" cy="772.4" r="3.3" fill="#fff" stroke="#000" stroke-width="1.8"/>
<circle cx="384.3" cy="770.0" r="3.3" fill="#fff" stroke="#000" stroke-width="1.8"/>
<circle cx="388.5" cy="774.2" r="3.3" fill="#fff" stroke="#000" stroke-width="1.8"/>
<circle cx="397.4" cy="774.7" r="3.3" fill="#fff" stroke="#000" stroke-width="1.8"/>
<circle cx="402.1" cy="772.4" r="3.3" fill="#fff" stroke="#000" stroke-width="1.8"/>
<circle cx="406.8" cy="773.6" r="3.3" fill="#fff" stroke="#000" stroke-width="1.8"/>
<circle cx="384.3" cy="777.1" r="3.3" fill="#fff" stroke="#000" stroke-width="1.8"/>
<circle cx="393.0" cy="777.1" r="3.3" fill="#fff" stroke="#000" stroke-width="1.8"/>
<circle cx="401.5" cy="781.0" r="3.3" fill="#fff" stroke="#000" stroke-width="1.8"/>
<circle cx="458.4" cy="745.1" r="3.3" fill="#fff" stroke="#000" stroke-width="1.8"/>
<circle cx="459.4" cy="750.4" r="3.3" fill="#fff" stroke="#000" stroke-width="1.8"/>
<circle cx="456.6" cy="752.2" r="3.3" fill="#fff" stroke="#000" stroke-width="1.8"/>
<circle cx="456.6" cy="764.1" r="3.3" fill="#fff" stroke="#000" stroke-width="1.8"/>
<circle cx="460.2" cy="764.9" r="3.3" fill="#fff" stroke="#000" stroke-width="1.8"/>
<circle cx="458.4" cy="768.2" r="3.3" fill="#fff" stroke="#000" stroke-width="1.8"/>
<circle cx="453.7" cy="770.6" r="3.3" fill="#fff" stroke="#000" stroke-width="1.8"/>
<circle cx="463.2" cy="770.6" r="3.3" fill="#fff" stroke="#000" stroke-width="1.8"/>
<circle cx="460.8" cy="773.0" r="3.3" fill="#fff" stroke="#000" stroke-width="1.8"/>
<circle cx="447.8" cy="775.3" r="3.3" fill="#fff" stroke="#000" stroke-width="1.8"/>
<circle cx="451.9" cy="777.1" r="3.3" fill="#fff" stroke="#000" stroke-width="1.8"/>
<circle cx="456.1" cy="777.7" r="3.3" fill="#fff" stroke="#000" stroke-width="1.8"/>
<circle cx="460.8" cy="780.7" r="3.3" fill="#fff" stroke="#000" stroke-width="1.8"/>
<circle cx="445.4" cy="781.3" r="3.3" fill="#fff" stroke="#000" stroke-width="1.8"/>
<circle cx="453.7" cy="781.3" r="3.3" fill="#fff" stroke="#000" stroke-width="1.8"/>
<circle cx="467.3" cy="778.9" r="3.3" fill="#fff" stroke="#000" stroke-width="1.8"/>
<circle cx="471.5" cy="781.3" r="3.3" fill="#fff" stroke="#000" stroke-width="1.8"/>
<line x1="393.0" y1="721.7" x2="393.0" y2="742.1" stroke="#000" stroke-width="2.0"/>
<line x1="386.5" y1="721.7" x2="399.5" y2="721.7" stroke="#000" stroke-width="2.0"/>
<line x1="386.5" y1="742.1" x2="399.5" y2="742.1" stroke="#000" stroke-width="2.0"/>
<line x1="458.4" y1="767.0" x2="458.4" y2="776.5" stroke="#000" stroke-width="2.0"/>
<line x1="451.9" y1="767.0" x2="464.9" y2="767.0" stroke="#000" stroke-width="2.0"/>
<line x1="451.9" y1="776.5" x2="464.9" y2="776.5" stroke="#000" stroke-width="2.0"/>
<path d="M396.5,616.8 L396.5,609.0 L457.5,609.0 L457.5,616.8" stroke="#000" stroke-width="2.0" fill="none"/>
<text x="425.2" y="600.6" text-anchor="middle" textLength="0.00" lengthAdjust="spacingAndGlyphs"></text>
<text x="396.4" y="799.4" text-anchor="end" transform="rotate(-45 396.4 799.4)" textLength="29.49" lengthAdjust="spacingAndGlyphs">Sal</text>
<text x="458.9" y="799.4" text-anchor="end" transform="rotate(-45 458.9 799.4)" textLength="30.62" lengthAdjust="spacingAndGlyphs">Ket</text>
<text x="350.1" y="653.4" text-anchor="end" textLength="34.04" lengthAdjust="spacingAndGlyphs">100</text>
<path d="M409.75,600.60 L409.75,596.30 M409.75,600.60 L413.84,599.27 M409.75,600.60 L412.28,604.08 M409.75,600.60 L407.22,604.08 M409.75,600.60 L405.66,599.27 " stroke="#000" stroke-width="1.7" fill="none"/>
<path d="M420.05,600.60 L420.05,596.30 M420.05,600.60 L424.14,599.27 M420.05,600.60 L422.58,604.08 M420.05,600.60 L417.52,604.08 M420.05,600.60 L415.96,599.27 " stroke="#000" stroke-width="1.7" fill="none"/>
<path d="M430.35,600.60 L430.35,596.30 M430.35,600.60 L434.44,599.27 M430.35,600.60 L432.88,604.08 M430.35,600.60 L427.82,604.08 M430.35,600.60 L426.26,599.27 " stroke="#000" stroke-width="1.7" fill="none"/>
<path d="M440.65,600.60 L440.65,596.30 M440.65,600.60 L444.74,599.27 M440.65,600.60 L443.18,604.08 M440.65,600.60 L438.12,604.08 M440.65,600.60 L436.56,599.27 " stroke="#000" stroke-width="1.7" fill="none"/>
<line x1="890.9" y1="611.1" x2="890.9" y2="650.1" stroke="#000" stroke-width="2.0"/>
<line x1="885.4" y1="612.1" x2="890.9" y2="612.1" stroke="#000" stroke-width="2.0"/>
<text x="881.6" y="619.4" text-anchor="end" textLength="34.04" lengthAdjust="spacingAndGlyphs">300</text>
<line x1="885.4" y1="630.8" x2="890.9" y2="630.8" stroke="#000" stroke-width="2.0"/>
<text x="881.6" y="638.1" text-anchor="end" textLength="34.04" lengthAdjust="spacingAndGlyphs">200</text>
<line x1="885.4" y1="650.1" x2="895.9" y2="650.1" stroke="#000" stroke-width="2.0"/>
<line x1="890.9" y1="666.7" x2="890.9" y2="782.4" stroke="#000" stroke-width="2.0"/>
<line x1="885.4" y1="666.7" x2="895.9" y2="666.7" stroke="#000" stroke-width="2.0"/>
<line x1="885.4" y1="666.7" x2="890.9" y2="666.7" stroke="#000" stroke-width="2.0"/>
<text x="881.6" y="674.0" text-anchor="end" textLength="34.04" lengthAdjust="spacingAndGlyphs">100</text>
<line x1="885.4" y1="694.6" x2="890.9" y2="694.6" stroke="#000" stroke-width="2.0"/>
<text x="881.6" y="701.9" text-anchor="end" textLength="22.69" lengthAdjust="spacingAndGlyphs">75</text>
<line x1="885.4" y1="723.9" x2="890.9" y2="723.9" stroke="#000" stroke-width="2.0"/>
<text x="881.6" y="731.2" text-anchor="end" textLength="22.69" lengthAdjust="spacingAndGlyphs">50</text>
<line x1="885.4" y1="752.7" x2="890.9" y2="752.7" stroke="#000" stroke-width="2.0"/>
<text x="881.6" y="760.0" text-anchor="end" textLength="22.69" lengthAdjust="spacingAndGlyphs">25</text>
<line x1="885.4" y1="781.4" x2="890.9" y2="781.4" stroke="#000" stroke-width="2.0"/>
<text x="881.6" y="788.7" text-anchor="end" textLength="11.35" lengthAdjust="spacingAndGlyphs">0</text>
<text x="836.55" y="765.90" textLength="137.28" lengthAdjust="spacingAndGlyphs" transform="rotate(-90 836.60 765.90)">Amplitude (pA)</text>
<rect x="906.1" y="736.6" width="31.6" height="44.8" fill="#8cc21f"/>
<rect x="969.6" y="760.9" width="32.0" height="20.5" fill="#32a6df"/>
<line x1="884.9" y1="781.4" x2="1018.5" y2="781.4" stroke="#000" stroke-width="2.0"/>
<line x1="921.9" y1="781.4" x2="921.9" y2="787.4" stroke="#000" stroke-width="2.0"/>
<line x1="985.3" y1="781.4" x2="985.3" y2="787.4" stroke="#000" stroke-width="2.0"/>
<circle cx="921.9" cy="641.3" r="3.2" fill="#fff" stroke="#000" stroke-width="1.95"/>
<circle cx="921.9" cy="648.9" r="3.2" fill="#fff" stroke="#000" stroke-width="1.95"/>
<circle cx="926.2" cy="671.3" r="3.2" fill="#fff" stroke="#000" stroke-width="1.95"/>
<circle cx="921.9" cy="675.0" r="3.2" fill="#fff" stroke="#000" stroke-width="1.95"/>
<circle cx="926.2" cy="698.3" r="3.2" fill="#fff" stroke="#000" stroke-width="1.95"/>
<circle cx="921.9" cy="703.5" r="3.2" fill="#fff" stroke="#000" stroke-width="1.95"/>
<circle cx="926.2" cy="721.9" r="3.2" fill="#fff" stroke="#000" stroke-width="1.95"/>
<circle cx="921.9" cy="723.9" r="3.2" fill="#fff" stroke="#000" stroke-width="1.95"/>
<circle cx="913.5" cy="735.9" r="3.2" fill="#fff" stroke="#000" stroke-width="1.95"/>
<circle cx="917.6" cy="734.7" r="3.2" fill="#fff" stroke="#000" stroke-width="1.95"/>
<circle cx="909.3" cy="740.5" r="3.2" fill="#fff" stroke="#000" stroke-width="1.95"/>
<circle cx="926.2" cy="739.7" r="3.2" fill="#fff" stroke="#000" stroke-width="1.95"/>
<circle cx="934.8" cy="741.6" r="3.2" fill="#fff" stroke="#000" stroke-width="1.95"/>
<circle cx="917.6" cy="744.3" r="3.2" fill="#fff" stroke="#000" stroke-width="1.95"/>
<circle cx="921.9" cy="746.9" r="3.2" fill="#fff" stroke="#000" stroke-width="1.95"/>
<circle cx="926.2" cy="746.9" r="3.2" fill="#fff" stroke="#000" stroke-width="1.95"/>
<circle cx="930.2" cy="749.4" r="3.2" fill="#fff" stroke="#000" stroke-width="1.95"/>
<circle cx="917.6" cy="752.3" r="3.2" fill="#fff" stroke="#000" stroke-width="1.95"/>
<circle cx="913.5" cy="757.2" r="3.2" fill="#fff" stroke="#000" stroke-width="1.95"/>
<circle cx="930.2" cy="757.5" r="3.2" fill="#fff" stroke="#000" stroke-width="1.95"/>
<circle cx="918.1" cy="760.9" r="3.2" fill="#fff" stroke="#000" stroke-width="1.95"/>
<circle cx="926.2" cy="759.5" r="3.2" fill="#fff" stroke="#000" stroke-width="1.95"/>
<circle cx="921.9" cy="762.1" r="3.2" fill="#fff" stroke="#000" stroke-width="1.95"/>
<circle cx="913.5" cy="764.4" r="3.2" fill="#fff" stroke="#000" stroke-width="1.95"/>
<circle cx="930.2" cy="766.4" r="3.2" fill="#fff" stroke="#000" stroke-width="1.95"/>
<circle cx="917.6" cy="769.5" r="3.2" fill="#fff" stroke="#000" stroke-width="1.95"/>
<circle cx="926.2" cy="770.1" r="3.2" fill="#fff" stroke="#000" stroke-width="1.95"/>
<circle cx="913.5" cy="772.4" r="3.2" fill="#fff" stroke="#000" stroke-width="1.95"/>
<circle cx="921.9" cy="771.8" r="3.2" fill="#fff" stroke="#000" stroke-width="1.95"/>
<circle cx="930.2" cy="774.9" r="3.2" fill="#fff" stroke="#000" stroke-width="1.95"/>
<circle cx="985.3" cy="704.9" r="3.2" fill="#fff" stroke="#000" stroke-width="1.95"/>
<circle cx="985.3" cy="714.4" r="3.2" fill="#fff" stroke="#000" stroke-width="1.95"/>
<circle cx="985.3" cy="735.9" r="3.2" fill="#fff" stroke="#000" stroke-width="1.95"/>
<circle cx="989.7" cy="738.0" r="3.2" fill="#fff" stroke="#000" stroke-width="1.95"/>
<circle cx="981.3" cy="760.9" r="3.2" fill="#fff" stroke="#000" stroke-width="1.95"/>
<circle cx="985.3" cy="759.2" r="3.2" fill="#fff" stroke="#000" stroke-width="1.95"/>
<circle cx="989.7" cy="759.8" r="3.2" fill="#fff" stroke="#000" stroke-width="1.95"/>
<circle cx="981.3" cy="767.8" r="3.2" fill="#fff" stroke="#000" stroke-width="1.95"/>
<circle cx="972.7" cy="770.7" r="3.2" fill="#fff" stroke="#000" stroke-width="1.95"/>
<circle cx="993.9" cy="767.8" r="3.2" fill="#fff" stroke="#000" stroke-width="1.95"/>
<circle cx="989.7" cy="772.6" r="3.2" fill="#fff" stroke="#000" stroke-width="1.95"/>
<circle cx="998.5" cy="772.2" r="3.2" fill="#fff" stroke="#000" stroke-width="1.95"/>
<circle cx="977.3" cy="773.6" r="3.2" fill="#fff" stroke="#000" stroke-width="1.95"/>
<circle cx="972.7" cy="778.4" r="3.2" fill="#fff" stroke="#000" stroke-width="1.95"/>
<circle cx="981.3" cy="777.2" r="3.2" fill="#fff" stroke="#000" stroke-width="1.95"/>
<circle cx="985.3" cy="775.8" r="3.2" fill="#fff" stroke="#000" stroke-width="1.95"/>
<circle cx="993.9" cy="776.1" r="3.2" fill="#fff" stroke="#000" stroke-width="1.95"/>
<circle cx="989.7" cy="779.9" r="3.2" fill="#fff" stroke="#000" stroke-width="1.95"/>
<circle cx="998.5" cy="779.9" r="3.2" fill="#fff" stroke="#000" stroke-width="1.95"/>
<line x1="921.9" y1="729.7" x2="921.9" y2="743.1" stroke="#000" stroke-width="2.0"/>
<line x1="915.4" y1="729.7" x2="928.4" y2="729.7" stroke="#000" stroke-width="2.0"/>
<line x1="915.4" y1="743.1" x2="928.4" y2="743.1" stroke="#000" stroke-width="2.0"/>
<line x1="985.3" y1="755.7" x2="985.3" y2="765.5" stroke="#000" stroke-width="2.0"/>
<line x1="978.8" y1="755.7" x2="991.8" y2="755.7" stroke="#000" stroke-width="2.0"/>
<line x1="978.8" y1="765.5" x2="991.8" y2="765.5" stroke="#000" stroke-width="2.0"/>
<path d="M925.0,628.5 L925.0,621.0 L985.2,621.0 L985.2,628.5" stroke="#000" stroke-width="2.0" fill="none"/>
<text x="951.9" y="614.4" text-anchor="middle" textLength="0.00" lengthAdjust="spacingAndGlyphs"></text>
<text x="923.2" y="803.2" text-anchor="end" transform="rotate(-45 923.2 803.2)" textLength="29.49" lengthAdjust="spacingAndGlyphs">Sal</text>
<text x="982.6" y="803.0" text-anchor="end" transform="rotate(-45 982.6 803.0)" textLength="30.62" lengthAdjust="spacingAndGlyphs">Ket</text>
<text x="881.6" y="657.4" text-anchor="end" textLength="34.04" lengthAdjust="spacingAndGlyphs">100</text>
<path d="M946.75,614.40 L946.75,610.10 M946.75,614.40 L950.84,613.07 M946.75,614.40 L949.28,617.88 M946.75,614.40 L944.22,617.88 M946.75,614.40 L942.66,613.07 " stroke="#000" stroke-width="1.7" fill="none"/>
<path d="M957.05,614.40 L957.05,610.10 M957.05,614.40 L961.14,613.07 M957.05,614.40 L959.58,617.88 M957.05,614.40 L954.52,617.88 M957.05,614.40 L952.96,613.07 " stroke="#000" stroke-width="1.7" fill="none"/>
<line x1="380.5" y1="941.0" x2="380.5" y2="981.7" stroke="#000" stroke-width="2.0"/>
<line x1="375.0" y1="942.0" x2="380.5" y2="942.0" stroke="#000" stroke-width="2.0"/>
<text x="371.1" y="949.3" text-anchor="end" textLength="51.05" lengthAdjust="spacingAndGlyphs">1,500</text>
<line x1="375.0" y1="961.9" x2="380.5" y2="961.9" stroke="#000" stroke-width="2.0"/>
<text x="371.1" y="969.2" text-anchor="end" textLength="51.05" lengthAdjust="spacingAndGlyphs">1,000</text>
<line x1="375.0" y1="981.7" x2="385.5" y2="981.7" stroke="#000" stroke-width="2.0"/>
<line x1="380.5" y1="997.8" x2="380.5" y2="1117.0" stroke="#000" stroke-width="2.0"/>
<line x1="375.0" y1="997.8" x2="385.5" y2="997.8" stroke="#000" stroke-width="2.0"/>
<line x1="375.0" y1="997.8" x2="380.5" y2="997.8" stroke="#000" stroke-width="2.0"/>
<text x="371.1" y="1005.1" text-anchor="end" textLength="34.04" lengthAdjust="spacingAndGlyphs">500</text>
<line x1="375.0" y1="1021.7" x2="380.5" y2="1021.7" stroke="#000" stroke-width="2.0"/>
<text x="371.1" y="1029.0" text-anchor="end" textLength="34.04" lengthAdjust="spacingAndGlyphs">400</text>
<line x1="375.0" y1="1045.1" x2="380.5" y2="1045.1" stroke="#000" stroke-width="2.0"/>
<text x="371.1" y="1052.4" text-anchor="end" textLength="34.04" lengthAdjust="spacingAndGlyphs">300</text>
<line x1="375.0" y1="1068.8" x2="380.5" y2="1068.8" stroke="#000" stroke-width="2.0"/>
<text x="371.1" y="1076.1" text-anchor="end" textLength="34.04" lengthAdjust="spacingAndGlyphs">200</text>
<line x1="375.0" y1="1092.3" x2="380.5" y2="1092.3" stroke="#000" stroke-width="2.0"/>
<text x="371.1" y="1099.6" text-anchor="end" textLength="34.04" lengthAdjust="spacingAndGlyphs">100</text>
<line x1="375.0" y1="1116.0" x2="380.5" y2="1116.0" stroke="#000" stroke-width="2.0"/>
<text x="371.1" y="1123.3" text-anchor="end" textLength="11.35" lengthAdjust="spacingAndGlyphs">0</text>
<text x="314.45" y="1093.80" textLength="137.28" lengthAdjust="spacingAndGlyphs" transform="rotate(-90 314.50 1093.80)">Amplitude (pA)</text>
<rect x="396.5" y="1065.2" width="33.1" height="50.8" fill="#8cc21f"/>
<rect x="461.9" y="1043.2" width="32.8" height="72.8" fill="#32a6df"/>
<line x1="374.5" y1="1116.0" x2="511.6" y2="1116.0" stroke="#000" stroke-width="2.0"/>
<line x1="412.9" y1="1116.0" x2="412.9" y2="1122.0" stroke="#000" stroke-width="2.0"/>
<line x1="478.0" y1="1116.0" x2="478.0" y2="1122.0" stroke="#000" stroke-width="2.0"/>
<circle cx="410.3" cy="966.5" r="3.45" fill="#fff" stroke="#000" stroke-width="1.8"/>
<circle cx="415.8" cy="975.1" r="3.45" fill="#fff" stroke="#000" stroke-width="1.8"/>
<circle cx="410.3" cy="978.9" r="3.45" fill="#fff" stroke="#000" stroke-width="1.8"/>
<circle cx="415.8" cy="1007.8" r="3.45" fill="#fff" stroke="#000" stroke-width="1.8"/>
<circle cx="415.8" cy="1023.0" r="3.45" fill="#fff" stroke="#000" stroke-width="1.8"/>
<circle cx="410.3" cy="1034.0" r="3.45" fill="#fff" stroke="#000" stroke-width="1.8"/>
<circle cx="415.8" cy="1037.7" r="3.45" fill="#fff" stroke="#000" stroke-width="1.8"/>
<circle cx="410.3" cy="1042.8" r="3.45" fill="#fff" stroke="#000" stroke-width="1.8"/>
<circle cx="415.8" cy="1073.3" r="3.45" fill="#fff" stroke="#000" stroke-width="1.8"/>
<circle cx="399.9" cy="1077.6" r="3.45" fill="#fff" stroke="#000" stroke-width="1.8"/>
<circle cx="405.4" cy="1076.5" r="3.45" fill="#fff" stroke="#000" stroke-width="1.8"/>
<circle cx="410.3" cy="1078.4" r="3.45" fill="#fff" stroke="#000" stroke-width="1.8"/>
<circle cx="415.8" cy="1080.7" r="3.45" fill="#fff" stroke="#000" stroke-width="1.8"/>
<circle cx="426.1" cy="1080.4" r="3.45" fill="#fff" stroke="#000" stroke-width="1.8"/>
<circle cx="405.4" cy="1085.3" r="3.45" fill="#fff" stroke="#000" stroke-width="1.8"/>
<circle cx="410.3" cy="1085.3" r="3.45" fill="#fff" stroke="#000" stroke-width="1.8"/>
<circle cx="415.8" cy="1087.6" r="3.45" fill="#fff" stroke="#000" stroke-width="1.8"/>
<circle cx="399.9" cy="1089.4" r="3.45" fill="#fff" stroke="#000" stroke-width="1.8"/>
<circle cx="426.1" cy="1088.8" r="3.45" fill="#fff" stroke="#000" stroke-width="1.8"/>
<circle cx="405.4" cy="1094.0" r="3.45" fill="#fff" stroke="#000" stroke-width="1.8"/>
<circle cx="410.3" cy="1092.2" r="3.45" fill="#fff" stroke="#000" stroke-width="1.8"/>
<circle cx="420.6" cy="1091.7" r="3.45" fill="#fff" stroke="#000" stroke-width="1.8"/>
<circle cx="420.6" cy="1098.0" r="3.45" fill="#fff" stroke="#000" stroke-width="1.8"/>
<circle cx="410.3" cy="1099.9" r="3.45" fill="#fff" stroke="#000" stroke-width="1.8"/>
<circle cx="415.8" cy="1098.5" r="3.45" fill="#fff" stroke="#000" stroke-width="1.8"/>
<circle cx="405.4" cy="1102.0" r="3.45" fill="#fff" stroke="#000" stroke-width="1.8"/>
<circle cx="415.8" cy="1105.4" r="3.45" fill="#fff" stroke="#000" stroke-width="1.8"/>
<circle cx="420.6" cy="1104.3" r="3.45" fill="#fff" stroke="#000" stroke-width="1.8"/>
<circle cx="405.4" cy="1111.0" r="3.45" fill="#fff" stroke="#000" stroke-width="1.8"/>
<circle cx="478.0" cy="969.9" r="3.45" fill="#fff" stroke="#000" stroke-width="1.8"/>
<circle cx="491.2" cy="965.1" r="3.45" fill="#fff" stroke="#000" stroke-width="1.8"/>
<circle cx="478.0" cy="977.4" r="3.45" fill="#fff" stroke="#000" stroke-width="1.8"/>
<circle cx="491.2" cy="975.7" r="3.45" fill="#fff" stroke="#000" stroke-width="1.8"/>
<circle cx="478.0" cy="1003.5" r="3.45" fill="#fff" stroke="#000" stroke-width="1.8"/>
<circle cx="465.2" cy="1014.7" r="3.45" fill="#fff" stroke="#000" stroke-width="1.8"/>
<circle cx="491.2" cy="1014.1" r="3.45" fill="#fff" stroke="#000" stroke-width="1.8"/>
<circle cx="478.0" cy="1021.4" r="3.45" fill="#fff" stroke="#000" stroke-width="1.8"/>
<circle cx="478.0" cy="1030.8" r="3.45" fill="#fff" stroke="#000" stroke-width="1.8"/>
<circle cx="465.2" cy="1043.4" r="3.45" fill="#fff" stroke="#000" stroke-width="1.8"/>
<circle cx="478.0" cy="1042.3" r="3.45" fill="#fff" stroke="#000" stroke-width="1.8"/>
<circle cx="478.0" cy="1056.6" r="3.45" fill="#fff" stroke="#000" stroke-width="1.8"/>
<circle cx="491.2" cy="1056.6" r="3.45" fill="#fff" stroke="#000" stroke-width="1.8"/>
<circle cx="478.0" cy="1063.5" r="3.45" fill="#fff" stroke="#000" stroke-width="1.8"/>
<circle cx="465.2" cy="1079.6" r="3.45" fill="#fff" stroke="#000" stroke-width="1.8"/>
<circle cx="491.2" cy="1076.2" r="3.45" fill="#fff" stroke="#000" stroke-width="1.8"/>
<circle cx="478.0" cy="1081.9" r="3.45" fill="#fff" stroke="#000" stroke-width="1.8"/>
<circle cx="465.2" cy="1086.5" r="3.45" fill="#fff" stroke="#000" stroke-width="1.8"/>
<circle cx="478.0" cy="1088.8" r="3.45" fill="#fff" stroke="#000" stroke-width="1.8"/>
<circle cx="491.2" cy="1086.8" r="3.45" fill="#fff" stroke="#000" stroke-width="1.8"/>
<circle cx="465.2" cy="1103.7" r="3.45" fill="#fff" stroke="#000" stroke-width="1.8"/>
<circle cx="478.0" cy="1104.1" r="3.45" fill="#fff" stroke="#000" stroke-width="1.8"/>
<circle cx="491.2" cy="1106.4" r="3.45" fill="#fff" stroke="#000" stroke-width="1.8"/>
<circle cx="478.0" cy="1113.2" r="3.45" fill="#fff" stroke="#000" stroke-width="1.8"/>
<line x1="412.9" y1="1056.1" x2="412.9" y2="1074.4" stroke="#000" stroke-width="2.0"/>
<line x1="406.4" y1="1056.1" x2="419.4" y2="1056.1" stroke="#000" stroke-width="2.0"/>
<line x1="406.4" y1="1074.4" x2="419.4" y2="1074.4" stroke="#000" stroke-width="2.0"/>
<line x1="478.0" y1="1031.4" x2="478.0" y2="1054.9" stroke="#000" stroke-width="2.0"/>
<line x1="471.5" y1="1031.4" x2="484.5" y2="1031.4" stroke="#000" stroke-width="2.0"/>
<line x1="471.5" y1="1054.9" x2="484.5" y2="1054.9" stroke="#000" stroke-width="2.0"/>
<path d="M416.4,948.7 L416.4,940.8 L477.4,940.8 L477.4,948.7" stroke="#000" stroke-width="2.0" fill="none"/>
<text x="447.5" y="935.6" text-anchor="middle" textLength="28.34" lengthAdjust="spacingAndGlyphs">NS</text>
<text x="419.3" y="1138.4" text-anchor="end" transform="rotate(-45 419.3 1138.4)" textLength="29.49" lengthAdjust="spacingAndGlyphs">Sal</text>
<text x="478.2" y="1139.0" text-anchor="end" transform="rotate(-45 478.2 1139.0)" textLength="30.62" lengthAdjust="spacingAndGlyphs">Ket</text>
<text x="371.1" y="989.0" text-anchor="end" textLength="34.04" lengthAdjust="spacingAndGlyphs">500</text>
<line x1="910.7" y1="941.4" x2="910.7" y2="981.5" stroke="#000" stroke-width="2.0"/>
<line x1="905.2" y1="942.4" x2="910.7" y2="942.4" stroke="#000" stroke-width="2.0"/>
<text x="901.1" y="949.7" text-anchor="end" textLength="51.05" lengthAdjust="spacingAndGlyphs">1,500</text>
<line x1="905.2" y1="961.8" x2="910.7" y2="961.8" stroke="#000" stroke-width="2.0"/>
<text x="901.1" y="969.1" text-anchor="end" textLength="51.05" lengthAdjust="spacingAndGlyphs">1,000</text>
<line x1="905.2" y1="981.5" x2="915.7" y2="981.5" stroke="#000" stroke-width="2.0"/>
<line x1="910.7" y1="998.6" x2="910.7" y2="1116.5" stroke="#000" stroke-width="2.0"/>
<line x1="905.2" y1="998.6" x2="915.7" y2="998.6" stroke="#000" stroke-width="2.0"/>
<line x1="905.2" y1="998.6" x2="910.7" y2="998.6" stroke="#000" stroke-width="2.0"/>
<text x="901.1" y="1005.9" text-anchor="end" textLength="34.04" lengthAdjust="spacingAndGlyphs">500</text>
<line x1="905.2" y1="1021.6" x2="910.7" y2="1021.6" stroke="#000" stroke-width="2.0"/>
<text x="901.1" y="1028.9" text-anchor="end" textLength="34.04" lengthAdjust="spacingAndGlyphs">400</text>
<line x1="905.2" y1="1045.1" x2="910.7" y2="1045.1" stroke="#000" stroke-width="2.0"/>
<text x="901.1" y="1052.4" text-anchor="end" textLength="34.04" lengthAdjust="spacingAndGlyphs">300</text>
<line x1="905.2" y1="1068.5" x2="910.7" y2="1068.5" stroke="#000" stroke-width="2.0"/>
<text x="901.1" y="1075.8" text-anchor="end" textLength="34.04" lengthAdjust="spacingAndGlyphs">200</text>
<line x1="905.2" y1="1092.0" x2="910.7" y2="1092.0" stroke="#000" stroke-width="2.0"/>
<text x="901.1" y="1099.3" text-anchor="end" textLength="34.04" lengthAdjust="spacingAndGlyphs">100</text>
<line x1="905.2" y1="1115.5" x2="910.7" y2="1115.5" stroke="#000" stroke-width="2.0"/>
<text x="901.1" y="1122.8" text-anchor="end" textLength="11.35" lengthAdjust="spacingAndGlyphs">0</text>
<text x="844.45" y="1093.80" textLength="137.28" lengthAdjust="spacingAndGlyphs" transform="rotate(-90 844.50 1093.80)">Amplitude (pA)</text>
<rect x="927.1" y="1058.4" width="32.1" height="57.1" fill="#8cc21f"/>
<rect x="993.7" y="1060.4" width="29.0" height="55.1" fill="#32a6df"/>
<line x1="904.7" y1="1115.5" x2="1041.5" y2="1115.5" stroke="#000" stroke-width="2.0"/>
<line x1="943.1" y1="1115.5" x2="943.1" y2="1121.5" stroke="#000" stroke-width="2.0"/>
<line x1="1008.0" y1="1115.5" x2="1008.0" y2="1121.5" stroke="#000" stroke-width="2.0"/>
<circle cx="943.1" cy="964.8" r="3.4" fill="#fff" stroke="#000" stroke-width="1.8"/>
<circle cx="943.1" cy="966.5" r="3.4" fill="#fff" stroke="#000" stroke-width="1.8"/>
<circle cx="943.1" cy="968.6" r="3.4" fill="#fff" stroke="#000" stroke-width="1.8"/>
<circle cx="945.1" cy="977.4" r="3.4" fill="#fff" stroke="#000" stroke-width="1.8"/>
<circle cx="941.4" cy="979.3" r="3.4" fill="#fff" stroke="#000" stroke-width="1.8"/>
<circle cx="941.4" cy="1002.1" r="3.4" fill="#fff" stroke="#000" stroke-width="1.8"/>
<circle cx="945.1" cy="1004.6" r="3.4" fill="#fff" stroke="#000" stroke-width="1.8"/>
<circle cx="943.1" cy="1007.8" r="3.4" fill="#fff" stroke="#000" stroke-width="1.8"/>
<circle cx="943.1" cy="1033.7" r="3.4" fill="#fff" stroke="#000" stroke-width="1.8"/>
<circle cx="939.1" cy="1048.0" r="3.4" fill="#fff" stroke="#000" stroke-width="1.8"/>
<circle cx="943.1" cy="1046.9" r="3.4" fill="#fff" stroke="#000" stroke-width="1.8"/>
<circle cx="945.1" cy="1050.9" r="3.4" fill="#fff" stroke="#000" stroke-width="1.8"/>
<circle cx="943.1" cy="1053.8" r="3.4" fill="#fff" stroke="#000" stroke-width="1.8"/>
<circle cx="943.1" cy="1071.0" r="3.4" fill="#fff" stroke="#000" stroke-width="1.8"/>
<circle cx="945.1" cy="1080.7" r="3.4" fill="#fff" stroke="#000" stroke-width="1.8"/>
<circle cx="941.4" cy="1083.6" r="3.4" fill="#fff" stroke="#000" stroke-width="1.8"/>
<circle cx="933.9" cy="1089.4" r="3.4" fill="#fff" stroke="#000" stroke-width="1.8"/>
<circle cx="938.0" cy="1088.2" r="3.4" fill="#fff" stroke="#000" stroke-width="1.8"/>
<circle cx="952.9" cy="1088.2" r="3.4" fill="#fff" stroke="#000" stroke-width="1.8"/>
<circle cx="948.3" cy="1088.8" r="3.4" fill="#fff" stroke="#000" stroke-width="1.8"/>
<circle cx="930.5" cy="1092.8" r="3.4" fill="#fff" stroke="#000" stroke-width="1.8"/>
<circle cx="939.7" cy="1092.8" r="3.4" fill="#fff" stroke="#000" stroke-width="1.8"/>
<circle cx="943.7" cy="1091.7" r="3.4" fill="#fff" stroke="#000" stroke-width="1.8"/>
<circle cx="956.1" cy="1092.8" r="3.4" fill="#fff" stroke="#000" stroke-width="1.8"/>
<circle cx="935.7" cy="1094.0" r="3.4" fill="#fff" stroke="#000" stroke-width="1.8"/>
<circle cx="949.5" cy="1096.8" r="3.4" fill="#fff" stroke="#000" stroke-width="1.8"/>
<circle cx="946.0" cy="1097.4" r="3.4" fill="#fff" stroke="#000" stroke-width="1.8"/>
<circle cx="939.7" cy="1098.5" r="3.4" fill="#fff" stroke="#000" stroke-width="1.8"/>
<circle cx="943.1" cy="1104.3" r="3.4" fill="#fff" stroke="#000" stroke-width="1.8"/>
<circle cx="939.7" cy="1106.6" r="3.4" fill="#fff" stroke="#000" stroke-width="1.8"/>
<circle cx="946.6" cy="1106.6" r="3.4" fill="#fff" stroke="#000" stroke-width="1.8"/>
<circle cx="1012.4" cy="976.6" r="3.4" fill="#fff" stroke="#000" stroke-width="1.8"/>
<circle cx="1012.4" cy="1006.1" r="3.4" fill="#fff" stroke="#000" stroke-width="1.8"/>
<circle cx="1003.8" cy="1018.7" r="3.4" fill="#fff" stroke="#000" stroke-width="1.8"/>
<circle cx="1012.4" cy="1026.8" r="3.4" fill="#fff" stroke="#000" stroke-width="1.8"/>
<circle cx="1003.8" cy="1038.8" r="3.4" fill="#fff" stroke="#000" stroke-width="1.8"/>
<circle cx="1012.4" cy="1039.4" r="3.4" fill="#fff" stroke="#000" stroke-width="1.8"/>
<circle cx="1003.8" cy="1045.7" r="3.4" fill="#fff" stroke="#000" stroke-width="1.8"/>
<circle cx="995.2" cy="1050.3" r="3.4" fill="#fff" stroke="#000" stroke-width="1.8"/>
<circle cx="1003.8" cy="1054.7" r="3.4" fill="#fff" stroke="#000" stroke-width="1.8"/>
<circle cx="1012.4" cy="1055.5" r="3.4" fill="#fff" stroke="#000" stroke-width="1.8"/>
<circle cx="1012.4" cy="1062.4" r="3.4" fill="#fff" stroke="#000" stroke-width="1.8"/>
<circle cx="1003.8" cy="1075.0" r="3.4" fill="#fff" stroke="#000" stroke-width="1.8"/>
<circle cx="1003.8" cy="1086.5" r="3.4" fill="#fff" stroke="#000" stroke-width="1.8"/>
<circle cx="995.2" cy="1093.4" r="3.4" fill="#fff" stroke="#000" stroke-width="1.8"/>
<circle cx="1021.2" cy="1088.4" r="3.4" fill="#fff" stroke="#000" stroke-width="1.8"/>
<circle cx="1003.8" cy="1101.1" r="3.4" fill="#fff" stroke="#000" stroke-width="1.8"/>
<circle cx="1012.4" cy="1102.0" r="3.4" fill="#fff" stroke="#000" stroke-width="1.8"/>
<circle cx="1021.2" cy="1101.1" r="3.4" fill="#fff" stroke="#000" stroke-width="1.8"/>
<circle cx="995.2" cy="1104.3" r="3.4" fill="#fff" stroke="#000" stroke-width="1.8"/>
<line x1="943.1" y1="1048.6" x2="943.1" y2="1068.1" stroke="#000" stroke-width="2.0"/>
<line x1="936.6" y1="1048.6" x2="949.6" y2="1048.6" stroke="#000" stroke-width="2.0"/>
<line x1="936.6" y1="1068.1" x2="949.6" y2="1068.1" stroke="#000" stroke-width="2.0"/>
<line x1="1008.0" y1="1049.7" x2="1008.0" y2="1067.3" stroke="#000" stroke-width="2.0"/>
<line x1="1001.5" y1="1049.7" x2="1014.5" y2="1049.7" stroke="#000" stroke-width="2.0"/>
<line x1="1001.5" y1="1067.3" x2="1014.5" y2="1067.3" stroke="#000" stroke-width="2.0"/>
<path d="M946.5,948.2 L946.5,940.5 L1006.8,940.5 L1006.8,948.2" stroke="#000" stroke-width="2.0" fill="none"/>
<text x="976.3" y="935.8" text-anchor="middle" textLength="28.34" lengthAdjust="spacingAndGlyphs">NS</text>
<text x="947.4" y="1136.9" text-anchor="end" transform="rotate(-45 947.4 1136.9)" textLength="29.49" lengthAdjust="spacingAndGlyphs">Sal</text>
<text x="1010.2" y="1136.9" text-anchor="end" transform="rotate(-45 1010.2 1136.9)" textLength="30.62" lengthAdjust="spacingAndGlyphs">Ket</text>
<text x="901.1" y="988.8" text-anchor="end" textLength="34.04" lengthAdjust="spacingAndGlyphs">500</text>
<text x="112.19" y="276.00" textLength="51.25" lengthAdjust="spacingAndGlyphs">+PTX</text>
<text x="97.78" y="312.70" textLength="29.61" lengthAdjust="spacingAndGlyphs">Sal</text>
<text x="201.24" y="311.50" textLength="31.94" lengthAdjust="spacingAndGlyphs">Ket</text>
<text x="0.97" y="373.40" textLength="71.31" lengthAdjust="spacingAndGlyphs">+40 mV</text>
<text x="2.00" y="407.80" textLength="70.28" lengthAdjust="spacingAndGlyphs">–70 mV</text>
<text x="123.2" y="445.5" text-anchor="middle" transform="rotate(-90 123.2 445.5)" textLength="53.31" lengthAdjust="spacingAndGlyphs">20 pA</text>
<path d="M131.1,457.5 L131.1,471.3 L141.8,471.3" stroke="#000" stroke-width="1.8" fill="none"/>
<text x="126.53" y="493.20" textLength="57.12" lengthAdjust="spacingAndGlyphs">10 ms</text>
<line x1="116.0" y1="322.8" x2="116.0" y2="394.0" stroke="#000" stroke-width="1.9" stroke-dasharray="4.8 3.5"/>
<line x1="220.0" y1="322.8" x2="220.0" y2="394.0" stroke="#000" stroke-width="1.9" stroke-dasharray="4.8 3.5"/>
<path d="M56.25,383.46 L56.77,383.76 L57.51,382.48 L58.10,382.92 L58.56,382.37 L59.18,382.81 L59.88,382.88 L60.42,382.25 L61.14,383.77 L61.67,382.27 L62.44,384.35 L62.84,383.15 L63.39,383.21 L64.19,383.15 L64.60,381.50 L65.26,381.99 L65.91,382.90 L66.41,382.73 L67.15,381.90 L67.73,382.94 L68.29,382.10 L68.96,384.11 L69.42,381.60 L70.21,382.08 L70.77,381.98 L71.19,385.01 L71.88,382.58 L72.50,382.04 L72.96,381.80 L73.72,381.21 L74.41,382.00 L74.93,383.81 L75.52,380.87 L76.23,382.99 L76.69,382.35 L77.36,382.24 L77.94,384.18 L78.50,382.50" stroke="#8cc21f" stroke-width="3.1" fill="none" stroke-linejoin="round" stroke-linecap="round"/>
<path d="M78.50,382.50 C78.80,380.42 79.80,375.42 80.30,370.00 C80.80,364.58 81.10,355.08 81.50,350.00 C81.90,344.92 82.50,341.25 82.70,339.50" stroke="#8cc21f" stroke-width="1.7" fill="none" stroke-linejoin="round" stroke-linecap="round"/>
<path d="M82.64,339.43 L83.37,339.66 L84.09,339.83 L84.70,340.48 L85.58,340.71 L85.89,340.98 L86.61,342.33 L86.87,340.82 L87.62,342.72 L88.10,343.31 L88.47,342.75 L89.04,345.32 L89.56,342.46 L90.15,344.37 L90.83,345.29 L91.44,344.96 L91.98,345.38 L92.63,343.43 L93.39,344.73 L94.00,344.80 L94.53,345.06 L95.45,346.48 L96.09,344.50 L96.63,345.94 L97.37,346.52 L97.87,346.81 L98.57,346.49 L99.29,346.24 L99.90,346.21 L100.48,346.39 L101.31,346.99 L101.83,347.57 L102.35,348.03 L102.96,349.05 L103.65,349.41 L103.99,348.19 L104.38,349.00 L104.95,349.19 L105.40,351.41 L105.86,351.17 L106.39,350.17 L107.10,351.94 L107.81,351.39 L108.36,351.32 L108.79,351.24 L109.32,352.40 L110.08,351.50 L110.53,353.21 L111.31,354.89 L111.86,354.17 L112.41,352.37 L112.83,353.43 L113.36,354.51 L113.94,354.77 L114.72,355.89 L115.39,353.50 L115.98,356.49 L116.55,355.68 L116.92,356.88 L117.50,357.02 L118.30,358.13 L118.86,355.89 L119.44,357.62 L119.81,356.66 L120.61,356.30 L121.19,357.68 L121.79,358.58 L122.22,359.53 L122.81,356.76 L123.39,360.68 L123.89,359.12 L124.45,361.00 L125.23,361.72 L125.60,361.58 L126.33,358.45 L126.81,360.50 L127.28,361.08 L128.14,360.85 L128.70,360.87 L129.13,363.17 L129.63,361.05 L130.22,362.34 L130.89,363.42 L131.36,362.61 L132.13,363.51 L132.54,362.39 L133.28,364.10 L133.70,364.97 L134.30,364.30" stroke="#8cc21f" stroke-width="3.1" fill="none" stroke-linejoin="round" stroke-linecap="round"/>
<path d="M78.50,383.00 C78.67,386.47 78.98,393.32 79.50,403.80 C80.02,414.28 80.93,433.17 81.60,445.90 C82.27,458.63 83.18,474.48 83.50,480.20" stroke="#8cc21f" stroke-width="1.7" fill="none" stroke-linejoin="round" stroke-linecap="round"/>
<path d="M83.50,480.20 C83.80,476.25 84.57,465.73 85.30,456.50 C86.03,447.27 86.75,432.72 87.90,424.80 C89.05,416.88 90.78,413.47 92.20,409.00 C93.62,404.53 95.70,399.83 96.40,398.00" stroke="#8cc21f" stroke-width="1.7" fill="none" stroke-linejoin="round" stroke-linecap="round"/>
<path d="M96.41,397.48 L96.70,398.41 L96.88,397.00 L97.12,396.50 L97.55,395.25 L97.91,394.47 L98.14,394.39 L98.44,394.20 L98.73,393.14 L98.92,392.74 L99.53,394.18 L100.08,392.44 L100.57,389.99 L101.15,390.55 L101.70,391.25 L102.16,389.94 L102.83,390.39 L103.33,391.85 L103.77,388.53 L104.43,391.36 L104.87,388.86 L105.43,388.85 L106.04,389.02 L106.56,387.84 L107.37,386.94 L107.72,387.76 L108.29,386.46 L109.08,388.09 L109.67,387.06 L110.07,384.18 L110.83,387.28 L111.26,386.24 L111.94,387.83 L112.53,386.94 L113.11,389.01 L113.90,387.70 L114.46,388.08 L115.18,387.85 L115.92,388.31 L116.49,388.92 L116.90,388.23 L117.40,388.23 L118.00,387.20 L118.65,389.11 L119.17,386.62 L119.71,388.32 L120.44,386.53 L120.83,388.19 L121.50,387.19 L121.96,387.68 L122.75,385.82 L123.11,386.31 L123.91,385.64 L124.40,385.16 L125.16,386.61 L125.58,386.27 L126.19,386.18 L126.77,385.41 L127.42,385.37 L128.07,384.48 L128.68,386.29 L129.36,385.10 L129.83,385.35 L130.52,385.93 L131.23,384.49 L131.74,382.14 L132.33,384.42 L133.16,383.00 L133.78,384.26 L134.30,383.70" stroke="#8cc21f" stroke-width="3.1" fill="none" stroke-linejoin="round" stroke-linecap="round"/>
<path d="M164.97,381.18 L165.75,382.64 L166.16,383.47 L166.85,381.34 L167.39,382.51 L167.91,382.97 L168.49,382.66 L169.12,381.93 L169.70,383.80 L170.48,381.00 L170.97,382.74 L171.63,383.53 L172.14,381.96 L172.99,382.96 L173.59,381.98 L174.20,382.48 L174.60,382.67 L175.23,382.74 L175.86,382.03 L176.47,382.69 L176.93,382.66 L177.65,383.13 L178.14,383.54 L178.81,382.82 L179.51,381.06 L180.14,382.40 L180.76,383.42 L181.30,382.70" stroke="#32a6df" stroke-width="3.0" fill="none" stroke-linejoin="round" stroke-linecap="round"/>
<path d="M181.30,382.70 C181.50,379.75 182.10,370.27 182.50,365.00 C182.90,359.73 183.50,353.42 183.70,351.10" stroke="#32a6df" stroke-width="1.7" fill="none" stroke-linejoin="round" stroke-linecap="round"/>
<path d="M183.65,350.42 L184.17,352.63 L184.39,353.55 L184.53,353.91 L185.03,351.60 L185.38,354.20 L185.64,354.06 L185.96,356.06 L186.38,354.17 L186.63,357.48 L186.86,355.95 L186.92,358.01 L187.16,358.19 L187.28,359.33 L187.64,358.17 L187.84,359.37 L187.85,359.41 L188.29,361.04 L188.41,360.46 L188.65,363.73 L188.73,363.49 L188.87,363.27 L189.11,365.63 L189.47,365.77 L189.56,365.03 L189.79,365.11 L190.16,364.77 L190.49,367.36 L190.70,367.66 L191.17,367.49 L191.28,369.68 L191.62,368.81 L192.13,371.00 L192.45,369.74 L192.71,371.75 L193.04,372.67 L193.28,373.08 L193.84,372.35 L194.01,372.63 L194.45,374.31 L194.61,373.55 L194.91,374.95 L195.45,374.49 L195.75,372.70 L196.18,375.19 L196.82,373.90 L197.21,376.29 L197.50,377.74 L197.87,376.55 L198.29,376.57 L198.81,378.14 L199.19,378.01 L199.93,379.61 L200.20,379.28 L200.76,377.75 L201.53,379.55 L201.86,378.34 L202.41,377.96 L203.00,383.50 L203.46,380.88 L204.01,382.04 L204.68,382.20 L205.58,381.16 L206.02,381.84 L206.66,383.24 L207.36,384.14 L208.14,381.67 L208.74,384.35 L209.36,381.18 L210.07,384.05 L210.61,383.01 L211.33,382.02 L211.74,381.89 L212.63,383.34 L213.08,383.37 L213.69,382.39 L214.30,379.86 L215.05,382.20 L215.59,383.82 L216.15,382.98 L217.00,383.22 L217.50,383.06 L218.27,384.80 L218.73,383.09 L219.25,383.19 L219.95,383.32 L220.55,383.08 L221.26,383.92 L221.83,381.55 L222.45,381.64 L223.05,382.43 L223.58,382.11 L224.22,385.11 L224.95,381.14 L225.49,381.04 L226.12,382.47 L226.79,383.45 L227.56,383.59 L227.90,380.74 L228.53,381.83 L229.28,380.29 L229.93,383.32 L230.65,382.30 L231.24,383.92 L231.69,380.14 L232.26,382.91 L233.00,382.20" stroke="#32a6df" stroke-width="3.0" fill="none" stroke-linejoin="round" stroke-linecap="round"/>
<path d="M181.50,383.00 C181.83,389.97 182.82,409.48 183.50,424.80 C184.18,440.12 185.25,466.55 185.60,474.90" stroke="#32a6df" stroke-width="1.7" fill="none" stroke-linejoin="round" stroke-linecap="round"/>
<path d="M185.60,474.90 C186.12,470.07 187.65,454.25 188.70,445.90 C189.75,437.55 190.67,431.47 191.90,424.80 C193.13,418.13 195.40,409.05 196.10,405.90" stroke="#32a6df" stroke-width="1.7" fill="none" stroke-linejoin="round" stroke-linecap="round"/>
<path d="M196.15,406.80 L196.56,405.14 L196.84,403.56 L197.08,404.06 L197.51,403.69 L197.68,404.38 L198.03,402.09 L198.31,402.17 L198.81,402.93 L198.96,402.11 L199.44,401.06 L199.71,400.26 L199.93,400.73 L200.35,396.79 L200.78,399.02 L201.18,397.28 L201.32,397.50 L201.86,396.66 L201.91,395.61 L202.37,395.40 L202.63,394.46 L203.08,395.35 L203.21,393.96 L203.63,392.53 L203.91,393.85 L204.41,392.60 L204.56,391.09 L205.12,390.99 L205.22,392.64 L205.54,390.62 L206.09,389.30 L206.27,389.77 L206.58,389.59 L207.13,389.04 L207.53,387.97 L207.96,388.18 L208.39,387.17 L208.88,385.31 L209.61,387.58 L210.04,388.03 L210.40,385.48 L210.84,386.44 L211.28,384.05 L211.95,383.57 L212.47,384.79 L213.05,384.90 L213.72,384.17 L214.53,385.79 L214.93,385.75 L215.60,384.83 L216.24,382.59 L216.75,383.22 L217.63,384.21 L218.04,382.78 L218.61,385.48 L219.35,384.60 L219.86,382.58 L220.48,385.84 L221.17,384.73 L221.93,384.59 L222.41,383.42 L223.23,383.36 L223.78,383.39 L224.28,383.82 L225.03,383.89 L225.70,382.35 L226.05,382.15 L226.73,381.51 L227.56,384.06 L228.01,383.68 L228.66,384.62 L229.41,384.31 L229.98,385.10 L230.62,383.77 L231.09,382.35 L231.71,382.53 L232.25,384.72 L233.00,383.50" stroke="#32a6df" stroke-width="3.0" fill="none" stroke-linejoin="round" stroke-linecap="round"/>
<text x="652.50" y="275.40" textLength="50.53" lengthAdjust="spacingAndGlyphs">+PTX</text>
<text x="642.28" y="315.00" textLength="29.50" lengthAdjust="spacingAndGlyphs">Sal</text>
<text x="745.97" y="313.80" textLength="31.40" lengthAdjust="spacingAndGlyphs">Ket</text>
<text x="541.36" y="373.30" textLength="71.92" lengthAdjust="spacingAndGlyphs">+40 mV</text>
<text x="544.20" y="402.50" textLength="69.08" lengthAdjust="spacingAndGlyphs">–70 mV</text>
<text x="656.8" y="446.7" text-anchor="middle" transform="rotate(-90 656.8 446.7)" textLength="53.31" lengthAdjust="spacingAndGlyphs">75 pA</text>
<path d="M664.3,457.5 L664.3,471.2 L674.8,471.2" stroke="#000" stroke-width="1.8" fill="none"/>
<text x="658.91" y="491.10" textLength="57.85" lengthAdjust="spacingAndGlyphs">10 ms</text>
<line x1="659.9" y1="322.8" x2="659.9" y2="394.0" stroke="#000" stroke-width="1.9" stroke-dasharray="4.8 3.5"/>
<line x1="762.2" y1="322.8" x2="762.2" y2="394.0" stroke="#000" stroke-width="1.9" stroke-dasharray="4.8 3.5"/>
<path d="M607.31,382.70 L607.87,382.44 L608.46,382.41 L609.34,382.60 L609.92,382.97 L610.28,382.68 L610.88,382.15 L611.58,382.71 L612.12,382.28 L612.85,382.94 L613.47,383.00 L613.89,382.28 L614.70,382.58 L615.16,383.14 L615.87,382.78 L616.32,382.95 L616.90,383.04 L617.55,382.39 L618.17,383.12 L618.72,382.68 L619.49,382.09 L620.00,382.70" stroke="#8cc21f" stroke-width="2.3" fill="none" stroke-linejoin="round" stroke-linecap="round"/>
<path d="M620.00,382.70 C620.25,379.75 621.05,370.72 621.50,365.00 C621.95,359.28 622.25,351.42 622.70,348.40 C623.15,345.38 623.42,346.63 624.20,346.90 C624.98,347.17 626.87,349.48 627.40,350.00" stroke="#8cc21f" stroke-width="1.8" fill="none" stroke-linejoin="round" stroke-linecap="round"/>
<path d="M627.28,349.12 L627.75,350.82 L628.24,350.46 L628.33,351.55 L628.73,352.30 L629.32,351.97 L629.50,352.80 L630.00,353.48 L630.33,354.35 L630.73,355.17 L631.06,355.56 L631.36,355.61 L631.77,356.35 L632.21,356.27 L632.61,356.85 L632.97,357.37 L633.45,358.56 L633.90,358.74 L634.39,359.63 L634.67,359.78 L635.39,360.00 L636.00,360.25 L636.59,360.48 L637.08,360.59 L637.82,361.24 L638.21,360.93 L638.82,361.39 L639.53,362.14 L639.91,362.09 L640.61,362.39 L641.20,362.69 L641.59,363.08 L642.26,362.88 L642.68,363.51 L643.24,363.80 L643.80,364.15 L644.34,364.22 L644.89,364.25 L645.49,364.59 L646.20,364.90 L646.82,364.82 L647.54,365.28 L647.97,365.15 L648.84,365.75 L649.21,365.44 L650.10,365.07 L650.64,366.29 L651.30,366.28 L651.72,366.62 L652.37,366.62 L652.90,365.86 L653.52,366.21 L654.17,366.95 L654.69,366.86 L655.52,367.56 L655.86,366.61 L656.46,367.08 L657.30,367.80 L657.82,367.92 L658.44,367.62 L659.02,368.24 L659.59,367.78 L660.20,367.75 L660.69,367.85 L661.36,367.96 L662.13,368.39 L662.57,368.02 L663.27,368.63 L663.86,368.69 L664.37,368.27 L664.97,368.89 L665.76,369.32 L666.41,369.19 L666.94,369.39 L667.51,369.22 L668.29,369.62 L668.92,369.77 L669.45,369.42 L670.13,369.20 L670.60,369.50" stroke="#8cc21f" stroke-width="2.3" fill="none" stroke-linejoin="round" stroke-linecap="round"/>
<path d="M620.00,383.00 C620.18,389.97 620.57,407.47 621.10,424.80 C621.63,442.13 622.85,476.63 623.20,487.00" stroke="#8cc21f" stroke-width="1.8" fill="none" stroke-linejoin="round" stroke-linecap="round"/>
<path d="M623.20,487.00 C623.55,481.92 624.60,466.87 625.30,456.50 C626.00,446.13 626.52,433.23 627.40,424.80 C628.28,416.37 629.20,411.17 630.60,405.90 C632.00,400.63 633.52,396.10 635.80,393.20 C638.08,390.30 642.88,389.28 644.30,388.50" stroke="#8cc21f" stroke-width="1.8" fill="none" stroke-linejoin="round" stroke-linecap="round"/>
<path d="M644.30,389.25 L644.82,388.25 L645.62,388.53 L646.11,388.32 L646.85,388.74 L647.32,388.92 L648.10,388.51 L648.75,388.54 L649.15,388.14 L649.80,388.54 L650.34,388.17 L651.23,388.24 L651.77,388.17 L652.41,387.83 L652.83,387.43 L653.52,387.79 L654.29,387.41 L654.91,387.64 L655.29,388.29 L655.98,387.78 L656.71,387.70 L657.25,388.86 L657.80,387.83 L658.35,387.42 L659.13,388.42 L659.59,387.99 L660.31,388.26 L660.93,387.75 L661.43,387.89 L661.99,387.80 L662.73,387.42 L663.43,387.97 L663.80,387.87 L664.38,388.30 L664.98,387.70 L665.70,387.93 L666.26,387.40 L666.87,387.57 L667.60,387.61 L668.30,387.83 L668.70,387.89 L669.43,387.93 L670.10,387.87 L670.60,387.80" stroke="#8cc21f" stroke-width="2.3" fill="none" stroke-linejoin="round" stroke-linecap="round"/>
<path d="M698.93,383.85 L699.46,383.95 L700.17,383.84 L700.86,383.31 L701.49,384.67 L701.95,384.41 L702.65,384.22 L703.21,384.31 L703.93,384.46 L704.31,383.28 L704.95,383.96 L705.58,383.88 L706.32,383.96 L706.97,384.48 L707.42,384.64 L707.96,384.90 L708.76,383.80 L709.15,384.72 L709.90,383.68 L710.59,383.99 L711.00,384.39 L711.65,384.69 L712.41,384.40 L713.00,384.70 L713.48,383.71 L714.17,383.57 L714.76,384.61 L715.29,383.57 L715.88,383.39 L716.69,384.65 L717.10,384.33 L717.86,385.00 L718.34,384.05 L719.00,384.30" stroke="#32a6df" stroke-width="2.3" fill="none" stroke-linejoin="round" stroke-linecap="round"/>
<path d="M719.00,384.30 C719.25,382.75 719.98,378.43 720.50,375.00 C721.02,371.57 720.95,366.02 722.10,363.70 C723.25,361.38 725.72,360.92 727.40,361.10 C729.08,361.28 731.40,364.18 732.20,364.80" stroke="#32a6df" stroke-width="1.8" fill="none" stroke-linejoin="round" stroke-linecap="round"/>
<path d="M732.31,364.66 L732.79,365.53 L733.17,365.53 L733.74,365.65 L734.06,367.00 L734.64,366.61 L734.98,367.52 L735.41,367.55 L735.85,368.42 L736.52,368.89 L736.92,369.35 L737.79,369.35 L738.24,369.54 L738.78,369.72 L739.61,369.39 L740.25,369.50 L740.68,369.80 L741.54,370.08 L742.17,370.55 L742.81,370.51 L743.40,371.02 L743.76,371.01 L744.30,372.07 L745.08,371.71 L745.60,372.04 L746.07,371.51 L746.59,372.80 L747.19,372.88 L747.80,372.65 L748.35,373.00 L748.93,373.12 L749.52,373.02 L750.28,372.80 L750.75,373.75 L751.15,373.60 L751.95,374.38 L752.39,374.21 L752.92,374.06 L753.69,375.35 L754.06,375.32 L754.58,375.31 L755.44,375.95 L755.79,374.95 L756.67,375.55 L757.13,375.26 L757.96,375.75 L758.43,376.16 L759.05,375.85 L759.84,375.88 L760.46,376.18 L760.93,376.44 L761.79,375.80 L762.34,376.36 L762.87,377.15 L763.62,377.76 L763.96,377.69 L764.61,377.40 L765.30,378.54 L765.86,378.12 L766.50,377.75 L767.13,378.00 L767.78,377.36 L768.30,377.96 L769.06,378.32 L769.61,378.14 L770.16,377.95 L770.87,378.05 L771.38,378.18 L772.12,378.34 L772.56,378.62 L773.29,378.53 L773.73,378.25 L774.37,378.26 L774.96,378.96 L775.62,378.98 L776.35,379.62 L776.77,378.84 L777.50,378.70" stroke="#32a6df" stroke-width="2.3" fill="none" stroke-linejoin="round" stroke-linecap="round"/>
<path d="M719.50,384.50 C719.58,389.47 719.68,399.07 720.00,414.30 C720.32,429.53 721.17,465.63 721.40,475.90" stroke="#32a6df" stroke-width="1.8" fill="none" stroke-linejoin="round" stroke-linecap="round"/>
<path d="M721.40,475.90 C721.78,470.90 722.97,456.17 723.70,445.90 C724.43,435.63 724.92,422.38 725.80,414.30 C726.68,406.22 727.58,401.08 729.00,397.40 C730.42,393.72 733.42,393.07 734.30,392.20" stroke="#32a6df" stroke-width="1.8" fill="none" stroke-linejoin="round" stroke-linecap="round"/>
<path d="M734.27,392.16 L735.05,392.15 L735.48,391.12 L736.01,391.39 L736.61,391.14 L737.27,391.45 L737.99,390.91 L738.56,390.03 L739.09,390.37 L739.59,389.82 L740.37,389.67 L741.02,389.21 L741.57,389.68 L742.08,389.31 L742.81,389.63 L743.40,388.64 L743.99,388.01 L744.60,388.30 L745.21,388.60 L745.67,387.77 L746.47,388.60 L747.06,388.14 L747.63,388.43 L748.30,387.38 L749.01,388.09 L749.40,387.25 L750.08,386.94 L750.73,387.50 L751.36,387.25 L751.86,387.34 L752.59,386.09 L753.08,386.45 L753.89,386.70 L754.45,386.48 L755.08,386.41 L755.67,387.28 L756.37,386.96 L756.91,387.09 L757.71,386.90 L758.14,387.44 L758.78,387.28 L759.29,386.83 L760.12,387.43 L760.64,387.23 L761.38,387.57 L762.06,387.03 L762.64,387.29 L763.14,387.42 L763.88,387.60 L764.52,387.06 L765.06,386.97 L765.59,387.63 L766.33,387.13 L767.01,387.35 L767.47,386.72 L768.17,387.62 L768.74,387.57 L769.51,386.95 L769.95,387.33 L770.63,386.91 L771.34,386.88 L771.83,386.82 L772.51,387.10 L773.12,386.34 L773.72,386.23 L774.51,386.71 L775.11,386.47 L775.75,386.58 L776.35,386.28 L776.92,386.51 L777.50,386.40" stroke="#32a6df" stroke-width="2.3" fill="none" stroke-linejoin="round" stroke-linecap="round"/>
<text x="55.28" y="1261.10" textLength="127.38" lengthAdjust="spacingAndGlyphs">+NBQX +PTX</text>
<line x1="133.1" y1="1319.4" x2="147.2" y2="1319.4" stroke="#8cc21f" stroke-width="1.9"/>
<text x="151.17" y="1326.70" textLength="29.94" lengthAdjust="spacingAndGlyphs">Sal</text>
<line x1="133.1" y1="1342.9" x2="147.2" y2="1342.9" stroke="#32a6df" stroke-width="1.9"/>
<text x="151.61" y="1350.50" textLength="30.77" lengthAdjust="spacingAndGlyphs">Ket</text>
<text x="0.98" y="1404.00" textLength="70.91" lengthAdjust="spacingAndGlyphs">+40 mV</text>
<text x="145.1" y="1445.2" text-anchor="middle" transform="rotate(-90 145.1 1445.2)" textLength="53.31" lengthAdjust="spacingAndGlyphs">20 pA</text>
<path d="M152.5,1452.3 L152.5,1470.4 L171.8,1470.4" stroke="#000" stroke-width="1.8" fill="none"/>
<text x="149.01" y="1492.30" textLength="57.75" lengthAdjust="spacingAndGlyphs">10 ms</text>
<path d="M43.74,1413.21 L44.26,1413.20 L44.71,1413.41 L45.35,1413.27 L45.94,1412.79 L46.77,1413.27 L47.38,1412.94 L47.91,1413.33 L48.60,1412.54 L49.18,1413.36 L49.76,1412.95 L50.33,1413.18 L51.04,1412.72 L51.55,1413.17 L52.04,1413.53 L52.76,1413.67 L53.26,1413.38 L53.98,1412.64 L54.70,1413.21 L55.05,1413.47 L55.83,1412.77 L56.47,1413.44 L57.01,1412.83 L57.78,1413.77 L58.30,1413.49 L58.72,1412.67 L59.61,1412.77 L60.04,1413.73 L60.69,1413.14 L61.43,1413.90 L61.96,1413.35 L62.48,1413.48 L63.13,1412.87 L63.76,1413.24 L64.34,1412.89 L64.95,1412.41 L65.52,1412.92 L66.29,1412.76 L66.74,1413.50 L67.42,1413.85 L68.11,1413.10 L68.59,1413.04 L69.27,1413.55 L69.90,1413.23 L70.53,1413.07 L71.19,1413.06 L71.63,1413.16 L72.30,1413.20" stroke="#32a6df" stroke-width="2.4" fill="none" stroke-linejoin="round" stroke-linecap="round"/>
<path d="M72.15,1413.62 L72.63,1413.63 L72.95,1412.24 L73.23,1410.29 L73.54,1410.20 L73.83,1409.58 L74.15,1409.69 L74.39,1409.62 L74.77,1409.72 L74.84,1410.22 L75.35,1411.23 L75.52,1410.79 L75.94,1411.88 L76.06,1411.67 L76.36,1412.48 L76.69,1413.64 L77.04,1414.15 L77.66,1413.93 L78.14,1414.67 L78.94,1414.62 L79.69,1413.92 L80.17,1414.03 L80.65,1414.80 L81.04,1412.46 L81.44,1413.08 L81.80,1412.43 L82.21,1411.55 L82.79,1411.00 L83.04,1410.71 L83.69,1409.95 L83.89,1410.29 L84.49,1409.26 L85.20,1408.89 L85.78,1408.65 L86.33,1408.66 L86.71,1407.20 L87.44,1407.36 L88.15,1407.04 L88.58,1408.42 L89.13,1407.55 L89.75,1407.26 L90.40,1407.13 L91.09,1407.91 L91.88,1407.73 L92.40,1408.55 L93.05,1408.35 L93.63,1408.13 L94.36,1408.07 L94.86,1407.97 L95.50,1407.92 L96.12,1408.82 L96.86,1407.45 L97.42,1408.65 L98.14,1408.91 L98.66,1408.99 L99.23,1408.43 L99.94,1409.20 L100.34,1408.32 L100.98,1409.32 L101.66,1408.68 L102.23,1409.75 L102.73,1408.52 L103.25,1409.07 L104.03,1409.68 L104.69,1409.31 L105.30,1409.15 L105.89,1409.72 L106.33,1408.84 L107.11,1409.63 L107.72,1408.70 L108.15,1410.00 L108.89,1409.82 L109.31,1409.53 L109.92,1408.42 L110.63,1409.37 L111.11,1409.16 L111.73,1409.71 L112.38,1408.93 L112.87,1410.23 L113.51,1409.24 L114.21,1411.00 L114.79,1409.66 L115.37,1410.13 L115.88,1410.34 L116.47,1410.49 L117.18,1410.30 L117.73,1410.58 L118.22,1410.95 L119.10,1410.93 L119.59,1411.39 L120.23,1411.71 L120.69,1412.01 L121.34,1411.70 L122.08,1411.70 L122.63,1411.16 L123.05,1411.97 L123.80,1410.95 L124.39,1412.69 L125.00,1412.64 L125.37,1412.30 L126.01,1412.59 L126.57,1412.66 L127.32,1412.82 L128.03,1412.01 L128.62,1413.00 L129.07,1412.62 L129.59,1412.70 L130.32,1412.20 L130.94,1412.98 L131.47,1412.04 L132.08,1412.91 L132.85,1413.27 L133.22,1412.52 L133.86,1412.21 L134.62,1412.88 L134.96,1411.52 L135.79,1411.85 L136.45,1411.31 L136.77,1412.49 L137.63,1412.61 L138.15,1411.71 L138.78,1412.53 L139.18,1411.69 L139.79,1412.17 L140.49,1411.98 L141.01,1412.15 L141.80,1412.65 L142.27,1411.95 L142.85,1412.24 L143.74,1411.80 L144.34,1412.19 L144.84,1411.84 L145.35,1412.91 L146.13,1411.66 L146.70,1411.61 L147.33,1412.92 L148.00,1412.39 L148.45,1412.47 L149.27,1411.96 L149.94,1412.16 L150.38,1412.04 L151.00,1412.47 L151.79,1412.19 L152.31,1412.64 L152.88,1412.61 L153.70,1412.30 L154.05,1413.06 L154.71,1412.04 L155.40,1412.41 L155.93,1412.88 L156.59,1414.27 L157.37,1412.40 L157.73,1412.24 L158.33,1413.53 L159.14,1412.13 L159.54,1413.84 L160.39,1412.35 L160.76,1412.73 L161.62,1412.18 L162.11,1412.45 L162.86,1412.63 L163.24,1413.14 L163.86,1412.60 L164.48,1411.72 L165.05,1413.08 L165.79,1412.86 L166.33,1412.69 L167.08,1413.16 L167.72,1412.21 L168.10,1412.33 L168.91,1411.83 L169.32,1412.94 L170.16,1412.01 L170.79,1413.33 L171.29,1413.59 L171.89,1412.61 L172.62,1412.47 L173.22,1412.82 L173.69,1412.75 L174.37,1412.91 L174.80,1411.96 L175.57,1412.43 L176.06,1412.30 L176.89,1411.60 L177.34,1412.38 L178.08,1412.02 L178.48,1413.37 L179.22,1411.61 L179.84,1411.89 L180.30,1412.38 L181.20,1412.55 L181.55,1412.81 L182.20,1412.55 L182.77,1412.39 L183.50,1412.50" stroke="#32a6df" stroke-width="2.4" fill="none" stroke-linejoin="round" stroke-linecap="round"/>
<path d="M43.66,1412.53 L44.23,1412.58 L44.82,1411.81 L45.28,1412.40 L46.11,1412.47 L46.49,1412.37 L47.20,1412.14 L47.69,1412.50 L48.37,1412.89 L49.11,1412.96 L49.49,1411.83 L50.10,1412.17 L50.90,1412.91 L51.38,1412.33 L52.10,1412.05 L52.73,1412.43 L53.28,1412.32 L53.75,1412.78 L54.38,1413.31 L55.12,1412.40 L55.69,1412.59 L56.21,1412.38 L56.94,1412.81 L57.38,1412.36 L58.04,1412.14 L58.47,1412.92 L59.18,1412.41 L59.69,1412.50 L60.54,1412.68 L61.04,1411.46 L61.69,1413.20 L62.06,1411.88 L62.84,1412.43 L63.33,1413.17 L64.01,1413.06 L64.53,1412.21 L65.21,1411.49 L65.74,1412.95 L66.34,1412.36 L67.03,1412.32 L67.74,1412.15 L68.19,1412.47 L68.81,1412.64 L69.29,1412.69 L69.94,1412.19 L70.52,1412.71 L71.08,1411.68 L71.83,1412.25 L72.42,1412.32 L73.00,1412.50" stroke="#8cc21f" stroke-width="2.5" fill="none" stroke-linejoin="round" stroke-linecap="round"/>
<path d="M75.90,1414.70 C76.33,1408.92 77.55,1391.37 78.50,1380.00 C79.45,1368.63 81.08,1352.08 81.60,1346.50" stroke="#8cc21f" stroke-width="1.7" fill="none" stroke-linejoin="round" stroke-linecap="round"/>
<path d="M81.66,1346.23 L82.17,1345.63 L82.75,1345.88 L83.28,1345.89 L83.92,1346.01 L84.46,1345.38 L85.04,1345.20 L85.77,1345.08 L86.24,1345.46 L86.76,1345.03 L87.48,1344.37 L87.60,1345.94 L87.98,1346.04 L88.17,1345.83 L88.67,1347.21 L88.78,1347.67 L89.27,1349.34 L89.40,1348.46 L90.16,1349.10 L90.75,1349.25 L91.33,1347.95 L92.00,1348.66 L92.53,1347.86 L93.23,1348.41 L93.64,1347.63 L94.47,1349.55 L94.99,1348.72 L95.58,1349.33 L96.16,1348.55 L96.88,1349.18 L97.36,1348.21 L97.68,1348.50 L97.92,1350.05 L98.24,1349.95 L98.51,1350.81 L98.94,1351.89 L99.12,1351.64 L99.34,1352.60 L99.74,1353.52 L100.03,1354.79 L100.25,1354.99 L100.67,1355.61 L100.75,1354.42 L101.09,1356.10 L101.25,1356.55 L101.68,1356.01 L102.01,1357.70 L102.21,1358.84 L102.48,1358.77 L102.80,1358.97 L103.04,1360.18 L103.24,1361.14 L103.56,1360.73 L103.71,1361.16 L104.12,1362.43 L104.39,1363.56 L104.64,1362.28 L104.90,1362.53 L105.14,1363.08 L105.47,1364.93 L105.67,1365.07 L106.14,1366.18 L106.37,1365.73 L107.09,1366.27 L107.60,1366.11 L108.05,1367.08 L108.35,1367.83 L108.90,1367.73 L109.29,1368.40 L109.91,1368.39 L110.50,1368.84 L110.87,1369.98 L111.40,1369.98 L111.74,1370.18 L112.22,1370.56 L112.86,1370.36 L113.14,1371.02 L113.71,1371.43 L114.23,1372.07 L114.68,1373.25 L115.12,1372.99 L115.51,1373.87 L115.98,1374.50 L116.46,1374.49 L117.15,1375.13 L117.57,1375.06 L117.86,1375.23 L118.57,1375.45 L118.92,1376.91 L119.35,1376.58 L120.04,1377.23 L120.42,1377.08 L120.88,1378.24 L121.30,1378.69 L122.09,1378.15 L122.45,1378.69 L122.85,1379.10 L123.64,1380.01 L124.15,1379.79 L124.64,1380.30 L125.20,1381.56 L125.58,1381.66 L126.07,1381.58 L126.77,1381.78 L127.41,1382.12 L127.90,1381.80 L128.40,1381.34 L129.06,1382.22 L129.64,1382.93 L130.32,1382.16 L130.87,1382.11 L131.47,1381.94 L132.20,1381.80 L132.66,1381.71 L133.24,1382.03 L133.74,1382.78 L134.28,1382.58 L134.74,1382.71 L135.29,1382.92 L135.97,1383.86 L136.49,1384.23 L136.99,1384.45 L137.48,1384.95 L137.89,1385.24 L138.58,1385.18 L138.96,1385.71 L139.36,1386.53 L140.05,1386.27 L140.53,1387.77 L141.07,1386.87 L141.62,1387.69 L142.43,1387.59 L142.93,1387.73 L143.46,1387.53 L144.18,1387.13 L144.76,1387.58 L145.22,1388.38 L145.85,1388.33 L146.60,1387.87 L147.04,1387.94 L147.76,1388.35 L148.31,1389.08 L148.89,1389.01 L149.47,1388.90 L150.16,1388.74 L150.91,1389.46 L151.50,1388.42 L151.89,1389.58 L152.65,1389.84 L153.24,1389.53 L153.84,1390.36 L154.44,1390.08 L154.93,1391.15 L155.61,1390.40 L156.29,1390.64 L156.84,1390.50 L157.22,1390.51 L157.86,1390.90 L158.52,1391.29 L159.01,1390.73 L159.65,1391.78 L160.44,1390.52 L160.86,1391.01 L161.51,1391.28 L161.98,1391.16 L162.83,1391.77 L163.18,1391.41 L164.02,1391.81 L164.44,1391.95 L164.99,1392.26 L165.83,1391.95 L166.37,1393.06 L166.87,1392.76 L167.58,1392.52 L167.99,1391.93 L168.85,1391.23 L169.38,1392.75 L170.00,1392.52 L170.52,1391.53 L171.01,1391.94 L171.75,1391.57 L172.48,1392.62 L172.82,1392.60 L173.62,1392.09 L174.18,1391.56 L174.91,1391.48 L175.30,1391.37 L175.85,1391.49 L176.50,1392.17 L177.14,1392.25 L177.85,1392.29 L178.29,1391.95 L178.92,1392.74 L179.64,1392.11 L180.20,1392.92 L180.54,1392.38 L181.31,1392.85 L181.80,1393.26 L182.41,1393.16 L182.96,1392.85 L183.50,1393.90" stroke="#8cc21f" stroke-width="2.5" fill="none" stroke-linejoin="round" stroke-linecap="round"/>
<text x="618.08" y="1260.90" textLength="126.87" lengthAdjust="spacingAndGlyphs">+NBQX +PTX</text>
<line x1="665.1" y1="1319.2" x2="679.0" y2="1319.2" stroke="#8cc21f" stroke-width="1.9"/>
<text x="683.09" y="1326.70" textLength="29.29" lengthAdjust="spacingAndGlyphs">Sal</text>
<line x1="665.1" y1="1342.9" x2="679.0" y2="1342.9" stroke="#32a6df" stroke-width="1.9"/>
<text x="683.08" y="1350.50" textLength="31.30" lengthAdjust="spacingAndGlyphs">Ket</text>
<text x="560.07" y="1399.00" textLength="71.62" lengthAdjust="spacingAndGlyphs">+40 mV</text>
<text x="710.1" y="1445.6" text-anchor="middle" transform="rotate(-90 710.1 1445.6)" textLength="53.31" lengthAdjust="spacingAndGlyphs">20 pA</text>
<path d="M718.6,1457.5 L718.6,1470.7 L737.1,1470.7" stroke="#000" stroke-width="1.8" fill="none"/>
<text x="714.62" y="1493.60" textLength="57.54" lengthAdjust="spacingAndGlyphs">10 ms</text>
<path d="M602.30,1409.84 L602.69,1409.62 L603.33,1410.02 L603.89,1409.66 L604.69,1409.93 L605.22,1409.94 L605.84,1409.90 L606.41,1409.77 L606.91,1409.82 L607.82,1409.70 L608.34,1409.55 L609.03,1409.55 L609.49,1409.63 L610.08,1409.86 L610.56,1410.11 L611.44,1409.40 L612.05,1409.31 L612.58,1409.70 L613.03,1409.96 L613.60,1409.80 L614.29,1409.04 L614.87,1409.26 L615.70,1409.18 L616.08,1409.84 L616.86,1409.06 L617.34,1409.96 L617.95,1410.30 L618.57,1409.38 L619.31,1409.59 L619.74,1410.14 L620.47,1409.82 L621.13,1409.49 L621.78,1408.97 L622.25,1409.50 L622.80,1409.70 L623.49,1410.17 L623.98,1409.96 L624.67,1409.85 L625.15,1409.67 L625.88,1409.90 L626.36,1410.22 L627.22,1410.08 L627.70,1409.21 L628.27,1409.48 L628.91,1409.34 L629.50,1409.22 L630.25,1409.89 L630.88,1409.85 L631.35,1409.95 L632.00,1409.57 L632.46,1409.89 L633.14,1408.80 L633.80,1409.70" stroke="#8cc21f" stroke-width="2.4" fill="none" stroke-linejoin="round" stroke-linecap="round"/>
<path d="M633.80,1409.70 C634.38,1409.82 636.35,1414.12 637.30,1410.40 C638.25,1406.68 638.65,1396.97 639.50,1387.40 C640.35,1377.83 640.97,1360.53 642.40,1353.00 C643.83,1345.47 645.95,1342.45 648.10,1342.20 C650.25,1341.95 654.10,1349.95 655.30,1351.50" stroke="#8cc21f" stroke-width="1.8" fill="none" stroke-linejoin="round" stroke-linecap="round"/>
<path d="M655.42,1351.76 L655.84,1352.94 L656.20,1352.20 L656.68,1353.35 L657.05,1353.44 L657.39,1352.76 L657.87,1353.65 L658.35,1354.40 L658.86,1355.29 L659.03,1355.60 L659.58,1356.36 L659.91,1356.02 L660.48,1356.33 L660.86,1356.58 L661.29,1357.42 L661.63,1358.31 L662.19,1359.14 L662.49,1359.01 L662.92,1359.01 L663.48,1359.67 L663.92,1360.56 L664.36,1360.24 L664.98,1360.65 L665.54,1361.41 L665.92,1361.57 L666.57,1362.02 L667.19,1361.63 L667.74,1363.25 L668.27,1363.46 L668.62,1363.16 L669.18,1362.94 L669.95,1362.97 L670.24,1363.66 L670.97,1364.52 L671.39,1364.67 L671.82,1364.65 L672.44,1365.05 L673.10,1364.76 L673.61,1366.20 L674.22,1365.31 L674.76,1366.11 L675.09,1366.75 L675.80,1366.71 L676.32,1367.48 L676.76,1367.52 L677.41,1368.62 L677.74,1368.12 L678.44,1369.05 L679.04,1369.25 L679.37,1369.80 L679.95,1369.30 L680.47,1369.17 L681.12,1370.45 L681.52,1370.66 L682.27,1370.76 L682.62,1370.69 L683.31,1371.16 L683.75,1372.05 L684.34,1372.46 L684.92,1372.43 L685.25,1371.44 L685.89,1372.89 L686.59,1373.27 L687.10,1373.40 L687.65,1373.48 L688.14,1373.34 L688.52,1374.25 L689.27,1373.59 L689.73,1375.00 L690.15,1374.15 L690.98,1374.31 L691.47,1374.07 L691.98,1373.69 L692.59,1373.05 L693.14,1373.00 L693.61,1372.64 L694.20,1372.57 L694.91,1372.64 L695.39,1372.29 L696.11,1372.59 L696.61,1373.28 L697.09,1372.85 L697.85,1373.42 L698.42,1374.46 L698.90,1374.39 L699.49,1374.70 L699.97,1374.39 L700.44,1375.14 L701.15,1376.31 L701.72,1375.80 L702.23,1375.96 L702.77,1376.03 L703.24,1376.70 L703.89,1376.74 L704.42,1377.07 L705.00,1377.57 L705.60,1377.21 L706.15,1377.41 L706.71,1377.87 L707.26,1377.94 L707.98,1377.45 L708.60,1377.82 L709.04,1378.25 L709.70,1377.92 L710.36,1378.88 L711.07,1377.93 L711.55,1379.30 L711.99,1378.90 L712.85,1379.28 L713.26,1379.02 L714.02,1378.69 L714.39,1378.41 L715.05,1379.49 L715.65,1379.80 L716.26,1379.75 L717.00,1379.95 L717.45,1380.42 L718.18,1380.55 L718.66,1379.89 L719.43,1381.01 L719.84,1380.51 L720.66,1381.04 L721.06,1380.68 L721.69,1380.29 L722.43,1381.05 L723.12,1381.48 L723.67,1381.89 L724.24,1381.20 L724.71,1382.32 L725.18,1382.15 L725.90,1382.60 L726.37,1382.27 L726.90,1383.11 L727.52,1384.27 L728.11,1383.72 L728.79,1384.44 L729.27,1384.39 L729.70,1384.67 L730.20,1384.88 L730.95,1385.65 L731.40,1385.70 L731.99,1385.16 L732.58,1385.60 L733.12,1385.82 L733.57,1387.00 L734.26,1386.76 L734.69,1385.66 L735.38,1386.44 L735.78,1385.59 L736.40,1385.30" stroke="#8cc21f" stroke-width="2.4" fill="none" stroke-linejoin="round" stroke-linecap="round"/>
<path d="M603.61,1410.67 L604.06,1410.42 L604.80,1410.14 L605.38,1409.97 L606.17,1410.54 L606.51,1411.03 L607.09,1410.52 L607.84,1410.52 L608.46,1410.77 L609.01,1411.17 L609.55,1410.65 L610.39,1410.91 L610.77,1410.98 L611.40,1410.48 L612.23,1409.87 L612.64,1410.36 L613.38,1410.04 L614.02,1410.41 L614.39,1410.31 L615.16,1410.19 L615.69,1410.38 L616.34,1410.20 L616.90,1411.02 L617.57,1409.86 L618.06,1410.26 L618.73,1410.53 L619.27,1410.42 L620.00,1410.80 L620.50,1410.47 L621.19,1410.21 L621.67,1410.67 L622.31,1409.66 L623.06,1410.31 L623.54,1409.92 L624.20,1410.33 L624.86,1410.03 L625.44,1409.71 L626.13,1410.27 L626.54,1410.37 L627.31,1409.90 L627.94,1410.40 L628.59,1410.73 L628.99,1410.26 L629.80,1410.10 L630.11,1410.24 L630.94,1409.95 L631.35,1410.31 L631.95,1410.50 L632.63,1410.51 L633.40,1409.75 L634.04,1410.26 L634.50,1410.00" stroke="#32a6df" stroke-width="2.4" fill="none" stroke-linejoin="round" stroke-linecap="round"/>
<path d="M634.50,1410.00 C635.00,1410.17 636.67,1413.33 637.50,1411.00 C638.33,1408.67 638.82,1400.28 639.50,1396.00 C640.18,1391.72 640.40,1386.73 641.60,1385.30 C642.80,1383.87 645.85,1387.05 646.70,1387.40" stroke="#32a6df" stroke-width="1.8" fill="none" stroke-linejoin="round" stroke-linecap="round"/>
<path d="M646.79,1387.47 L647.26,1388.26 L647.63,1388.21 L648.20,1388.49 L648.87,1388.82 L649.17,1389.27 L649.73,1389.29 L650.13,1389.53 L650.80,1390.25 L651.15,1390.43 L651.64,1390.28 L652.22,1390.15 L652.73,1391.52 L653.19,1392.75 L653.85,1391.99 L654.22,1392.67 L654.66,1393.18 L655.16,1392.74 L655.87,1393.44 L656.37,1394.42 L657.01,1394.05 L657.53,1393.62 L658.21,1394.34 L658.74,1394.72 L659.12,1394.64 L659.71,1395.79 L660.25,1395.55 L660.81,1396.90 L661.24,1397.42 L661.98,1396.74 L662.53,1396.55 L663.05,1396.96 L663.57,1397.48 L664.38,1397.63 L664.73,1396.70 L665.52,1397.62 L666.06,1398.73 L666.59,1398.41 L667.31,1398.63 L667.93,1398.27 L668.57,1399.08 L668.93,1398.85 L669.56,1399.06 L670.27,1399.32 L670.84,1400.25 L671.47,1399.78 L672.03,1400.78 L672.54,1400.09 L673.35,1400.29 L673.83,1400.57 L674.44,1400.28 L674.96,1401.62 L675.66,1401.93 L676.27,1400.47 L676.78,1401.29 L677.37,1401.80 L678.12,1401.29 L678.78,1402.60 L679.15,1401.48 L679.85,1402.60 L680.38,1401.63 L681.00,1402.50 L681.66,1402.75 L682.39,1402.09 L682.78,1402.56 L683.47,1403.36 L684.08,1402.70 L684.69,1402.98 L685.19,1402.07 L685.95,1402.47 L686.42,1403.28 L687.06,1402.68 L687.56,1403.33 L688.21,1402.86 L688.80,1402.98 L689.57,1403.02 L690.02,1403.52 L690.80,1403.70 L691.41,1403.56 L691.81,1402.54 L692.54,1403.66 L693.06,1403.80 L693.66,1403.51 L694.36,1403.29 L694.94,1403.90 L695.59,1403.23 L696.15,1403.90 L696.87,1404.03 L697.43,1404.76 L697.95,1403.49 L698.48,1403.39 L699.31,1403.39 L699.85,1404.21 L700.59,1403.89 L701.12,1403.83 L701.71,1403.14 L702.31,1404.23 L702.95,1404.45 L703.58,1403.81 L704.21,1404.47 L704.90,1403.62 L705.42,1404.92 L706.09,1404.48 L706.77,1404.39 L707.23,1404.18 L707.81,1404.54 L708.43,1404.31 L709.25,1404.41 L709.85,1404.54 L710.46,1404.57 L711.06,1404.87 L711.58,1403.60 L712.30,1404.30 L712.91,1405.47 L713.41,1405.67 L713.85,1405.83 L714.53,1405.57 L715.14,1405.70 L715.82,1406.74 L716.40,1405.85 L716.94,1406.17 L717.72,1406.38 L718.14,1405.26 L718.73,1406.63 L719.39,1406.28 L720.02,1405.51 L720.60,1406.14 L721.33,1406.41 L721.87,1407.06 L722.32,1405.88 L723.04,1406.61 L723.69,1405.94 L724.36,1406.42 L724.82,1405.90 L725.52,1405.31 L726.08,1406.55 L726.81,1405.91 L727.17,1405.51 L727.78,1406.36 L728.63,1406.65 L729.03,1406.36 L729.86,1405.35 L730.34,1405.80 L731.00,1405.93 L731.46,1405.76 L732.26,1406.71 L732.67,1406.90 L733.25,1406.75 L734.11,1406.54 L734.56,1405.91 L735.31,1405.81 L735.85,1406.19 L736.40,1406.10" stroke="#32a6df" stroke-width="2.4" fill="none" stroke-linejoin="round" stroke-linecap="round"/>
<text x="91.26" y="35.80" textLength="88.59" lengthAdjust="spacingAndGlyphs">Sal or ket</text>
<text x="121.30" y="60.90" textLength="29.63" lengthAdjust="spacingAndGlyphs">i.p.</text>
<line x1="131.0" y1="71.4" x2="131.0" y2="100.0" stroke="#fb0606" stroke-width="1.8"/>
<path d="M131.00,111.20 L124.80,95.70 L131.00,99.70 L137.20,95.70 Z" fill="#fb0606"/>
<text x="16.87" y="95.50" textLength="43.48" lengthAdjust="spacingAndGlyphs">CRS</text>
<line x1="9.8" y1="106.4" x2="74.0" y2="106.4" stroke="#6cb66a" stroke-width="1.8"/>
<path d="M84.00,106.40 L68.00,112.40 L72.00,106.40 L68.00,100.40 Z" fill="#6cb66a"/>
<line x1="2.0" y1="124.7" x2="152.0" y2="124.7" stroke="#000" stroke-width="1.8"/>
<path d="M164.30,124.70 L148.80,131.10 L153.80,124.70 L148.80,118.30 Z" fill="#000"/>
<line x1="8.1" y1="114.2" x2="8.1" y2="124.7" stroke="#000" stroke-width="1.7"/>
<line x1="84.1" y1="113.2" x2="84.1" y2="124.7" stroke="#000" stroke-width="1.7"/>
<line x1="131.0" y1="112.9" x2="131.0" y2="124.7" stroke="#000" stroke-width="1.7"/>
<text x="2.10" y="151.00" textLength="26.40" lengthAdjust="spacingAndGlyphs">D0</text>
<text x="62.43" y="151.00" textLength="37.06" lengthAdjust="spacingAndGlyphs">D14</text>
<text x="119.00" y="150.90" textLength="37.71" lengthAdjust="spacingAndGlyphs">D16</text>
<path d="M183.6,87.7 L167.2,87.7 L167.2,145.3 L183.6,145.3" stroke="#000" stroke-width="1.8" fill="none"/>
<text x="191.67" y="94.10" textLength="68.72" lengthAdjust="spacingAndGlyphs">Group1</text>
<text x="191.67" y="151.10" textLength="68.77" lengthAdjust="spacingAndGlyphs">Group2</text>
<line x1="266.9" y1="88.2" x2="334.0" y2="88.2" stroke="#000" stroke-width="1.8"/>
<path d="M346.20,88.20 L330.70,94.60 L335.70,88.20 L330.70,81.80 Z" fill="#000"/>
<line x1="307.4" y1="78.2" x2="307.4" y2="88.2" stroke="#000" stroke-width="1.7"/>
<text x="291.93" y="72.70" textLength="29.03" lengthAdjust="spacingAndGlyphs">1 h</text>
<text x="275.16" y="49.50" textLength="38.68" lengthAdjust="spacingAndGlyphs">D16</text>
<text x="341.78" y="49.50" textLength="38.20" lengthAdjust="spacingAndGlyphs">D17</text>
<path d="M351,88.2 L436.2,88.2 L436.2,145.0 L418.1,145.0" stroke="#000" stroke-width="1.8" fill="none"/>
<line x1="436.2" y1="117.4" x2="447.3" y2="117.4" stroke="#000" stroke-width="1.8"/>
<line x1="266.9" y1="144.8" x2="403.0" y2="144.8" stroke="#000" stroke-width="1.8"/>
<path d="M415.90,144.80 L400.40,151.20 L405.40,144.80 L400.40,138.40 Z" fill="#000"/>
<line x1="368.2" y1="134.9" x2="368.2" y2="144.8" stroke="#000" stroke-width="1.6"/>
<text x="343.05" y="131.30" textLength="40.84" lengthAdjust="spacingAndGlyphs">24 h</text>
<text x="451.37" y="87.50" textLength="209.00" lengthAdjust="spacingAndGlyphs">Brain slice preparation</text>
<text x="451.88" y="112.40" textLength="215.44" lengthAdjust="spacingAndGlyphs">for electrophysiological</text>
<text x="451.68" y="137.20" textLength="167.60" lengthAdjust="spacingAndGlyphs">recording (without</text>
<text x="451.40" y="162.40" textLength="119.09" lengthAdjust="spacingAndGlyphs">Ket in ACSF)</text>
<g transform="translate(162.3,78.1) rotate(-45)"><line x1="0" y1="0" x2="14" y2="0" stroke="#000" stroke-width="1.3"/><path d="M14,-1.6 L22,-4.2 L22,4.2 L14,1.6 Z" fill="#b4cdf0" stroke="#000" stroke-width="1.6" stroke-linejoin="round"/><rect x="22" y="-5.2" width="4" height="10.4" fill="#000"/><rect x="26" y="-6.1" width="43.5" height="12.2" fill="#fff" stroke="#000" stroke-width="2.1"/><line x1="30.0" y1="-6" x2="30.0" y2="-0.6" stroke="#000" stroke-width="1.8"/><line x1="33.9" y1="-6" x2="33.9" y2="-0.6" stroke="#000" stroke-width="1.8"/><line x1="37.8" y1="-6" x2="37.8" y2="-0.6" stroke="#000" stroke-width="1.8"/><line x1="41.7" y1="-6" x2="41.7" y2="-0.6" stroke="#000" stroke-width="1.8"/><line x1="45.6" y1="-6" x2="45.6" y2="-0.6" stroke="#000" stroke-width="1.8"/><line x1="49.5" y1="-6" x2="49.5" y2="-0.6" stroke="#000" stroke-width="1.8"/><line x1="53.4" y1="-6" x2="53.4" y2="-0.6" stroke="#000" stroke-width="1.8"/><line x1="57.3" y1="-6" x2="57.3" y2="-0.6" stroke="#000" stroke-width="1.8"/><line x1="61.2" y1="-6" x2="61.2" y2="-0.6" stroke="#000" stroke-width="1.8"/><line x1="69.5" y1="-12.4" x2="69.5" y2="12.4" stroke="#000" stroke-width="1.9"/><path d="M69.5,-3.2 L80.5,-2.4 M69.5,3.2 L80.5,2.4" stroke="#000" stroke-width="1.7"/><line x1="80.5" y1="-6" x2="80.5" y2="6" stroke="#000" stroke-width="1.9"/></g>
<text x="779.94" y="34.00" textLength="105.64" lengthAdjust="spacingAndGlyphs">Stimulating</text>
<text x="786.60" y="58.80" textLength="87.03" lengthAdjust="spacingAndGlyphs">electrode</text>
<text x="947.54" y="61.10" textLength="97.21" lengthAdjust="spacingAndGlyphs">Recording</text>
<text x="949.99" y="84.20" textLength="87.64" lengthAdjust="spacingAndGlyphs">electrode</text>
<path d="M769.40,118.60 C770.83,116.87 774.08,110.88 778.00,108.20 C781.92,105.52 787.55,103.73 792.90,102.50 C798.25,101.27 804.93,101.67 810.10,100.80 C815.27,99.93 819.30,98.35 823.90,97.30 C828.50,96.25 833.48,94.68 837.70,94.50 C841.92,94.32 845.75,95.25 849.20,96.20 C852.65,97.15 856.50,98.77 858.40,100.20 C860.30,101.63 860.80,103.65 860.60,104.80 C860.40,105.95 858.72,107.00 857.20,107.10 C855.68,107.20 853.98,106.17 851.50,105.40 C849.02,104.63 845.75,103.08 842.30,102.50 C838.85,101.92 834.63,101.90 830.80,101.90 C826.97,101.90 822.75,102.12 819.30,102.50 C815.85,102.88 811.63,103.92 810.10,104.20" stroke="#c4c4c4" stroke-width="1.2" fill="none" stroke-linecap="round" stroke-linejoin="round"/>
<path d="M771.10,124.30 C772.82,124.88 777.77,127.42 781.40,127.80 C785.03,128.18 789.27,127.57 792.90,126.60 C796.53,125.63 800.33,123.92 803.20,122.00 C806.07,120.08 808.57,117.40 810.10,115.10 C811.63,112.80 812.20,110.02 812.40,108.20 C812.60,106.38 811.48,104.87 811.30,104.20" stroke="#c4c4c4" stroke-width="1.2" fill="none" stroke-linecap="round" stroke-linejoin="round"/>
<path d="M769.40,118.60 C769.68,119.55 770.82,123.35 771.10,124.30" stroke="#c4c4c4" stroke-width="1.2" fill="none" stroke-linecap="round" stroke-linejoin="round"/>
<path d="M792.90,108.20 C794.42,107.75 798.93,106.17 802.00,105.50 C805.07,104.83 809.75,104.42 811.30,104.20" stroke="#c4c4c4" stroke-width="1.1" fill="none" stroke-linecap="round" stroke-linejoin="round"/>
<path d="M775.70,114.00 C778.08,113.08 784.07,110.13 790.00,108.50 C795.93,106.87 807.75,104.92 811.30,104.20" stroke="#c4c4c4" stroke-width="1.1" fill="none" stroke-linecap="round" stroke-linejoin="round"/>
<path d="M826.20,104.80 C826.77,105.75 829.22,108.40 829.60,110.50 C829.98,112.60 829.27,115.48 828.50,117.40 C827.73,119.32 825.58,121.23 825.00,122.00" stroke="#c4c4c4" stroke-width="1.1" fill="none" stroke-linecap="round" stroke-linejoin="round"/>
<path d="M819.30,108.20 C818.15,110.12 814.12,116.25 812.40,119.70 C810.68,123.15 809.57,125.65 809.00,128.90 C808.43,132.15 808.75,136.52 809.00,139.20 C809.25,141.88 810.25,144.03 810.50,145.00" stroke="#c4c4c4" stroke-width="1.1" fill="none" stroke-linecap="round" stroke-linejoin="round"/>
<path d="M920.8,110.5 L923.9,111.6 L923.4,121.1 L931.8,131.6 L930.3,142.1 L925,133.7 L918.7,125.3 L919.7,116.8 Z" fill="#bdbdbd"/>
<path d="M769.40,93.50 C772.75,92.52 783.28,89.45 789.50,87.60 C795.72,85.75 800.97,83.93 806.70,82.40 C812.43,80.87 817.20,79.30 823.90,78.40 C830.60,77.50 839.87,77.35 846.90,77.00 C853.93,76.65 860.28,76.07 866.10,76.30 C871.92,76.53 878.57,77.60 881.80,78.40 C885.03,79.20 884.88,80.05 885.50,81.10 C886.12,82.15 885.50,84.10 885.50,84.70" stroke="#000" stroke-width="1.35" fill="none" stroke-linecap="round" stroke-linejoin="round"/>
<path d="M885.50,84.70 C884.53,85.50 881.72,87.48 879.70,89.50 C877.68,91.52 875.15,94.35 873.40,96.80 C871.65,99.25 870.60,101.57 869.20,104.20 C867.80,106.83 866.40,110.40 865.00,112.60 C863.60,114.80 861.50,116.60 860.80,117.40" stroke="#000" stroke-width="1.35" fill="none" stroke-linecap="round" stroke-linejoin="round"/>
<path d="M845.70,112.30 C846.75,112.75 849.88,114.15 852.00,115.00 C854.12,115.85 857.33,117.00 858.40,117.40" stroke="#000" stroke-width="1.35" fill="none" stroke-linecap="round" stroke-linejoin="round"/>
<path d="M885.50,82.60 C886.12,82.35 887.18,81.27 889.20,81.10 C891.22,80.93 894.97,80.90 897.60,81.60 C900.23,82.30 903.77,84.68 905.00,85.30" stroke="#000" stroke-width="1.35" fill="none" stroke-linecap="round" stroke-linejoin="round"/>
<path d="M921.80,91.60 C922.33,91.95 924.28,92.48 925.00,93.70 C925.72,94.92 926.45,97.15 926.10,98.90 C925.75,100.65 923.35,102.43 922.90,104.20 C922.45,105.97 922.35,108.27 923.40,109.50 C924.45,110.73 928.23,111.25 929.20,111.60" stroke="#000" stroke-width="1.35" fill="none" stroke-linecap="round" stroke-linejoin="round"/>
<path d="M773.80,126.50 C772.58,128.10 768.62,132.97 766.50,136.10 C764.38,139.23 762.32,142.50 761.10,145.30 C759.88,148.10 759.27,150.35 759.20,152.90 C759.13,155.45 759.73,157.92 760.70,160.60 C761.67,163.28 763.27,166.45 765.00,169.00 C766.73,171.55 768.82,173.98 771.10,175.90 C773.38,177.82 776.28,180.12 778.70,180.50 C781.12,180.88 783.68,179.35 785.60,178.20 C787.52,177.05 789.17,175.38 790.20,173.60 C791.23,171.82 791.67,169.55 791.80,167.50 C791.93,165.45 791.20,163.08 791.00,161.30 C790.80,159.52 790.35,158.32 790.60,156.80 C790.85,155.28 791.55,154.12 792.50,152.20 C793.45,150.28 795.67,146.45 796.30,145.30" stroke="#000" stroke-width="1.35" fill="none" stroke-linecap="round" stroke-linejoin="round"/>
<path d="M796.30,145.30 C795.92,144.92 795.27,143.45 794.00,143.00 C792.73,142.55 790.35,142.35 788.70,142.60 C787.05,142.85 785.05,143.42 784.10,144.50 C783.15,145.58 782.75,147.70 783.00,149.10 C783.25,150.50 784.40,152.38 785.60,152.90 C786.80,153.42 788.80,152.83 790.20,152.20 C791.60,151.57 792.98,150.25 794.00,149.10 C795.02,147.95 795.92,145.93 796.30,145.30" stroke="#000" stroke-width="1.35" fill="none" stroke-linecap="round" stroke-linejoin="round"/>
<path d="M798.60,143.00 C798.98,144.02 799.87,147.18 800.90,149.10 C801.93,151.02 803.65,152.58 804.80,154.50 C805.95,156.42 807.42,158.82 807.80,160.60 C808.18,162.38 807.98,163.98 807.10,165.20 C806.22,166.42 804.30,166.88 802.50,167.90 C800.70,168.92 798.35,170.10 796.30,171.30 C794.25,172.50 792.10,173.57 790.20,175.10 C788.30,176.63 785.78,179.60 784.90,180.50" stroke="#000" stroke-width="1.35" fill="none" stroke-linecap="round" stroke-linejoin="round"/>
<path d="M805.90,168.20 C807.12,168.33 810.97,168.48 813.20,169.00 C815.43,169.52 818.03,170.40 819.30,171.30 C820.57,172.20 820.67,173.12 820.80,174.40 C820.93,175.68 820.85,177.35 820.10,179.00 C819.35,180.65 817.97,182.78 816.30,184.30 C814.63,185.82 812.15,187.58 810.10,188.10 C808.05,188.62 806.03,187.90 804.00,187.40 C801.97,186.90 799.68,186.00 797.90,185.10 C796.12,184.20 794.83,182.63 793.30,182.00 C791.77,181.37 789.47,181.42 788.70,181.30" stroke="#000" stroke-width="1.35" fill="none" stroke-linecap="round" stroke-linejoin="round"/>
<path d="M768.40,183.90 C769.35,183.78 771.87,183.25 774.10,183.20 C776.33,183.15 779.23,183.17 781.80,183.60 C784.37,184.03 786.30,184.67 789.50,185.80 C792.70,186.93 797.18,188.98 801.00,190.40 C804.82,191.82 808.58,193.15 812.40,194.30 C816.22,195.45 820.13,196.53 823.90,197.30 C827.67,198.07 831.48,198.80 835.00,198.90 C838.52,199.00 841.05,198.60 845.00,197.90 C848.95,197.20 854.83,195.93 858.70,194.70 C862.57,193.47 864.70,191.90 868.20,190.50 C871.70,189.10 877.43,187.87 879.70,186.30 C881.97,184.73 881.97,182.50 881.80,181.10 C881.63,179.70 879.22,178.43 878.70,177.90" stroke="#000" stroke-width="1.35" fill="none" stroke-linecap="round" stroke-linejoin="round"/>
<path d="M889.20,178.90 C889.03,180.13 887.32,184.18 888.20,186.30 C889.08,188.42 891.87,190.90 894.50,191.60 C897.13,192.30 900.85,190.15 904.00,190.50 C907.15,190.85 908.85,193.97 913.40,193.70 C917.95,193.43 928.32,189.70 931.30,188.90" stroke="#000" stroke-width="1.35" fill="none" stroke-linecap="round" stroke-linejoin="round"/>
<path d="M879.70,164.20 C879.00,164.73 876.37,166.17 875.50,167.40 C874.63,168.63 874.15,170.38 874.50,171.60 C874.85,172.82 876.47,174.35 877.60,174.70 C878.73,175.05 880.07,174.22 881.30,173.70 C882.53,173.18 883.68,172.30 885.00,171.60 C886.32,170.90 888.23,170.55 889.20,169.50 C890.17,168.45 891.15,166.18 890.80,165.30 C890.45,164.42 888.95,164.38 887.10,164.20 C885.25,164.02 880.93,164.20 879.70,164.20" stroke="#000" stroke-width="1.2" fill="#fff" stroke-linecap="round" stroke-linejoin="round"/>
<path d="M886.00,171.50 C886.58,171.47 888.53,170.93 889.50,171.30 C890.47,171.67 891.35,172.67 891.80,173.70 C892.25,174.73 892.83,177.20 892.20,177.50 C891.57,177.80 889.03,176.50 888.00,175.50 C886.97,174.50 886.33,172.17 886.00,171.50" stroke="#000" stroke-width="1.2" fill="#fff" stroke-linecap="round" stroke-linejoin="round"/>
<path d="M892.2,175.5 L896.2,174.2" stroke="#000" stroke-width="1.1" fill="none"/>
<path d="M878.7,177.9 C878.5,176.5 879,175.5 880,175" stroke="#000" stroke-width="1.2" fill="none" stroke-linecap="round" stroke-linejoin="round"/>
<path d="M889.2,178.9 C889.5,177.5 890.3,177 891.5,177.2" stroke="#000" stroke-width="1.2" fill="none" stroke-linecap="round" stroke-linejoin="round"/>
<path d="M810.10,145.30 C810.83,144.25 812.93,140.97 814.50,139.00 C816.07,137.03 817.58,135.25 819.50,133.50 C821.42,131.75 823.73,129.88 826.00,128.50 C828.27,127.12 831.87,125.07 833.10,125.20 C834.33,125.33 834.42,128.20 833.40,129.30 C832.38,130.40 828.98,130.68 827.00,131.80 C825.02,132.92 823.17,134.47 821.50,136.00 C819.83,137.53 818.33,139.30 817.00,141.00 C815.67,142.70 814.47,145.27 813.50,146.20 C812.53,147.13 811.77,146.75 811.20,146.60 C810.63,146.45 810.28,145.52 810.10,145.30" stroke="#000" stroke-width="1.0" fill="#c8c8c8" stroke-linecap="round" stroke-linejoin="round"/>
<path d="M833.10,125.30 C833.92,125.05 836.08,124.20 838.00,123.80 C839.92,123.40 842.60,123.12 844.60,122.90 C846.60,122.68 848.10,122.55 850.00,122.50 C851.90,122.45 854.33,122.42 856.00,122.60 C857.67,122.78 858.83,123.12 860.00,123.60 C861.17,124.08 861.97,124.52 863.00,125.50 C864.03,126.48 865.32,128.00 866.20,129.50 C867.08,131.00 867.92,133.00 868.30,134.50 C868.68,136.00 868.80,137.28 868.50,138.50 C868.20,139.72 867.50,141.30 866.50,141.80 C865.50,142.30 863.85,141.88 862.50,141.50 C861.15,141.12 860.07,140.33 858.40,139.50 C856.73,138.67 854.42,137.50 852.50,136.50 C850.58,135.50 848.98,134.53 846.90,133.50 C844.82,132.47 842.25,131.08 840.00,130.30 C837.75,129.52 834.50,129.05 833.40,128.80 Z" stroke="none" stroke-width="0" fill="#f52a0c" stroke-linecap="round" stroke-linejoin="round"/>
<path d="M845,121.3 C849,120.2 855,119.5 858.4,119.2 C860,119 861.5,119.5 862.5,121 L863.2,125.3 C860,123.5 856,122.6 850,122.5 C847,122.5 846,122.6 845,122.8 Z" fill="#c8c8c8"/>
<path d="M862.9,141.8 L868.4,137.5 C869.5,140 870.8,143 872.3,147 C875,153 878.5,159.5 881.3,163.7 L879.7,164.2 C876,158.5 871.5,152 867.5,147 C865.5,144.8 864,143.3 862.9,141.8 Z" fill="#c8c8c8" stroke="#000" stroke-width="1.1" stroke-linejoin="round"/>
<path d="M797.5,74.4 L833.6,125.8" stroke="#000" stroke-width="1.1" fill="none"/>
<path d="M801.5,73.2 L836.2,125.2" stroke="#000" stroke-width="1.1" fill="none"/>
<circle cx="795.8" cy="73.8" r="2.9" fill="none" stroke="#000" stroke-width="1.1"/>
<circle cx="798.6" cy="70.9" r="2.9" fill="none" stroke="#000" stroke-width="1.1"/>
<path d="M852.6,129.8 L924.5,71.4 L933.6,85.4 Z" fill="#fff" stroke="#000" stroke-width="1.2" stroke-linejoin="round"/>
<ellipse cx="929.1" cy="78.4" rx="4.3" ry="8.3" transform="rotate(-34 929.1 78.4)" fill="#fff" stroke="#000" stroke-width="1.2"/>
<path d="M929.1,78.4 L945.5,67.3" stroke="#000" stroke-width="1.1" fill="none"/>
<path d="M939.6,67.5 L942.4,71.6 M941.8,66.0 L944.6,70.1" stroke="#000" stroke-width="1.1" fill="none"/>
<text x="736.75" y="113.20" textLength="62.13" lengthAdjust="spacingAndGlyphs">Cortex</text>
<text x="817.70" y="155.20" textLength="40.02" lengthAdjust="spacingAndGlyphs">LHb</text>
<text x="360.77" y="571.10" textLength="138.90" lengthAdjust="spacingAndGlyphs">NMDA +40 mV</text>
<text x="886.87" y="571.00" textLength="139.51" lengthAdjust="spacingAndGlyphs">NMDA +40 mV</text>
<text x="368.45" y="903.80" textLength="131.23" lengthAdjust="spacingAndGlyphs">AMPA –70 mV</text>
<text x="901.25" y="903.70" textLength="132.13" lengthAdjust="spacingAndGlyphs">AMPA –70 mV</text>
</svg></body></html>
